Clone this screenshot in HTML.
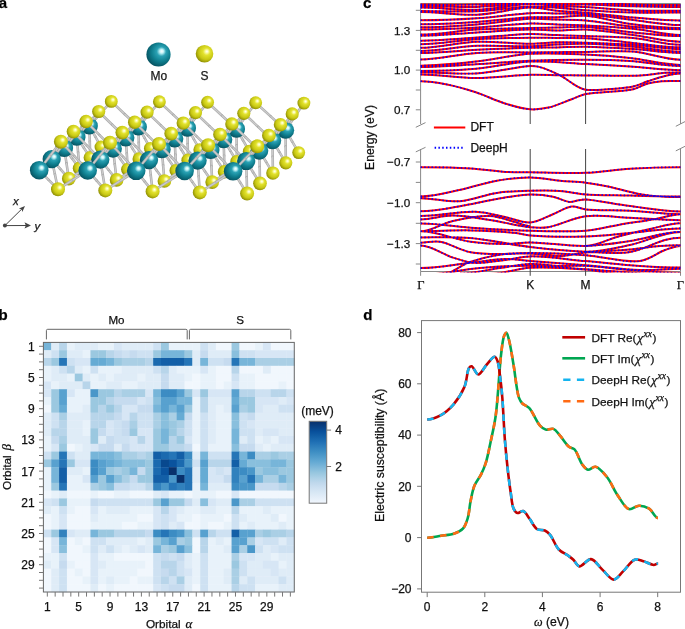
<!DOCTYPE html>
<html><head><meta charset="utf-8"><style>
html,body{margin:0;padding:0;background:#fff;overflow:hidden}
svg{display:block;font-family:"Liberation Sans",sans-serif;will-change:transform}
text{stroke:#111;stroke-width:0.25px}
</style></head><body>
<svg width="685" height="629" viewBox="0 0 685 629">
<rect width="685" height="629" fill="#fff"/>
<defs>
<radialGradient id="gMo" cx="0.58" cy="0.42" r="0.6" fx="0.64" fy="0.36">
<stop offset="0" stop-color="#ffffff"/><stop offset="0.13" stop-color="#c4f4f8"/><stop offset="0.32" stop-color="#2aa2b4"/><stop offset="0.65" stop-color="#0f7e8e"/><stop offset="1" stop-color="#065361"/></radialGradient>
<radialGradient id="gS" cx="0.58" cy="0.42" r="0.6" fx="0.64" fy="0.36">
<stop offset="0" stop-color="#ffffff"/><stop offset="0.14" stop-color="#fafaa8"/><stop offset="0.34" stop-color="#e2e22e"/><stop offset="0.7" stop-color="#c8c814"/><stop offset="1" stop-color="#8e8e04"/></radialGradient>
</defs>
<line x1="298.7" y1="152.6" x2="292.1" y2="141.4" stroke="#ababab" stroke-width="2.6" stroke-linecap="round"/><line x1="298.7" y1="152.6" x2="292.1" y2="141.4" stroke="#cdcdcd" stroke-width="1.2" stroke-linecap="round"/>
<circle cx="298.7" cy="152.6" r="6.44" fill="url(#gS)"/>
<line x1="249.3" y1="151.2" x2="242.9" y2="140.2" stroke="#ababab" stroke-width="2.6" stroke-linecap="round"/><line x1="249.3" y1="151.2" x2="242.9" y2="140.2" stroke="#cdcdcd" stroke-width="1.2" stroke-linecap="round"/>
<line x1="249.3" y1="151.2" x2="267.4" y2="140.7" stroke="#ababab" stroke-width="2.6" stroke-linecap="round"/><line x1="249.3" y1="151.2" x2="267.4" y2="140.7" stroke="#cdcdcd" stroke-width="1.2" stroke-linecap="round"/>
<circle cx="249.3" cy="151.2" r="6.44" fill="url(#gS)"/>
<line x1="199.8" y1="149.8" x2="193.7" y2="138.9" stroke="#ababab" stroke-width="2.6" stroke-linecap="round"/><line x1="199.8" y1="149.8" x2="193.7" y2="138.9" stroke="#cdcdcd" stroke-width="1.2" stroke-linecap="round"/>
<line x1="199.8" y1="149.8" x2="218.2" y2="139.5" stroke="#ababab" stroke-width="2.6" stroke-linecap="round"/><line x1="199.8" y1="149.8" x2="218.2" y2="139.5" stroke="#cdcdcd" stroke-width="1.2" stroke-linecap="round"/>
<circle cx="199.8" cy="149.8" r="6.44" fill="url(#gS)"/>
<line x1="150.4" y1="148.4" x2="144.4" y2="137.7" stroke="#ababab" stroke-width="2.6" stroke-linecap="round"/><line x1="150.4" y1="148.4" x2="144.4" y2="137.7" stroke="#cdcdcd" stroke-width="1.2" stroke-linecap="round"/>
<line x1="150.4" y1="148.4" x2="168.9" y2="138.2" stroke="#ababab" stroke-width="2.6" stroke-linecap="round"/><line x1="150.4" y1="148.4" x2="168.9" y2="138.2" stroke="#cdcdcd" stroke-width="1.2" stroke-linecap="round"/>
<circle cx="150.4" cy="148.4" r="6.44" fill="url(#gS)"/>
<line x1="101.0" y1="147.0" x2="95.2" y2="136.4" stroke="#ababab" stroke-width="2.6" stroke-linecap="round"/><line x1="101.0" y1="147.0" x2="95.2" y2="136.4" stroke="#cdcdcd" stroke-width="1.2" stroke-linecap="round"/>
<line x1="101.0" y1="147.0" x2="119.7" y2="137.0" stroke="#ababab" stroke-width="2.6" stroke-linecap="round"/><line x1="101.0" y1="147.0" x2="119.7" y2="137.0" stroke="#cdcdcd" stroke-width="1.2" stroke-linecap="round"/>
<circle cx="101.0" cy="147.0" r="6.44" fill="url(#gS)"/>
<line x1="303.9" y1="103.1" x2="294.8" y2="116.6" stroke="#ababab" stroke-width="2.6" stroke-linecap="round"/><line x1="303.9" y1="103.1" x2="294.8" y2="116.6" stroke="#cdcdcd" stroke-width="1.2" stroke-linecap="round"/>
<circle cx="303.9" cy="103.1" r="6.44" fill="url(#gS)"/>
<line x1="255.7" y1="102.7" x2="246.1" y2="115.9" stroke="#ababab" stroke-width="2.6" stroke-linecap="round"/><line x1="255.7" y1="102.7" x2="246.1" y2="115.9" stroke="#cdcdcd" stroke-width="1.2" stroke-linecap="round"/>
<line x1="255.7" y1="102.7" x2="270.7" y2="116.4" stroke="#ababab" stroke-width="2.6" stroke-linecap="round"/><line x1="255.7" y1="102.7" x2="270.7" y2="116.4" stroke="#cdcdcd" stroke-width="1.2" stroke-linecap="round"/>
<circle cx="255.7" cy="102.7" r="6.44" fill="url(#gS)"/>
<line x1="207.6" y1="102.2" x2="197.5" y2="115.2" stroke="#ababab" stroke-width="2.6" stroke-linecap="round"/><line x1="207.6" y1="102.2" x2="197.5" y2="115.2" stroke="#cdcdcd" stroke-width="1.2" stroke-linecap="round"/>
<line x1="207.6" y1="102.2" x2="222.1" y2="115.7" stroke="#ababab" stroke-width="2.6" stroke-linecap="round"/><line x1="207.6" y1="102.2" x2="222.1" y2="115.7" stroke="#cdcdcd" stroke-width="1.2" stroke-linecap="round"/>
<circle cx="207.6" cy="102.2" r="6.44" fill="url(#gS)"/>
<line x1="285.6" y1="130.2" x2="294.8" y2="116.6" stroke="#ababab" stroke-width="2.6" stroke-linecap="round"/><line x1="285.6" y1="130.2" x2="294.8" y2="116.6" stroke="#cdcdcd" stroke-width="1.2" stroke-linecap="round"/>
<line x1="285.6" y1="130.2" x2="270.7" y2="116.4" stroke="#ababab" stroke-width="2.6" stroke-linecap="round"/><line x1="285.6" y1="130.2" x2="270.7" y2="116.4" stroke="#cdcdcd" stroke-width="1.2" stroke-linecap="round"/>
<line x1="285.6" y1="130.2" x2="288.9" y2="122.0" stroke="#ababab" stroke-width="2.6" stroke-linecap="round"/><line x1="285.6" y1="130.2" x2="288.9" y2="122.0" stroke="#cdcdcd" stroke-width="1.2" stroke-linecap="round"/>
<line x1="285.6" y1="130.2" x2="292.1" y2="141.4" stroke="#ababab" stroke-width="2.6" stroke-linecap="round"/><line x1="285.6" y1="130.2" x2="292.1" y2="141.4" stroke="#cdcdcd" stroke-width="1.2" stroke-linecap="round"/>
<line x1="285.6" y1="130.2" x2="267.4" y2="140.7" stroke="#ababab" stroke-width="2.6" stroke-linecap="round"/><line x1="285.6" y1="130.2" x2="267.4" y2="140.7" stroke="#cdcdcd" stroke-width="1.2" stroke-linecap="round"/>
<line x1="285.6" y1="130.2" x2="285.7" y2="146.5" stroke="#ababab" stroke-width="2.6" stroke-linecap="round"/><line x1="285.6" y1="130.2" x2="285.7" y2="146.5" stroke="#cdcdcd" stroke-width="1.2" stroke-linecap="round"/>
<circle cx="285.6" cy="130.2" r="8.56" fill="url(#gMo)"/>
<line x1="159.4" y1="101.8" x2="148.9" y2="114.4" stroke="#ababab" stroke-width="2.6" stroke-linecap="round"/><line x1="159.4" y1="101.8" x2="148.9" y2="114.4" stroke="#cdcdcd" stroke-width="1.2" stroke-linecap="round"/>
<line x1="159.4" y1="101.8" x2="173.4" y2="114.9" stroke="#ababab" stroke-width="2.6" stroke-linecap="round"/><line x1="159.4" y1="101.8" x2="173.4" y2="114.9" stroke="#cdcdcd" stroke-width="1.2" stroke-linecap="round"/>
<circle cx="159.4" cy="101.8" r="6.44" fill="url(#gS)"/>
<line x1="236.5" y1="129.1" x2="246.1" y2="115.9" stroke="#ababab" stroke-width="2.6" stroke-linecap="round"/><line x1="236.5" y1="129.1" x2="246.1" y2="115.9" stroke="#cdcdcd" stroke-width="1.2" stroke-linecap="round"/>
<line x1="236.5" y1="129.1" x2="222.1" y2="115.7" stroke="#ababab" stroke-width="2.6" stroke-linecap="round"/><line x1="236.5" y1="129.1" x2="222.1" y2="115.7" stroke="#cdcdcd" stroke-width="1.2" stroke-linecap="round"/>
<line x1="236.5" y1="129.1" x2="240.2" y2="121.2" stroke="#ababab" stroke-width="2.6" stroke-linecap="round"/><line x1="236.5" y1="129.1" x2="240.2" y2="121.2" stroke="#cdcdcd" stroke-width="1.2" stroke-linecap="round"/>
<line x1="236.5" y1="129.1" x2="242.9" y2="140.2" stroke="#ababab" stroke-width="2.6" stroke-linecap="round"/><line x1="236.5" y1="129.1" x2="242.9" y2="140.2" stroke="#cdcdcd" stroke-width="1.2" stroke-linecap="round"/>
<line x1="236.5" y1="129.1" x2="218.2" y2="139.5" stroke="#ababab" stroke-width="2.6" stroke-linecap="round"/><line x1="236.5" y1="129.1" x2="218.2" y2="139.5" stroke="#cdcdcd" stroke-width="1.2" stroke-linecap="round"/>
<line x1="236.5" y1="129.1" x2="236.7" y2="145.3" stroke="#ababab" stroke-width="2.6" stroke-linecap="round"/><line x1="236.5" y1="129.1" x2="236.7" y2="145.3" stroke="#cdcdcd" stroke-width="1.2" stroke-linecap="round"/>
<circle cx="236.5" cy="129.1" r="8.56" fill="url(#gMo)"/>
<line x1="111.3" y1="101.4" x2="100.3" y2="113.7" stroke="#ababab" stroke-width="2.6" stroke-linecap="round"/><line x1="111.3" y1="101.4" x2="100.3" y2="113.7" stroke="#cdcdcd" stroke-width="1.2" stroke-linecap="round"/>
<line x1="111.3" y1="101.4" x2="124.8" y2="114.2" stroke="#ababab" stroke-width="2.6" stroke-linecap="round"/><line x1="111.3" y1="101.4" x2="124.8" y2="114.2" stroke="#cdcdcd" stroke-width="1.2" stroke-linecap="round"/>
<circle cx="111.3" cy="101.4" r="6.44" fill="url(#gS)"/>
<line x1="187.5" y1="128.1" x2="197.5" y2="115.2" stroke="#ababab" stroke-width="2.6" stroke-linecap="round"/><line x1="187.5" y1="128.1" x2="197.5" y2="115.2" stroke="#cdcdcd" stroke-width="1.2" stroke-linecap="round"/>
<line x1="187.5" y1="128.1" x2="173.4" y2="114.9" stroke="#ababab" stroke-width="2.6" stroke-linecap="round"/><line x1="187.5" y1="128.1" x2="173.4" y2="114.9" stroke="#cdcdcd" stroke-width="1.2" stroke-linecap="round"/>
<line x1="187.5" y1="128.1" x2="191.5" y2="120.4" stroke="#ababab" stroke-width="2.6" stroke-linecap="round"/><line x1="187.5" y1="128.1" x2="191.5" y2="120.4" stroke="#cdcdcd" stroke-width="1.2" stroke-linecap="round"/>
<line x1="187.5" y1="128.1" x2="193.7" y2="138.9" stroke="#ababab" stroke-width="2.6" stroke-linecap="round"/><line x1="187.5" y1="128.1" x2="193.7" y2="138.9" stroke="#cdcdcd" stroke-width="1.2" stroke-linecap="round"/>
<line x1="187.5" y1="128.1" x2="168.9" y2="138.2" stroke="#ababab" stroke-width="2.6" stroke-linecap="round"/><line x1="187.5" y1="128.1" x2="168.9" y2="138.2" stroke="#cdcdcd" stroke-width="1.2" stroke-linecap="round"/>
<line x1="187.5" y1="128.1" x2="187.7" y2="144.1" stroke="#ababab" stroke-width="2.6" stroke-linecap="round"/><line x1="187.5" y1="128.1" x2="187.7" y2="144.1" stroke="#cdcdcd" stroke-width="1.2" stroke-linecap="round"/>
<circle cx="187.5" cy="128.1" r="8.56" fill="url(#gMo)"/>
<line x1="138.4" y1="127.0" x2="148.9" y2="114.4" stroke="#ababab" stroke-width="2.6" stroke-linecap="round"/><line x1="138.4" y1="127.0" x2="148.9" y2="114.4" stroke="#cdcdcd" stroke-width="1.2" stroke-linecap="round"/>
<line x1="138.4" y1="127.0" x2="124.8" y2="114.2" stroke="#ababab" stroke-width="2.6" stroke-linecap="round"/><line x1="138.4" y1="127.0" x2="124.8" y2="114.2" stroke="#cdcdcd" stroke-width="1.2" stroke-linecap="round"/>
<line x1="138.4" y1="127.0" x2="142.7" y2="119.5" stroke="#ababab" stroke-width="2.6" stroke-linecap="round"/><line x1="138.4" y1="127.0" x2="142.7" y2="119.5" stroke="#cdcdcd" stroke-width="1.2" stroke-linecap="round"/>
<line x1="138.4" y1="127.0" x2="144.4" y2="137.7" stroke="#ababab" stroke-width="2.6" stroke-linecap="round"/><line x1="138.4" y1="127.0" x2="144.4" y2="137.7" stroke="#cdcdcd" stroke-width="1.2" stroke-linecap="round"/>
<line x1="138.4" y1="127.0" x2="119.7" y2="137.0" stroke="#ababab" stroke-width="2.6" stroke-linecap="round"/><line x1="138.4" y1="127.0" x2="119.7" y2="137.0" stroke="#cdcdcd" stroke-width="1.2" stroke-linecap="round"/>
<line x1="138.4" y1="127.0" x2="138.8" y2="142.9" stroke="#ababab" stroke-width="2.6" stroke-linecap="round"/><line x1="138.4" y1="127.0" x2="138.8" y2="142.9" stroke="#cdcdcd" stroke-width="1.2" stroke-linecap="round"/>
<circle cx="138.4" cy="127.0" r="8.56" fill="url(#gMo)"/>
<line x1="89.3" y1="125.9" x2="100.3" y2="113.7" stroke="#ababab" stroke-width="2.6" stroke-linecap="round"/><line x1="89.3" y1="125.9" x2="100.3" y2="113.7" stroke="#cdcdcd" stroke-width="1.2" stroke-linecap="round"/>
<line x1="89.3" y1="125.9" x2="94.0" y2="118.7" stroke="#ababab" stroke-width="2.6" stroke-linecap="round"/><line x1="89.3" y1="125.9" x2="94.0" y2="118.7" stroke="#cdcdcd" stroke-width="1.2" stroke-linecap="round"/>
<line x1="89.3" y1="125.9" x2="95.2" y2="136.4" stroke="#ababab" stroke-width="2.6" stroke-linecap="round"/><line x1="89.3" y1="125.9" x2="95.2" y2="136.4" stroke="#cdcdcd" stroke-width="1.2" stroke-linecap="round"/>
<line x1="89.3" y1="125.9" x2="89.8" y2="141.7" stroke="#ababab" stroke-width="2.6" stroke-linecap="round"/><line x1="89.3" y1="125.9" x2="89.8" y2="141.7" stroke="#cdcdcd" stroke-width="1.2" stroke-linecap="round"/>
<circle cx="89.3" cy="125.9" r="8.56" fill="url(#gMo)"/>
<line x1="285.8" y1="162.8" x2="279.1" y2="151.6" stroke="#ababab" stroke-width="2.6" stroke-linecap="round"/><line x1="285.8" y1="162.8" x2="279.1" y2="151.6" stroke="#cdcdcd" stroke-width="1.2" stroke-linecap="round"/>
<line x1="285.8" y1="162.8" x2="285.7" y2="146.5" stroke="#ababab" stroke-width="2.6" stroke-linecap="round"/><line x1="285.8" y1="162.8" x2="285.7" y2="146.5" stroke="#cdcdcd" stroke-width="1.2" stroke-linecap="round"/>
<circle cx="285.8" cy="162.8" r="6.58" fill="url(#gS)"/>
<line x1="236.9" y1="161.5" x2="230.2" y2="150.6" stroke="#ababab" stroke-width="2.6" stroke-linecap="round"/><line x1="236.9" y1="161.5" x2="230.2" y2="150.6" stroke="#cdcdcd" stroke-width="1.2" stroke-linecap="round"/>
<line x1="236.9" y1="161.5" x2="236.7" y2="145.3" stroke="#ababab" stroke-width="2.6" stroke-linecap="round"/><line x1="236.9" y1="161.5" x2="236.7" y2="145.3" stroke="#cdcdcd" stroke-width="1.2" stroke-linecap="round"/>
<line x1="236.9" y1="161.5" x2="254.7" y2="151.0" stroke="#ababab" stroke-width="2.6" stroke-linecap="round"/><line x1="236.9" y1="161.5" x2="254.7" y2="151.0" stroke="#cdcdcd" stroke-width="1.2" stroke-linecap="round"/>
<circle cx="236.9" cy="161.5" r="6.58" fill="url(#gS)"/>
<line x1="188.0" y1="160.2" x2="181.3" y2="149.5" stroke="#ababab" stroke-width="2.6" stroke-linecap="round"/><line x1="188.0" y1="160.2" x2="181.3" y2="149.5" stroke="#cdcdcd" stroke-width="1.2" stroke-linecap="round"/>
<line x1="188.0" y1="160.2" x2="187.7" y2="144.1" stroke="#ababab" stroke-width="2.6" stroke-linecap="round"/><line x1="188.0" y1="160.2" x2="187.7" y2="144.1" stroke="#cdcdcd" stroke-width="1.2" stroke-linecap="round"/>
<line x1="188.0" y1="160.2" x2="205.8" y2="149.9" stroke="#ababab" stroke-width="2.6" stroke-linecap="round"/><line x1="188.0" y1="160.2" x2="205.8" y2="149.9" stroke="#cdcdcd" stroke-width="1.2" stroke-linecap="round"/>
<circle cx="188.0" cy="160.2" r="6.58" fill="url(#gS)"/>
<line x1="139.1" y1="158.9" x2="132.4" y2="148.4" stroke="#ababab" stroke-width="2.6" stroke-linecap="round"/><line x1="139.1" y1="158.9" x2="132.4" y2="148.4" stroke="#cdcdcd" stroke-width="1.2" stroke-linecap="round"/>
<line x1="139.1" y1="158.9" x2="138.8" y2="142.9" stroke="#ababab" stroke-width="2.6" stroke-linecap="round"/><line x1="139.1" y1="158.9" x2="138.8" y2="142.9" stroke="#cdcdcd" stroke-width="1.2" stroke-linecap="round"/>
<line x1="139.1" y1="158.9" x2="156.9" y2="148.8" stroke="#ababab" stroke-width="2.6" stroke-linecap="round"/><line x1="139.1" y1="158.9" x2="156.9" y2="148.8" stroke="#cdcdcd" stroke-width="1.2" stroke-linecap="round"/>
<circle cx="139.1" cy="158.9" r="6.58" fill="url(#gS)"/>
<line x1="90.2" y1="157.6" x2="83.5" y2="147.3" stroke="#ababab" stroke-width="2.6" stroke-linecap="round"/><line x1="90.2" y1="157.6" x2="83.5" y2="147.3" stroke="#cdcdcd" stroke-width="1.2" stroke-linecap="round"/>
<line x1="90.2" y1="157.6" x2="89.8" y2="141.7" stroke="#ababab" stroke-width="2.6" stroke-linecap="round"/><line x1="90.2" y1="157.6" x2="89.8" y2="141.7" stroke="#cdcdcd" stroke-width="1.2" stroke-linecap="round"/>
<line x1="90.2" y1="157.6" x2="108.0" y2="147.7" stroke="#ababab" stroke-width="2.6" stroke-linecap="round"/><line x1="90.2" y1="157.6" x2="108.0" y2="147.7" stroke="#cdcdcd" stroke-width="1.2" stroke-linecap="round"/>
<circle cx="90.2" cy="157.6" r="6.58" fill="url(#gS)"/>
<line x1="292.2" y1="113.9" x2="282.4" y2="127.2" stroke="#ababab" stroke-width="2.6" stroke-linecap="round"/><line x1="292.2" y1="113.9" x2="282.4" y2="127.2" stroke="#cdcdcd" stroke-width="1.2" stroke-linecap="round"/>
<line x1="292.2" y1="113.9" x2="288.9" y2="122.0" stroke="#ababab" stroke-width="2.6" stroke-linecap="round"/><line x1="292.2" y1="113.9" x2="288.9" y2="122.0" stroke="#cdcdcd" stroke-width="1.2" stroke-linecap="round"/>
<circle cx="292.2" cy="113.9" r="6.58" fill="url(#gS)"/>
<line x1="243.8" y1="113.3" x2="233.7" y2="126.4" stroke="#ababab" stroke-width="2.6" stroke-linecap="round"/><line x1="243.8" y1="113.3" x2="233.7" y2="126.4" stroke="#cdcdcd" stroke-width="1.2" stroke-linecap="round"/>
<line x1="243.8" y1="113.3" x2="240.2" y2="121.2" stroke="#ababab" stroke-width="2.6" stroke-linecap="round"/><line x1="243.8" y1="113.3" x2="240.2" y2="121.2" stroke="#cdcdcd" stroke-width="1.2" stroke-linecap="round"/>
<line x1="243.8" y1="113.3" x2="258.2" y2="126.9" stroke="#ababab" stroke-width="2.6" stroke-linecap="round"/><line x1="243.8" y1="113.3" x2="258.2" y2="126.9" stroke="#cdcdcd" stroke-width="1.2" stroke-linecap="round"/>
<circle cx="243.8" cy="113.3" r="6.58" fill="url(#gS)"/>
<line x1="195.5" y1="112.7" x2="185.0" y2="125.7" stroke="#ababab" stroke-width="2.6" stroke-linecap="round"/><line x1="195.5" y1="112.7" x2="185.0" y2="125.7" stroke="#cdcdcd" stroke-width="1.2" stroke-linecap="round"/>
<line x1="195.5" y1="112.7" x2="191.5" y2="120.4" stroke="#ababab" stroke-width="2.6" stroke-linecap="round"/><line x1="195.5" y1="112.7" x2="191.5" y2="120.4" stroke="#cdcdcd" stroke-width="1.2" stroke-linecap="round"/>
<line x1="195.5" y1="112.7" x2="209.5" y2="126.1" stroke="#ababab" stroke-width="2.6" stroke-linecap="round"/><line x1="195.5" y1="112.7" x2="209.5" y2="126.1" stroke="#cdcdcd" stroke-width="1.2" stroke-linecap="round"/>
<circle cx="195.5" cy="112.7" r="6.58" fill="url(#gS)"/>
<line x1="272.5" y1="140.5" x2="282.4" y2="127.2" stroke="#ababab" stroke-width="2.6" stroke-linecap="round"/><line x1="272.5" y1="140.5" x2="282.4" y2="127.2" stroke="#cdcdcd" stroke-width="1.2" stroke-linecap="round"/>
<line x1="272.5" y1="140.5" x2="258.2" y2="126.9" stroke="#ababab" stroke-width="2.6" stroke-linecap="round"/><line x1="272.5" y1="140.5" x2="258.2" y2="126.9" stroke="#cdcdcd" stroke-width="1.2" stroke-linecap="round"/>
<line x1="272.5" y1="140.5" x2="276.5" y2="132.6" stroke="#ababab" stroke-width="2.6" stroke-linecap="round"/><line x1="272.5" y1="140.5" x2="276.5" y2="132.6" stroke="#cdcdcd" stroke-width="1.2" stroke-linecap="round"/>
<line x1="272.5" y1="140.5" x2="279.1" y2="151.6" stroke="#ababab" stroke-width="2.6" stroke-linecap="round"/><line x1="272.5" y1="140.5" x2="279.1" y2="151.6" stroke="#cdcdcd" stroke-width="1.2" stroke-linecap="round"/>
<line x1="272.5" y1="140.5" x2="254.7" y2="151.0" stroke="#ababab" stroke-width="2.6" stroke-linecap="round"/><line x1="272.5" y1="140.5" x2="254.7" y2="151.0" stroke="#cdcdcd" stroke-width="1.2" stroke-linecap="round"/>
<line x1="272.5" y1="140.5" x2="272.7" y2="156.8" stroke="#ababab" stroke-width="2.6" stroke-linecap="round"/><line x1="272.5" y1="140.5" x2="272.7" y2="156.8" stroke="#cdcdcd" stroke-width="1.2" stroke-linecap="round"/>
<circle cx="272.5" cy="140.5" r="8.74" fill="url(#gMo)"/>
<line x1="147.1" y1="112.1" x2="136.4" y2="125.0" stroke="#ababab" stroke-width="2.6" stroke-linecap="round"/><line x1="147.1" y1="112.1" x2="136.4" y2="125.0" stroke="#cdcdcd" stroke-width="1.2" stroke-linecap="round"/>
<line x1="147.1" y1="112.1" x2="142.7" y2="119.5" stroke="#ababab" stroke-width="2.6" stroke-linecap="round"/><line x1="147.1" y1="112.1" x2="142.7" y2="119.5" stroke="#cdcdcd" stroke-width="1.2" stroke-linecap="round"/>
<line x1="147.1" y1="112.1" x2="160.9" y2="125.4" stroke="#ababab" stroke-width="2.6" stroke-linecap="round"/><line x1="147.1" y1="112.1" x2="160.9" y2="125.4" stroke="#cdcdcd" stroke-width="1.2" stroke-linecap="round"/>
<circle cx="147.1" cy="112.1" r="6.58" fill="url(#gS)"/>
<line x1="223.6" y1="139.6" x2="233.7" y2="126.4" stroke="#ababab" stroke-width="2.6" stroke-linecap="round"/><line x1="223.6" y1="139.6" x2="233.7" y2="126.4" stroke="#cdcdcd" stroke-width="1.2" stroke-linecap="round"/>
<line x1="223.6" y1="139.6" x2="209.5" y2="126.1" stroke="#ababab" stroke-width="2.6" stroke-linecap="round"/><line x1="223.6" y1="139.6" x2="209.5" y2="126.1" stroke="#cdcdcd" stroke-width="1.2" stroke-linecap="round"/>
<line x1="223.6" y1="139.6" x2="227.7" y2="131.8" stroke="#ababab" stroke-width="2.6" stroke-linecap="round"/><line x1="223.6" y1="139.6" x2="227.7" y2="131.8" stroke="#cdcdcd" stroke-width="1.2" stroke-linecap="round"/>
<line x1="223.6" y1="139.6" x2="230.2" y2="150.6" stroke="#ababab" stroke-width="2.6" stroke-linecap="round"/><line x1="223.6" y1="139.6" x2="230.2" y2="150.6" stroke="#cdcdcd" stroke-width="1.2" stroke-linecap="round"/>
<line x1="223.6" y1="139.6" x2="205.8" y2="149.9" stroke="#ababab" stroke-width="2.6" stroke-linecap="round"/><line x1="223.6" y1="139.6" x2="205.8" y2="149.9" stroke="#cdcdcd" stroke-width="1.2" stroke-linecap="round"/>
<line x1="223.6" y1="139.6" x2="224.1" y2="155.7" stroke="#ababab" stroke-width="2.6" stroke-linecap="round"/><line x1="223.6" y1="139.6" x2="224.1" y2="155.7" stroke="#cdcdcd" stroke-width="1.2" stroke-linecap="round"/>
<circle cx="223.6" cy="139.6" r="8.74" fill="url(#gMo)"/>
<line x1="98.7" y1="111.5" x2="87.7" y2="124.2" stroke="#ababab" stroke-width="2.6" stroke-linecap="round"/><line x1="98.7" y1="111.5" x2="87.7" y2="124.2" stroke="#cdcdcd" stroke-width="1.2" stroke-linecap="round"/>
<line x1="98.7" y1="111.5" x2="94.0" y2="118.7" stroke="#ababab" stroke-width="2.6" stroke-linecap="round"/><line x1="98.7" y1="111.5" x2="94.0" y2="118.7" stroke="#cdcdcd" stroke-width="1.2" stroke-linecap="round"/>
<line x1="98.7" y1="111.5" x2="112.2" y2="124.7" stroke="#ababab" stroke-width="2.6" stroke-linecap="round"/><line x1="98.7" y1="111.5" x2="112.2" y2="124.7" stroke="#cdcdcd" stroke-width="1.2" stroke-linecap="round"/>
<circle cx="98.7" cy="111.5" r="6.58" fill="url(#gS)"/>
<line x1="174.6" y1="138.7" x2="185.0" y2="125.7" stroke="#ababab" stroke-width="2.6" stroke-linecap="round"/><line x1="174.6" y1="138.7" x2="185.0" y2="125.7" stroke="#cdcdcd" stroke-width="1.2" stroke-linecap="round"/>
<line x1="174.6" y1="138.7" x2="160.9" y2="125.4" stroke="#ababab" stroke-width="2.6" stroke-linecap="round"/><line x1="174.6" y1="138.7" x2="160.9" y2="125.4" stroke="#cdcdcd" stroke-width="1.2" stroke-linecap="round"/>
<line x1="174.6" y1="138.7" x2="179.0" y2="130.9" stroke="#ababab" stroke-width="2.6" stroke-linecap="round"/><line x1="174.6" y1="138.7" x2="179.0" y2="130.9" stroke="#cdcdcd" stroke-width="1.2" stroke-linecap="round"/>
<line x1="174.6" y1="138.7" x2="181.3" y2="149.5" stroke="#ababab" stroke-width="2.6" stroke-linecap="round"/><line x1="174.6" y1="138.7" x2="181.3" y2="149.5" stroke="#cdcdcd" stroke-width="1.2" stroke-linecap="round"/>
<line x1="174.6" y1="138.7" x2="156.9" y2="148.8" stroke="#ababab" stroke-width="2.6" stroke-linecap="round"/><line x1="174.6" y1="138.7" x2="156.9" y2="148.8" stroke="#cdcdcd" stroke-width="1.2" stroke-linecap="round"/>
<line x1="174.6" y1="138.7" x2="175.4" y2="154.7" stroke="#ababab" stroke-width="2.6" stroke-linecap="round"/><line x1="174.6" y1="138.7" x2="175.4" y2="154.7" stroke="#cdcdcd" stroke-width="1.2" stroke-linecap="round"/>
<circle cx="174.6" cy="138.7" r="8.74" fill="url(#gMo)"/>
<line x1="125.7" y1="137.8" x2="136.4" y2="125.0" stroke="#ababab" stroke-width="2.6" stroke-linecap="round"/><line x1="125.7" y1="137.8" x2="136.4" y2="125.0" stroke="#cdcdcd" stroke-width="1.2" stroke-linecap="round"/>
<line x1="125.7" y1="137.8" x2="112.2" y2="124.7" stroke="#ababab" stroke-width="2.6" stroke-linecap="round"/><line x1="125.7" y1="137.8" x2="112.2" y2="124.7" stroke="#cdcdcd" stroke-width="1.2" stroke-linecap="round"/>
<line x1="125.7" y1="137.8" x2="130.2" y2="130.1" stroke="#ababab" stroke-width="2.6" stroke-linecap="round"/><line x1="125.7" y1="137.8" x2="130.2" y2="130.1" stroke="#cdcdcd" stroke-width="1.2" stroke-linecap="round"/>
<line x1="125.7" y1="137.8" x2="132.4" y2="148.4" stroke="#ababab" stroke-width="2.6" stroke-linecap="round"/><line x1="125.7" y1="137.8" x2="132.4" y2="148.4" stroke="#cdcdcd" stroke-width="1.2" stroke-linecap="round"/>
<line x1="125.7" y1="137.8" x2="108.0" y2="147.7" stroke="#ababab" stroke-width="2.6" stroke-linecap="round"/><line x1="125.7" y1="137.8" x2="108.0" y2="147.7" stroke="#cdcdcd" stroke-width="1.2" stroke-linecap="round"/>
<line x1="125.7" y1="137.8" x2="126.8" y2="153.6" stroke="#ababab" stroke-width="2.6" stroke-linecap="round"/><line x1="125.7" y1="137.8" x2="126.8" y2="153.6" stroke="#cdcdcd" stroke-width="1.2" stroke-linecap="round"/>
<circle cx="125.7" cy="137.8" r="8.74" fill="url(#gMo)"/>
<line x1="76.8" y1="137.0" x2="87.7" y2="124.2" stroke="#ababab" stroke-width="2.6" stroke-linecap="round"/><line x1="76.8" y1="137.0" x2="87.7" y2="124.2" stroke="#cdcdcd" stroke-width="1.2" stroke-linecap="round"/>
<line x1="76.8" y1="137.0" x2="81.4" y2="129.3" stroke="#ababab" stroke-width="2.6" stroke-linecap="round"/><line x1="76.8" y1="137.0" x2="81.4" y2="129.3" stroke="#cdcdcd" stroke-width="1.2" stroke-linecap="round"/>
<line x1="76.8" y1="137.0" x2="83.5" y2="147.3" stroke="#ababab" stroke-width="2.6" stroke-linecap="round"/><line x1="76.8" y1="137.0" x2="83.5" y2="147.3" stroke="#cdcdcd" stroke-width="1.2" stroke-linecap="round"/>
<line x1="76.8" y1="137.0" x2="78.1" y2="152.6" stroke="#ababab" stroke-width="2.6" stroke-linecap="round"/><line x1="76.8" y1="137.0" x2="78.1" y2="152.6" stroke="#cdcdcd" stroke-width="1.2" stroke-linecap="round"/>
<circle cx="76.8" cy="137.0" r="8.74" fill="url(#gMo)"/>
<line x1="272.9" y1="173.1" x2="266.1" y2="161.9" stroke="#ababab" stroke-width="2.6" stroke-linecap="round"/><line x1="272.9" y1="173.1" x2="266.1" y2="161.9" stroke="#cdcdcd" stroke-width="1.2" stroke-linecap="round"/>
<line x1="272.9" y1="173.1" x2="272.7" y2="156.8" stroke="#ababab" stroke-width="2.6" stroke-linecap="round"/><line x1="272.9" y1="173.1" x2="272.7" y2="156.8" stroke="#cdcdcd" stroke-width="1.2" stroke-linecap="round"/>
<circle cx="272.9" cy="173.1" r="6.72" fill="url(#gS)"/>
<line x1="224.5" y1="171.8" x2="217.6" y2="160.9" stroke="#ababab" stroke-width="2.6" stroke-linecap="round"/><line x1="224.5" y1="171.8" x2="217.6" y2="160.9" stroke="#cdcdcd" stroke-width="1.2" stroke-linecap="round"/>
<line x1="224.5" y1="171.8" x2="224.1" y2="155.7" stroke="#ababab" stroke-width="2.6" stroke-linecap="round"/><line x1="224.5" y1="171.8" x2="224.1" y2="155.7" stroke="#cdcdcd" stroke-width="1.2" stroke-linecap="round"/>
<line x1="224.5" y1="171.8" x2="241.9" y2="161.3" stroke="#ababab" stroke-width="2.6" stroke-linecap="round"/><line x1="224.5" y1="171.8" x2="241.9" y2="161.3" stroke="#cdcdcd" stroke-width="1.2" stroke-linecap="round"/>
<circle cx="224.5" cy="171.8" r="6.72" fill="url(#gS)"/>
<line x1="176.2" y1="170.6" x2="169.0" y2="160.0" stroke="#ababab" stroke-width="2.6" stroke-linecap="round"/><line x1="176.2" y1="170.6" x2="169.0" y2="160.0" stroke="#cdcdcd" stroke-width="1.2" stroke-linecap="round"/>
<line x1="176.2" y1="170.6" x2="175.4" y2="154.7" stroke="#ababab" stroke-width="2.6" stroke-linecap="round"/><line x1="176.2" y1="170.6" x2="175.4" y2="154.7" stroke="#cdcdcd" stroke-width="1.2" stroke-linecap="round"/>
<line x1="176.2" y1="170.6" x2="193.4" y2="160.3" stroke="#ababab" stroke-width="2.6" stroke-linecap="round"/><line x1="176.2" y1="170.6" x2="193.4" y2="160.3" stroke="#cdcdcd" stroke-width="1.2" stroke-linecap="round"/>
<circle cx="176.2" cy="170.6" r="6.72" fill="url(#gS)"/>
<line x1="127.8" y1="169.4" x2="120.4" y2="159.1" stroke="#ababab" stroke-width="2.6" stroke-linecap="round"/><line x1="127.8" y1="169.4" x2="120.4" y2="159.1" stroke="#cdcdcd" stroke-width="1.2" stroke-linecap="round"/>
<line x1="127.8" y1="169.4" x2="126.8" y2="153.6" stroke="#ababab" stroke-width="2.6" stroke-linecap="round"/><line x1="127.8" y1="169.4" x2="126.8" y2="153.6" stroke="#cdcdcd" stroke-width="1.2" stroke-linecap="round"/>
<line x1="127.8" y1="169.4" x2="144.8" y2="159.4" stroke="#ababab" stroke-width="2.6" stroke-linecap="round"/><line x1="127.8" y1="169.4" x2="144.8" y2="159.4" stroke="#cdcdcd" stroke-width="1.2" stroke-linecap="round"/>
<circle cx="127.8" cy="169.4" r="6.72" fill="url(#gS)"/>
<line x1="79.5" y1="168.2" x2="71.9" y2="158.1" stroke="#ababab" stroke-width="2.6" stroke-linecap="round"/><line x1="79.5" y1="168.2" x2="71.9" y2="158.1" stroke="#cdcdcd" stroke-width="1.2" stroke-linecap="round"/>
<line x1="79.5" y1="168.2" x2="78.1" y2="152.6" stroke="#ababab" stroke-width="2.6" stroke-linecap="round"/><line x1="79.5" y1="168.2" x2="78.1" y2="152.6" stroke="#cdcdcd" stroke-width="1.2" stroke-linecap="round"/>
<line x1="79.5" y1="168.2" x2="96.3" y2="158.4" stroke="#ababab" stroke-width="2.6" stroke-linecap="round"/><line x1="79.5" y1="168.2" x2="96.3" y2="158.4" stroke="#cdcdcd" stroke-width="1.2" stroke-linecap="round"/>
<circle cx="79.5" cy="168.2" r="6.72" fill="url(#gS)"/>
<line x1="280.5" y1="124.7" x2="269.9" y2="137.7" stroke="#ababab" stroke-width="2.6" stroke-linecap="round"/><line x1="280.5" y1="124.7" x2="269.9" y2="137.7" stroke="#cdcdcd" stroke-width="1.2" stroke-linecap="round"/>
<line x1="280.5" y1="124.7" x2="276.5" y2="132.6" stroke="#ababab" stroke-width="2.6" stroke-linecap="round"/><line x1="280.5" y1="124.7" x2="276.5" y2="132.6" stroke="#cdcdcd" stroke-width="1.2" stroke-linecap="round"/>
<circle cx="280.5" cy="124.7" r="6.72" fill="url(#gS)"/>
<line x1="231.9" y1="123.9" x2="221.3" y2="137.0" stroke="#ababab" stroke-width="2.6" stroke-linecap="round"/><line x1="231.9" y1="123.9" x2="221.3" y2="137.0" stroke="#cdcdcd" stroke-width="1.2" stroke-linecap="round"/>
<line x1="231.9" y1="123.9" x2="227.7" y2="131.8" stroke="#ababab" stroke-width="2.6" stroke-linecap="round"/><line x1="231.9" y1="123.9" x2="227.7" y2="131.8" stroke="#cdcdcd" stroke-width="1.2" stroke-linecap="round"/>
<line x1="231.9" y1="123.9" x2="245.6" y2="137.3" stroke="#ababab" stroke-width="2.6" stroke-linecap="round"/><line x1="231.9" y1="123.9" x2="245.6" y2="137.3" stroke="#cdcdcd" stroke-width="1.2" stroke-linecap="round"/>
<circle cx="231.9" cy="123.9" r="6.72" fill="url(#gS)"/>
<line x1="183.3" y1="123.1" x2="172.6" y2="136.3" stroke="#ababab" stroke-width="2.6" stroke-linecap="round"/><line x1="183.3" y1="123.1" x2="172.6" y2="136.3" stroke="#cdcdcd" stroke-width="1.2" stroke-linecap="round"/>
<line x1="183.3" y1="123.1" x2="179.0" y2="130.9" stroke="#ababab" stroke-width="2.6" stroke-linecap="round"/><line x1="183.3" y1="123.1" x2="179.0" y2="130.9" stroke="#cdcdcd" stroke-width="1.2" stroke-linecap="round"/>
<line x1="183.3" y1="123.1" x2="196.9" y2="136.6" stroke="#ababab" stroke-width="2.6" stroke-linecap="round"/><line x1="183.3" y1="123.1" x2="196.9" y2="136.6" stroke="#cdcdcd" stroke-width="1.2" stroke-linecap="round"/>
<circle cx="183.3" cy="123.1" r="6.72" fill="url(#gS)"/>
<line x1="259.4" y1="150.8" x2="269.9" y2="137.7" stroke="#ababab" stroke-width="2.6" stroke-linecap="round"/><line x1="259.4" y1="150.8" x2="269.9" y2="137.7" stroke="#cdcdcd" stroke-width="1.2" stroke-linecap="round"/>
<line x1="259.4" y1="150.8" x2="245.6" y2="137.3" stroke="#ababab" stroke-width="2.6" stroke-linecap="round"/><line x1="259.4" y1="150.8" x2="245.6" y2="137.3" stroke="#cdcdcd" stroke-width="1.2" stroke-linecap="round"/>
<line x1="259.4" y1="150.8" x2="264.1" y2="143.1" stroke="#ababab" stroke-width="2.6" stroke-linecap="round"/><line x1="259.4" y1="150.8" x2="264.1" y2="143.1" stroke="#cdcdcd" stroke-width="1.2" stroke-linecap="round"/>
<line x1="259.4" y1="150.8" x2="266.1" y2="161.9" stroke="#ababab" stroke-width="2.6" stroke-linecap="round"/><line x1="259.4" y1="150.8" x2="266.1" y2="161.9" stroke="#cdcdcd" stroke-width="1.2" stroke-linecap="round"/>
<line x1="259.4" y1="150.8" x2="241.9" y2="161.3" stroke="#ababab" stroke-width="2.6" stroke-linecap="round"/><line x1="259.4" y1="150.8" x2="241.9" y2="161.3" stroke="#cdcdcd" stroke-width="1.2" stroke-linecap="round"/>
<line x1="259.4" y1="150.8" x2="259.7" y2="167.0" stroke="#ababab" stroke-width="2.6" stroke-linecap="round"/><line x1="259.4" y1="150.8" x2="259.7" y2="167.0" stroke="#cdcdcd" stroke-width="1.2" stroke-linecap="round"/>
<circle cx="259.4" cy="150.8" r="8.93" fill="url(#gMo)"/>
<line x1="134.7" y1="122.3" x2="123.9" y2="135.5" stroke="#ababab" stroke-width="2.6" stroke-linecap="round"/><line x1="134.7" y1="122.3" x2="123.9" y2="135.5" stroke="#cdcdcd" stroke-width="1.2" stroke-linecap="round"/>
<line x1="134.7" y1="122.3" x2="130.2" y2="130.1" stroke="#ababab" stroke-width="2.6" stroke-linecap="round"/><line x1="134.7" y1="122.3" x2="130.2" y2="130.1" stroke="#cdcdcd" stroke-width="1.2" stroke-linecap="round"/>
<line x1="134.7" y1="122.3" x2="148.3" y2="135.9" stroke="#ababab" stroke-width="2.6" stroke-linecap="round"/><line x1="134.7" y1="122.3" x2="148.3" y2="135.9" stroke="#cdcdcd" stroke-width="1.2" stroke-linecap="round"/>
<circle cx="134.7" cy="122.3" r="6.72" fill="url(#gS)"/>
<line x1="210.6" y1="150.1" x2="221.3" y2="137.0" stroke="#ababab" stroke-width="2.6" stroke-linecap="round"/><line x1="210.6" y1="150.1" x2="221.3" y2="137.0" stroke="#cdcdcd" stroke-width="1.2" stroke-linecap="round"/>
<line x1="210.6" y1="150.1" x2="196.9" y2="136.6" stroke="#ababab" stroke-width="2.6" stroke-linecap="round"/><line x1="210.6" y1="150.1" x2="196.9" y2="136.6" stroke="#cdcdcd" stroke-width="1.2" stroke-linecap="round"/>
<line x1="210.6" y1="150.1" x2="215.3" y2="142.3" stroke="#ababab" stroke-width="2.6" stroke-linecap="round"/><line x1="210.6" y1="150.1" x2="215.3" y2="142.3" stroke="#cdcdcd" stroke-width="1.2" stroke-linecap="round"/>
<line x1="210.6" y1="150.1" x2="217.6" y2="160.9" stroke="#ababab" stroke-width="2.6" stroke-linecap="round"/><line x1="210.6" y1="150.1" x2="217.6" y2="160.9" stroke="#cdcdcd" stroke-width="1.2" stroke-linecap="round"/>
<line x1="210.6" y1="150.1" x2="193.4" y2="160.3" stroke="#ababab" stroke-width="2.6" stroke-linecap="round"/><line x1="210.6" y1="150.1" x2="193.4" y2="160.3" stroke="#cdcdcd" stroke-width="1.2" stroke-linecap="round"/>
<line x1="210.6" y1="150.1" x2="211.4" y2="166.1" stroke="#ababab" stroke-width="2.6" stroke-linecap="round"/><line x1="210.6" y1="150.1" x2="211.4" y2="166.1" stroke="#cdcdcd" stroke-width="1.2" stroke-linecap="round"/>
<circle cx="210.6" cy="150.1" r="8.93" fill="url(#gMo)"/>
<line x1="86.1" y1="121.5" x2="75.2" y2="134.8" stroke="#ababab" stroke-width="2.6" stroke-linecap="round"/><line x1="86.1" y1="121.5" x2="75.2" y2="134.8" stroke="#cdcdcd" stroke-width="1.2" stroke-linecap="round"/>
<line x1="86.1" y1="121.5" x2="81.4" y2="129.3" stroke="#ababab" stroke-width="2.6" stroke-linecap="round"/><line x1="86.1" y1="121.5" x2="81.4" y2="129.3" stroke="#cdcdcd" stroke-width="1.2" stroke-linecap="round"/>
<line x1="86.1" y1="121.5" x2="99.6" y2="135.1" stroke="#ababab" stroke-width="2.6" stroke-linecap="round"/><line x1="86.1" y1="121.5" x2="99.6" y2="135.1" stroke="#cdcdcd" stroke-width="1.2" stroke-linecap="round"/>
<circle cx="86.1" cy="121.5" r="6.72" fill="url(#gS)"/>
<line x1="161.8" y1="149.4" x2="172.6" y2="136.3" stroke="#ababab" stroke-width="2.6" stroke-linecap="round"/><line x1="161.8" y1="149.4" x2="172.6" y2="136.3" stroke="#cdcdcd" stroke-width="1.2" stroke-linecap="round"/>
<line x1="161.8" y1="149.4" x2="148.3" y2="135.9" stroke="#ababab" stroke-width="2.6" stroke-linecap="round"/><line x1="161.8" y1="149.4" x2="148.3" y2="135.9" stroke="#cdcdcd" stroke-width="1.2" stroke-linecap="round"/>
<line x1="161.8" y1="149.4" x2="166.5" y2="141.5" stroke="#ababab" stroke-width="2.6" stroke-linecap="round"/><line x1="161.8" y1="149.4" x2="166.5" y2="141.5" stroke="#cdcdcd" stroke-width="1.2" stroke-linecap="round"/>
<line x1="161.8" y1="149.4" x2="169.0" y2="160.0" stroke="#ababab" stroke-width="2.6" stroke-linecap="round"/><line x1="161.8" y1="149.4" x2="169.0" y2="160.0" stroke="#cdcdcd" stroke-width="1.2" stroke-linecap="round"/>
<line x1="161.8" y1="149.4" x2="144.8" y2="159.4" stroke="#ababab" stroke-width="2.6" stroke-linecap="round"/><line x1="161.8" y1="149.4" x2="144.8" y2="159.4" stroke="#cdcdcd" stroke-width="1.2" stroke-linecap="round"/>
<line x1="161.8" y1="149.4" x2="163.1" y2="165.2" stroke="#ababab" stroke-width="2.6" stroke-linecap="round"/><line x1="161.8" y1="149.4" x2="163.1" y2="165.2" stroke="#cdcdcd" stroke-width="1.2" stroke-linecap="round"/>
<circle cx="161.8" cy="149.4" r="8.93" fill="url(#gMo)"/>
<line x1="113.0" y1="148.7" x2="123.9" y2="135.5" stroke="#ababab" stroke-width="2.6" stroke-linecap="round"/><line x1="113.0" y1="148.7" x2="123.9" y2="135.5" stroke="#cdcdcd" stroke-width="1.2" stroke-linecap="round"/>
<line x1="113.0" y1="148.7" x2="99.6" y2="135.1" stroke="#ababab" stroke-width="2.6" stroke-linecap="round"/><line x1="113.0" y1="148.7" x2="99.6" y2="135.1" stroke="#cdcdcd" stroke-width="1.2" stroke-linecap="round"/>
<line x1="113.0" y1="148.7" x2="117.7" y2="140.7" stroke="#ababab" stroke-width="2.6" stroke-linecap="round"/><line x1="113.0" y1="148.7" x2="117.7" y2="140.7" stroke="#cdcdcd" stroke-width="1.2" stroke-linecap="round"/>
<line x1="113.0" y1="148.7" x2="120.4" y2="159.1" stroke="#ababab" stroke-width="2.6" stroke-linecap="round"/><line x1="113.0" y1="148.7" x2="120.4" y2="159.1" stroke="#cdcdcd" stroke-width="1.2" stroke-linecap="round"/>
<line x1="113.0" y1="148.7" x2="96.3" y2="158.4" stroke="#ababab" stroke-width="2.6" stroke-linecap="round"/><line x1="113.0" y1="148.7" x2="96.3" y2="158.4" stroke="#cdcdcd" stroke-width="1.2" stroke-linecap="round"/>
<line x1="113.0" y1="148.7" x2="114.8" y2="164.3" stroke="#ababab" stroke-width="2.6" stroke-linecap="round"/><line x1="113.0" y1="148.7" x2="114.8" y2="164.3" stroke="#cdcdcd" stroke-width="1.2" stroke-linecap="round"/>
<circle cx="113.0" cy="148.7" r="8.93" fill="url(#gMo)"/>
<line x1="64.2" y1="148.1" x2="75.2" y2="134.8" stroke="#ababab" stroke-width="2.6" stroke-linecap="round"/><line x1="64.2" y1="148.1" x2="75.2" y2="134.8" stroke="#cdcdcd" stroke-width="1.2" stroke-linecap="round"/>
<line x1="64.2" y1="148.1" x2="68.9" y2="139.8" stroke="#ababab" stroke-width="2.6" stroke-linecap="round"/><line x1="64.2" y1="148.1" x2="68.9" y2="139.8" stroke="#cdcdcd" stroke-width="1.2" stroke-linecap="round"/>
<line x1="64.2" y1="148.1" x2="71.9" y2="158.1" stroke="#ababab" stroke-width="2.6" stroke-linecap="round"/><line x1="64.2" y1="148.1" x2="71.9" y2="158.1" stroke="#cdcdcd" stroke-width="1.2" stroke-linecap="round"/>
<line x1="64.2" y1="148.1" x2="66.5" y2="163.4" stroke="#ababab" stroke-width="2.6" stroke-linecap="round"/><line x1="64.2" y1="148.1" x2="66.5" y2="163.4" stroke="#cdcdcd" stroke-width="1.2" stroke-linecap="round"/>
<circle cx="64.2" cy="148.1" r="8.93" fill="url(#gMo)"/>
<line x1="260.0" y1="183.3" x2="253.1" y2="172.2" stroke="#ababab" stroke-width="2.6" stroke-linecap="round"/><line x1="260.0" y1="183.3" x2="253.1" y2="172.2" stroke="#cdcdcd" stroke-width="1.2" stroke-linecap="round"/>
<line x1="260.0" y1="183.3" x2="259.7" y2="167.0" stroke="#ababab" stroke-width="2.6" stroke-linecap="round"/><line x1="260.0" y1="183.3" x2="259.7" y2="167.0" stroke="#cdcdcd" stroke-width="1.2" stroke-linecap="round"/>
<circle cx="260.0" cy="183.3" r="6.86" fill="url(#gS)"/>
<line x1="212.2" y1="182.1" x2="204.9" y2="171.3" stroke="#ababab" stroke-width="2.6" stroke-linecap="round"/><line x1="212.2" y1="182.1" x2="204.9" y2="171.3" stroke="#cdcdcd" stroke-width="1.2" stroke-linecap="round"/>
<line x1="212.2" y1="182.1" x2="211.4" y2="166.1" stroke="#ababab" stroke-width="2.6" stroke-linecap="round"/><line x1="212.2" y1="182.1" x2="211.4" y2="166.1" stroke="#cdcdcd" stroke-width="1.2" stroke-linecap="round"/>
<line x1="212.2" y1="182.1" x2="229.2" y2="171.6" stroke="#ababab" stroke-width="2.6" stroke-linecap="round"/><line x1="212.2" y1="182.1" x2="229.2" y2="171.6" stroke="#cdcdcd" stroke-width="1.2" stroke-linecap="round"/>
<circle cx="212.2" cy="182.1" r="6.86" fill="url(#gS)"/>
<line x1="164.4" y1="181.0" x2="156.7" y2="170.5" stroke="#ababab" stroke-width="2.6" stroke-linecap="round"/><line x1="164.4" y1="181.0" x2="156.7" y2="170.5" stroke="#cdcdcd" stroke-width="1.2" stroke-linecap="round"/>
<line x1="164.4" y1="181.0" x2="163.1" y2="165.2" stroke="#ababab" stroke-width="2.6" stroke-linecap="round"/><line x1="164.4" y1="181.0" x2="163.1" y2="165.2" stroke="#cdcdcd" stroke-width="1.2" stroke-linecap="round"/>
<line x1="164.4" y1="181.0" x2="181.0" y2="170.8" stroke="#ababab" stroke-width="2.6" stroke-linecap="round"/><line x1="164.4" y1="181.0" x2="181.0" y2="170.8" stroke="#cdcdcd" stroke-width="1.2" stroke-linecap="round"/>
<circle cx="164.4" cy="181.0" r="6.86" fill="url(#gS)"/>
<line x1="116.6" y1="179.9" x2="108.5" y2="169.7" stroke="#ababab" stroke-width="2.6" stroke-linecap="round"/><line x1="116.6" y1="179.9" x2="108.5" y2="169.7" stroke="#cdcdcd" stroke-width="1.2" stroke-linecap="round"/>
<line x1="116.6" y1="179.9" x2="114.8" y2="164.3" stroke="#ababab" stroke-width="2.6" stroke-linecap="round"/><line x1="116.6" y1="179.9" x2="114.8" y2="164.3" stroke="#cdcdcd" stroke-width="1.2" stroke-linecap="round"/>
<line x1="116.6" y1="179.9" x2="132.8" y2="170.0" stroke="#ababab" stroke-width="2.6" stroke-linecap="round"/><line x1="116.6" y1="179.9" x2="132.8" y2="170.0" stroke="#cdcdcd" stroke-width="1.2" stroke-linecap="round"/>
<circle cx="116.6" cy="179.9" r="6.86" fill="url(#gS)"/>
<line x1="68.8" y1="178.7" x2="60.2" y2="168.9" stroke="#ababab" stroke-width="2.6" stroke-linecap="round"/><line x1="68.8" y1="178.7" x2="60.2" y2="168.9" stroke="#cdcdcd" stroke-width="1.2" stroke-linecap="round"/>
<line x1="68.8" y1="178.7" x2="66.5" y2="163.4" stroke="#ababab" stroke-width="2.6" stroke-linecap="round"/><line x1="68.8" y1="178.7" x2="66.5" y2="163.4" stroke="#cdcdcd" stroke-width="1.2" stroke-linecap="round"/>
<line x1="68.8" y1="178.7" x2="84.5" y2="169.2" stroke="#ababab" stroke-width="2.6" stroke-linecap="round"/><line x1="68.8" y1="178.7" x2="84.5" y2="169.2" stroke="#cdcdcd" stroke-width="1.2" stroke-linecap="round"/>
<circle cx="68.8" cy="178.7" r="6.86" fill="url(#gS)"/>
<line x1="268.9" y1="135.5" x2="257.6" y2="148.3" stroke="#ababab" stroke-width="2.6" stroke-linecap="round"/><line x1="268.9" y1="135.5" x2="257.6" y2="148.3" stroke="#cdcdcd" stroke-width="1.2" stroke-linecap="round"/>
<line x1="268.9" y1="135.5" x2="264.1" y2="143.1" stroke="#ababab" stroke-width="2.6" stroke-linecap="round"/><line x1="268.9" y1="135.5" x2="264.1" y2="143.1" stroke="#cdcdcd" stroke-width="1.2" stroke-linecap="round"/>
<circle cx="268.9" cy="135.5" r="6.86" fill="url(#gS)"/>
<line x1="220.0" y1="134.5" x2="208.8" y2="147.5" stroke="#ababab" stroke-width="2.6" stroke-linecap="round"/><line x1="220.0" y1="134.5" x2="208.8" y2="147.5" stroke="#cdcdcd" stroke-width="1.2" stroke-linecap="round"/>
<line x1="220.0" y1="134.5" x2="215.3" y2="142.3" stroke="#ababab" stroke-width="2.6" stroke-linecap="round"/><line x1="220.0" y1="134.5" x2="215.3" y2="142.3" stroke="#cdcdcd" stroke-width="1.2" stroke-linecap="round"/>
<line x1="220.0" y1="134.5" x2="233.1" y2="147.8" stroke="#ababab" stroke-width="2.6" stroke-linecap="round"/><line x1="220.0" y1="134.5" x2="233.1" y2="147.8" stroke="#cdcdcd" stroke-width="1.2" stroke-linecap="round"/>
<circle cx="220.0" cy="134.5" r="6.86" fill="url(#gS)"/>
<line x1="171.2" y1="133.6" x2="160.1" y2="146.8" stroke="#ababab" stroke-width="2.6" stroke-linecap="round"/><line x1="171.2" y1="133.6" x2="160.1" y2="146.8" stroke="#cdcdcd" stroke-width="1.2" stroke-linecap="round"/>
<line x1="171.2" y1="133.6" x2="166.5" y2="141.5" stroke="#ababab" stroke-width="2.6" stroke-linecap="round"/><line x1="171.2" y1="133.6" x2="166.5" y2="141.5" stroke="#cdcdcd" stroke-width="1.2" stroke-linecap="round"/>
<line x1="171.2" y1="133.6" x2="184.4" y2="147.1" stroke="#ababab" stroke-width="2.6" stroke-linecap="round"/><line x1="171.2" y1="133.6" x2="184.4" y2="147.1" stroke="#cdcdcd" stroke-width="1.2" stroke-linecap="round"/>
<circle cx="171.2" cy="133.6" r="6.86" fill="url(#gS)"/>
<line x1="246.2" y1="161.0" x2="257.6" y2="148.3" stroke="#ababab" stroke-width="2.6" stroke-linecap="round"/><line x1="246.2" y1="161.0" x2="257.6" y2="148.3" stroke="#cdcdcd" stroke-width="1.2" stroke-linecap="round"/>
<line x1="246.2" y1="161.0" x2="233.1" y2="147.8" stroke="#ababab" stroke-width="2.6" stroke-linecap="round"/><line x1="246.2" y1="161.0" x2="233.1" y2="147.8" stroke="#cdcdcd" stroke-width="1.2" stroke-linecap="round"/>
<line x1="246.2" y1="161.0" x2="251.7" y2="153.7" stroke="#ababab" stroke-width="2.6" stroke-linecap="round"/><line x1="246.2" y1="161.0" x2="251.7" y2="153.7" stroke="#cdcdcd" stroke-width="1.2" stroke-linecap="round"/>
<line x1="246.2" y1="161.0" x2="253.1" y2="172.2" stroke="#ababab" stroke-width="2.6" stroke-linecap="round"/><line x1="246.2" y1="161.0" x2="253.1" y2="172.2" stroke="#cdcdcd" stroke-width="1.2" stroke-linecap="round"/>
<line x1="246.2" y1="161.0" x2="229.2" y2="171.6" stroke="#ababab" stroke-width="2.6" stroke-linecap="round"/><line x1="246.2" y1="161.0" x2="229.2" y2="171.6" stroke="#cdcdcd" stroke-width="1.2" stroke-linecap="round"/>
<line x1="246.2" y1="161.0" x2="246.7" y2="177.3" stroke="#ababab" stroke-width="2.6" stroke-linecap="round"/><line x1="246.2" y1="161.0" x2="246.7" y2="177.3" stroke="#cdcdcd" stroke-width="1.2" stroke-linecap="round"/>
<circle cx="246.2" cy="161.0" r="9.11" fill="url(#gMo)"/>
<line x1="122.3" y1="132.6" x2="111.3" y2="146.1" stroke="#ababab" stroke-width="2.6" stroke-linecap="round"/><line x1="122.3" y1="132.6" x2="111.3" y2="146.1" stroke="#cdcdcd" stroke-width="1.2" stroke-linecap="round"/>
<line x1="122.3" y1="132.6" x2="117.7" y2="140.7" stroke="#ababab" stroke-width="2.6" stroke-linecap="round"/><line x1="122.3" y1="132.6" x2="117.7" y2="140.7" stroke="#cdcdcd" stroke-width="1.2" stroke-linecap="round"/>
<line x1="122.3" y1="132.6" x2="135.7" y2="146.3" stroke="#ababab" stroke-width="2.6" stroke-linecap="round"/><line x1="122.3" y1="132.6" x2="135.7" y2="146.3" stroke="#cdcdcd" stroke-width="1.2" stroke-linecap="round"/>
<circle cx="122.3" cy="132.6" r="6.86" fill="url(#gS)"/>
<line x1="197.6" y1="160.6" x2="208.8" y2="147.5" stroke="#ababab" stroke-width="2.6" stroke-linecap="round"/><line x1="197.6" y1="160.6" x2="208.8" y2="147.5" stroke="#cdcdcd" stroke-width="1.2" stroke-linecap="round"/>
<line x1="197.6" y1="160.6" x2="184.4" y2="147.1" stroke="#ababab" stroke-width="2.6" stroke-linecap="round"/><line x1="197.6" y1="160.6" x2="184.4" y2="147.1" stroke="#cdcdcd" stroke-width="1.2" stroke-linecap="round"/>
<line x1="197.6" y1="160.6" x2="202.9" y2="152.9" stroke="#ababab" stroke-width="2.6" stroke-linecap="round"/><line x1="197.6" y1="160.6" x2="202.9" y2="152.9" stroke="#cdcdcd" stroke-width="1.2" stroke-linecap="round"/>
<line x1="197.6" y1="160.6" x2="204.9" y2="171.3" stroke="#ababab" stroke-width="2.6" stroke-linecap="round"/><line x1="197.6" y1="160.6" x2="204.9" y2="171.3" stroke="#cdcdcd" stroke-width="1.2" stroke-linecap="round"/>
<line x1="197.6" y1="160.6" x2="181.0" y2="170.8" stroke="#ababab" stroke-width="2.6" stroke-linecap="round"/><line x1="197.6" y1="160.6" x2="181.0" y2="170.8" stroke="#cdcdcd" stroke-width="1.2" stroke-linecap="round"/>
<line x1="197.6" y1="160.6" x2="198.7" y2="176.5" stroke="#ababab" stroke-width="2.6" stroke-linecap="round"/><line x1="197.6" y1="160.6" x2="198.7" y2="176.5" stroke="#cdcdcd" stroke-width="1.2" stroke-linecap="round"/>
<circle cx="197.6" cy="160.6" r="9.11" fill="url(#gMo)"/>
<line x1="73.5" y1="131.6" x2="62.6" y2="145.4" stroke="#ababab" stroke-width="2.6" stroke-linecap="round"/><line x1="73.5" y1="131.6" x2="62.6" y2="145.4" stroke="#cdcdcd" stroke-width="1.2" stroke-linecap="round"/>
<line x1="73.5" y1="131.6" x2="68.9" y2="139.8" stroke="#ababab" stroke-width="2.6" stroke-linecap="round"/><line x1="73.5" y1="131.6" x2="68.9" y2="139.8" stroke="#cdcdcd" stroke-width="1.2" stroke-linecap="round"/>
<line x1="73.5" y1="131.6" x2="86.9" y2="145.6" stroke="#ababab" stroke-width="2.6" stroke-linecap="round"/><line x1="73.5" y1="131.6" x2="86.9" y2="145.6" stroke="#cdcdcd" stroke-width="1.2" stroke-linecap="round"/>
<circle cx="73.5" cy="131.6" r="6.86" fill="url(#gS)"/>
<line x1="149.0" y1="160.1" x2="160.1" y2="146.8" stroke="#ababab" stroke-width="2.6" stroke-linecap="round"/><line x1="149.0" y1="160.1" x2="160.1" y2="146.8" stroke="#cdcdcd" stroke-width="1.2" stroke-linecap="round"/>
<line x1="149.0" y1="160.1" x2="135.7" y2="146.3" stroke="#ababab" stroke-width="2.6" stroke-linecap="round"/><line x1="149.0" y1="160.1" x2="135.7" y2="146.3" stroke="#cdcdcd" stroke-width="1.2" stroke-linecap="round"/>
<line x1="149.0" y1="160.1" x2="154.0" y2="152.0" stroke="#ababab" stroke-width="2.6" stroke-linecap="round"/><line x1="149.0" y1="160.1" x2="154.0" y2="152.0" stroke="#cdcdcd" stroke-width="1.2" stroke-linecap="round"/>
<line x1="149.0" y1="160.1" x2="156.7" y2="170.5" stroke="#ababab" stroke-width="2.6" stroke-linecap="round"/><line x1="149.0" y1="160.1" x2="156.7" y2="170.5" stroke="#cdcdcd" stroke-width="1.2" stroke-linecap="round"/>
<line x1="149.0" y1="160.1" x2="132.8" y2="170.0" stroke="#ababab" stroke-width="2.6" stroke-linecap="round"/><line x1="149.0" y1="160.1" x2="132.8" y2="170.0" stroke="#cdcdcd" stroke-width="1.2" stroke-linecap="round"/>
<line x1="149.0" y1="160.1" x2="150.8" y2="175.7" stroke="#ababab" stroke-width="2.6" stroke-linecap="round"/><line x1="149.0" y1="160.1" x2="150.8" y2="175.7" stroke="#cdcdcd" stroke-width="1.2" stroke-linecap="round"/>
<circle cx="149.0" cy="160.1" r="9.11" fill="url(#gMo)"/>
<line x1="100.3" y1="159.6" x2="111.3" y2="146.1" stroke="#ababab" stroke-width="2.6" stroke-linecap="round"/><line x1="100.3" y1="159.6" x2="111.3" y2="146.1" stroke="#cdcdcd" stroke-width="1.2" stroke-linecap="round"/>
<line x1="100.3" y1="159.6" x2="86.9" y2="145.6" stroke="#ababab" stroke-width="2.6" stroke-linecap="round"/><line x1="100.3" y1="159.6" x2="86.9" y2="145.6" stroke="#cdcdcd" stroke-width="1.2" stroke-linecap="round"/>
<line x1="100.3" y1="159.6" x2="105.2" y2="151.2" stroke="#ababab" stroke-width="2.6" stroke-linecap="round"/><line x1="100.3" y1="159.6" x2="105.2" y2="151.2" stroke="#cdcdcd" stroke-width="1.2" stroke-linecap="round"/>
<line x1="100.3" y1="159.6" x2="108.5" y2="169.7" stroke="#ababab" stroke-width="2.6" stroke-linecap="round"/><line x1="100.3" y1="159.6" x2="108.5" y2="169.7" stroke="#cdcdcd" stroke-width="1.2" stroke-linecap="round"/>
<line x1="100.3" y1="159.6" x2="84.5" y2="169.2" stroke="#ababab" stroke-width="2.6" stroke-linecap="round"/><line x1="100.3" y1="159.6" x2="84.5" y2="169.2" stroke="#cdcdcd" stroke-width="1.2" stroke-linecap="round"/>
<line x1="100.3" y1="159.6" x2="102.8" y2="175.0" stroke="#ababab" stroke-width="2.6" stroke-linecap="round"/><line x1="100.3" y1="159.6" x2="102.8" y2="175.0" stroke="#cdcdcd" stroke-width="1.2" stroke-linecap="round"/>
<circle cx="100.3" cy="159.6" r="9.11" fill="url(#gMo)"/>
<line x1="51.7" y1="159.1" x2="62.6" y2="145.4" stroke="#ababab" stroke-width="2.6" stroke-linecap="round"/><line x1="51.7" y1="159.1" x2="62.6" y2="145.4" stroke="#cdcdcd" stroke-width="1.2" stroke-linecap="round"/>
<line x1="51.7" y1="159.1" x2="56.3" y2="150.4" stroke="#ababab" stroke-width="2.6" stroke-linecap="round"/><line x1="51.7" y1="159.1" x2="56.3" y2="150.4" stroke="#cdcdcd" stroke-width="1.2" stroke-linecap="round"/>
<line x1="51.7" y1="159.1" x2="60.2" y2="168.9" stroke="#ababab" stroke-width="2.6" stroke-linecap="round"/><line x1="51.7" y1="159.1" x2="60.2" y2="168.9" stroke="#cdcdcd" stroke-width="1.2" stroke-linecap="round"/>
<line x1="51.7" y1="159.1" x2="54.9" y2="174.2" stroke="#ababab" stroke-width="2.6" stroke-linecap="round"/><line x1="51.7" y1="159.1" x2="54.9" y2="174.2" stroke="#cdcdcd" stroke-width="1.2" stroke-linecap="round"/>
<circle cx="51.7" cy="159.1" r="9.11" fill="url(#gMo)"/>
<line x1="247.1" y1="193.5" x2="240.1" y2="182.4" stroke="#ababab" stroke-width="2.6" stroke-linecap="round"/><line x1="247.1" y1="193.5" x2="240.1" y2="182.4" stroke="#cdcdcd" stroke-width="1.2" stroke-linecap="round"/>
<line x1="247.1" y1="193.5" x2="246.7" y2="177.3" stroke="#ababab" stroke-width="2.6" stroke-linecap="round"/><line x1="247.1" y1="193.5" x2="246.7" y2="177.3" stroke="#cdcdcd" stroke-width="1.2" stroke-linecap="round"/>
<circle cx="247.1" cy="193.5" r="7.00" fill="url(#gS)"/>
<line x1="199.8" y1="192.4" x2="192.2" y2="181.7" stroke="#ababab" stroke-width="2.6" stroke-linecap="round"/><line x1="199.8" y1="192.4" x2="192.2" y2="181.7" stroke="#cdcdcd" stroke-width="1.2" stroke-linecap="round"/>
<line x1="199.8" y1="192.4" x2="198.7" y2="176.5" stroke="#ababab" stroke-width="2.6" stroke-linecap="round"/><line x1="199.8" y1="192.4" x2="198.7" y2="176.5" stroke="#cdcdcd" stroke-width="1.2" stroke-linecap="round"/>
<line x1="199.8" y1="192.4" x2="216.5" y2="181.9" stroke="#ababab" stroke-width="2.6" stroke-linecap="round"/><line x1="199.8" y1="192.4" x2="216.5" y2="181.9" stroke="#cdcdcd" stroke-width="1.2" stroke-linecap="round"/>
<circle cx="199.8" cy="192.4" r="7.00" fill="url(#gS)"/>
<line x1="152.6" y1="191.4" x2="144.4" y2="181.1" stroke="#ababab" stroke-width="2.6" stroke-linecap="round"/><line x1="152.6" y1="191.4" x2="144.4" y2="181.1" stroke="#cdcdcd" stroke-width="1.2" stroke-linecap="round"/>
<line x1="152.6" y1="191.4" x2="150.8" y2="175.7" stroke="#ababab" stroke-width="2.6" stroke-linecap="round"/><line x1="152.6" y1="191.4" x2="150.8" y2="175.7" stroke="#cdcdcd" stroke-width="1.2" stroke-linecap="round"/>
<line x1="152.6" y1="191.4" x2="168.6" y2="181.2" stroke="#ababab" stroke-width="2.6" stroke-linecap="round"/><line x1="152.6" y1="191.4" x2="168.6" y2="181.2" stroke="#cdcdcd" stroke-width="1.2" stroke-linecap="round"/>
<circle cx="152.6" cy="191.4" r="7.00" fill="url(#gS)"/>
<line x1="105.3" y1="190.4" x2="96.5" y2="180.4" stroke="#ababab" stroke-width="2.6" stroke-linecap="round"/><line x1="105.3" y1="190.4" x2="96.5" y2="180.4" stroke="#cdcdcd" stroke-width="1.2" stroke-linecap="round"/>
<line x1="105.3" y1="190.4" x2="102.8" y2="175.0" stroke="#ababab" stroke-width="2.6" stroke-linecap="round"/><line x1="105.3" y1="190.4" x2="102.8" y2="175.0" stroke="#cdcdcd" stroke-width="1.2" stroke-linecap="round"/>
<line x1="105.3" y1="190.4" x2="120.7" y2="180.6" stroke="#ababab" stroke-width="2.6" stroke-linecap="round"/><line x1="105.3" y1="190.4" x2="120.7" y2="180.6" stroke="#cdcdcd" stroke-width="1.2" stroke-linecap="round"/>
<circle cx="105.3" cy="190.4" r="7.00" fill="url(#gS)"/>
<line x1="58.0" y1="189.3" x2="48.6" y2="179.8" stroke="#ababab" stroke-width="2.6" stroke-linecap="round"/><line x1="58.0" y1="189.3" x2="48.6" y2="179.8" stroke="#cdcdcd" stroke-width="1.2" stroke-linecap="round"/>
<line x1="58.0" y1="189.3" x2="54.9" y2="174.2" stroke="#ababab" stroke-width="2.6" stroke-linecap="round"/><line x1="58.0" y1="189.3" x2="54.9" y2="174.2" stroke="#cdcdcd" stroke-width="1.2" stroke-linecap="round"/>
<line x1="58.0" y1="189.3" x2="72.8" y2="179.9" stroke="#ababab" stroke-width="2.6" stroke-linecap="round"/><line x1="58.0" y1="189.3" x2="72.8" y2="179.9" stroke="#cdcdcd" stroke-width="1.2" stroke-linecap="round"/>
<circle cx="58.0" cy="189.3" r="7.00" fill="url(#gS)"/>
<line x1="257.2" y1="146.3" x2="245.1" y2="158.8" stroke="#ababab" stroke-width="2.6" stroke-linecap="round"/><line x1="257.2" y1="146.3" x2="245.1" y2="158.8" stroke="#cdcdcd" stroke-width="1.2" stroke-linecap="round"/>
<line x1="257.2" y1="146.3" x2="251.7" y2="153.7" stroke="#ababab" stroke-width="2.6" stroke-linecap="round"/><line x1="257.2" y1="146.3" x2="251.7" y2="153.7" stroke="#cdcdcd" stroke-width="1.2" stroke-linecap="round"/>
<circle cx="257.2" cy="146.3" r="7.00" fill="url(#gS)"/>
<line x1="208.1" y1="145.2" x2="196.4" y2="158.1" stroke="#ababab" stroke-width="2.6" stroke-linecap="round"/><line x1="208.1" y1="145.2" x2="196.4" y2="158.1" stroke="#cdcdcd" stroke-width="1.2" stroke-linecap="round"/>
<line x1="208.1" y1="145.2" x2="202.9" y2="152.9" stroke="#ababab" stroke-width="2.6" stroke-linecap="round"/><line x1="208.1" y1="145.2" x2="202.9" y2="152.9" stroke="#cdcdcd" stroke-width="1.2" stroke-linecap="round"/>
<line x1="208.1" y1="145.2" x2="220.6" y2="158.2" stroke="#ababab" stroke-width="2.6" stroke-linecap="round"/><line x1="208.1" y1="145.2" x2="220.6" y2="158.2" stroke="#cdcdcd" stroke-width="1.2" stroke-linecap="round"/>
<circle cx="208.1" cy="145.2" r="7.00" fill="url(#gS)"/>
<line x1="159.0" y1="144.0" x2="147.6" y2="157.4" stroke="#ababab" stroke-width="2.6" stroke-linecap="round"/><line x1="159.0" y1="144.0" x2="147.6" y2="157.4" stroke="#cdcdcd" stroke-width="1.2" stroke-linecap="round"/>
<line x1="159.0" y1="144.0" x2="154.0" y2="152.0" stroke="#ababab" stroke-width="2.6" stroke-linecap="round"/><line x1="159.0" y1="144.0" x2="154.0" y2="152.0" stroke="#cdcdcd" stroke-width="1.2" stroke-linecap="round"/>
<line x1="159.0" y1="144.0" x2="171.8" y2="157.5" stroke="#ababab" stroke-width="2.6" stroke-linecap="round"/><line x1="159.0" y1="144.0" x2="171.8" y2="157.5" stroke="#cdcdcd" stroke-width="1.2" stroke-linecap="round"/>
<circle cx="159.0" cy="144.0" r="7.00" fill="url(#gS)"/>
<line x1="233.1" y1="171.3" x2="245.1" y2="158.8" stroke="#ababab" stroke-width="2.6" stroke-linecap="round"/><line x1="233.1" y1="171.3" x2="245.1" y2="158.8" stroke="#cdcdcd" stroke-width="1.2" stroke-linecap="round"/>
<line x1="233.1" y1="171.3" x2="220.6" y2="158.2" stroke="#ababab" stroke-width="2.6" stroke-linecap="round"/><line x1="233.1" y1="171.3" x2="220.6" y2="158.2" stroke="#cdcdcd" stroke-width="1.2" stroke-linecap="round"/>
<line x1="233.1" y1="171.3" x2="240.1" y2="182.4" stroke="#ababab" stroke-width="2.6" stroke-linecap="round"/><line x1="233.1" y1="171.3" x2="240.1" y2="182.4" stroke="#cdcdcd" stroke-width="1.2" stroke-linecap="round"/>
<line x1="233.1" y1="171.3" x2="216.5" y2="181.9" stroke="#ababab" stroke-width="2.6" stroke-linecap="round"/><line x1="233.1" y1="171.3" x2="216.5" y2="181.9" stroke="#cdcdcd" stroke-width="1.2" stroke-linecap="round"/>
<circle cx="233.1" cy="171.3" r="9.30" fill="url(#gMo)"/>
<line x1="110.0" y1="142.8" x2="98.8" y2="156.7" stroke="#ababab" stroke-width="2.6" stroke-linecap="round"/><line x1="110.0" y1="142.8" x2="98.8" y2="156.7" stroke="#cdcdcd" stroke-width="1.2" stroke-linecap="round"/>
<line x1="110.0" y1="142.8" x2="105.2" y2="151.2" stroke="#ababab" stroke-width="2.6" stroke-linecap="round"/><line x1="110.0" y1="142.8" x2="105.2" y2="151.2" stroke="#cdcdcd" stroke-width="1.2" stroke-linecap="round"/>
<line x1="110.0" y1="142.8" x2="123.1" y2="156.8" stroke="#ababab" stroke-width="2.6" stroke-linecap="round"/><line x1="110.0" y1="142.8" x2="123.1" y2="156.8" stroke="#cdcdcd" stroke-width="1.2" stroke-linecap="round"/>
<circle cx="110.0" cy="142.8" r="7.00" fill="url(#gS)"/>
<line x1="184.6" y1="171.0" x2="196.4" y2="158.1" stroke="#ababab" stroke-width="2.6" stroke-linecap="round"/><line x1="184.6" y1="171.0" x2="196.4" y2="158.1" stroke="#cdcdcd" stroke-width="1.2" stroke-linecap="round"/>
<line x1="184.6" y1="171.0" x2="171.8" y2="157.5" stroke="#ababab" stroke-width="2.6" stroke-linecap="round"/><line x1="184.6" y1="171.0" x2="171.8" y2="157.5" stroke="#cdcdcd" stroke-width="1.2" stroke-linecap="round"/>
<line x1="184.6" y1="171.0" x2="192.2" y2="181.7" stroke="#ababab" stroke-width="2.6" stroke-linecap="round"/><line x1="184.6" y1="171.0" x2="192.2" y2="181.7" stroke="#cdcdcd" stroke-width="1.2" stroke-linecap="round"/>
<line x1="184.6" y1="171.0" x2="168.6" y2="181.2" stroke="#ababab" stroke-width="2.6" stroke-linecap="round"/><line x1="184.6" y1="171.0" x2="168.6" y2="181.2" stroke="#cdcdcd" stroke-width="1.2" stroke-linecap="round"/>
<circle cx="184.6" cy="171.0" r="9.30" fill="url(#gMo)"/>
<line x1="60.9" y1="141.7" x2="50.0" y2="155.9" stroke="#ababab" stroke-width="2.6" stroke-linecap="round"/><line x1="60.9" y1="141.7" x2="50.0" y2="155.9" stroke="#cdcdcd" stroke-width="1.2" stroke-linecap="round"/>
<line x1="60.9" y1="141.7" x2="56.3" y2="150.4" stroke="#ababab" stroke-width="2.6" stroke-linecap="round"/><line x1="60.9" y1="141.7" x2="56.3" y2="150.4" stroke="#cdcdcd" stroke-width="1.2" stroke-linecap="round"/>
<line x1="60.9" y1="141.7" x2="74.3" y2="156.1" stroke="#ababab" stroke-width="2.6" stroke-linecap="round"/><line x1="60.9" y1="141.7" x2="74.3" y2="156.1" stroke="#cdcdcd" stroke-width="1.2" stroke-linecap="round"/>
<circle cx="60.9" cy="141.7" r="7.00" fill="url(#gS)"/>
<line x1="136.2" y1="170.8" x2="147.6" y2="157.4" stroke="#ababab" stroke-width="2.6" stroke-linecap="round"/><line x1="136.2" y1="170.8" x2="147.6" y2="157.4" stroke="#cdcdcd" stroke-width="1.2" stroke-linecap="round"/>
<line x1="136.2" y1="170.8" x2="123.1" y2="156.8" stroke="#ababab" stroke-width="2.6" stroke-linecap="round"/><line x1="136.2" y1="170.8" x2="123.1" y2="156.8" stroke="#cdcdcd" stroke-width="1.2" stroke-linecap="round"/>
<line x1="136.2" y1="170.8" x2="144.4" y2="181.1" stroke="#ababab" stroke-width="2.6" stroke-linecap="round"/><line x1="136.2" y1="170.8" x2="144.4" y2="181.1" stroke="#cdcdcd" stroke-width="1.2" stroke-linecap="round"/>
<line x1="136.2" y1="170.8" x2="120.7" y2="180.6" stroke="#ababab" stroke-width="2.6" stroke-linecap="round"/><line x1="136.2" y1="170.8" x2="120.7" y2="180.6" stroke="#cdcdcd" stroke-width="1.2" stroke-linecap="round"/>
<circle cx="136.2" cy="170.8" r="9.30" fill="url(#gMo)"/>
<line x1="87.7" y1="170.5" x2="98.8" y2="156.7" stroke="#ababab" stroke-width="2.6" stroke-linecap="round"/><line x1="87.7" y1="170.5" x2="98.8" y2="156.7" stroke="#cdcdcd" stroke-width="1.2" stroke-linecap="round"/>
<line x1="87.7" y1="170.5" x2="74.3" y2="156.1" stroke="#ababab" stroke-width="2.6" stroke-linecap="round"/><line x1="87.7" y1="170.5" x2="74.3" y2="156.1" stroke="#cdcdcd" stroke-width="1.2" stroke-linecap="round"/>
<line x1="87.7" y1="170.5" x2="96.5" y2="180.4" stroke="#ababab" stroke-width="2.6" stroke-linecap="round"/><line x1="87.7" y1="170.5" x2="96.5" y2="180.4" stroke="#cdcdcd" stroke-width="1.2" stroke-linecap="round"/>
<line x1="87.7" y1="170.5" x2="72.8" y2="179.9" stroke="#ababab" stroke-width="2.6" stroke-linecap="round"/><line x1="87.7" y1="170.5" x2="72.8" y2="179.9" stroke="#cdcdcd" stroke-width="1.2" stroke-linecap="round"/>
<circle cx="87.7" cy="170.5" r="9.30" fill="url(#gMo)"/>
<line x1="39.2" y1="170.2" x2="50.0" y2="155.9" stroke="#ababab" stroke-width="2.6" stroke-linecap="round"/><line x1="39.2" y1="170.2" x2="50.0" y2="155.9" stroke="#cdcdcd" stroke-width="1.2" stroke-linecap="round"/>
<line x1="39.2" y1="170.2" x2="48.6" y2="179.8" stroke="#ababab" stroke-width="2.6" stroke-linecap="round"/><line x1="39.2" y1="170.2" x2="48.6" y2="179.8" stroke="#cdcdcd" stroke-width="1.2" stroke-linecap="round"/>
<circle cx="39.2" cy="170.2" r="9.30" fill="url(#gMo)"/>
<circle cx="158.5" cy="54.5" r="12.1" fill="url(#gMo)"/>
<circle cx="204.5" cy="53.8" r="8.8" fill="url(#gS)"/>
<text x="158.8" y="80.2" font-size="12" text-anchor="middle" fill="#222">Mo</text>
<text x="204.5" y="80.2" font-size="12" text-anchor="middle" fill="#222">S</text>
<text x="-1.2" y="7.7" font-size="15" font-weight="bold">a</text>
<g stroke="#444" fill="#444">
<circle cx="4.9" cy="225.6" r="2" stroke="none"/>
<line x1="4.9" y1="225.6" x2="27" y2="225.5" stroke-width="1"/>
<path d="M31,225.4 L24.5,222.2 L25.8,225.4 L24.5,228.6 Z" stroke="none"/>
<line x1="4.9" y1="225.6" x2="22" y2="208.8" stroke-width="1"/>
<path d="M25,205.9 L18.9,208.6 L21.7,209.2 L22.3,212.0 Z" stroke="none"/>
</g>
<text x="15.9" y="204.8" font-size="11.5" font-style="italic" text-anchor="middle" fill="#222">x</text>
<text x="37.4" y="230.2" font-size="11.5" font-style="italic" text-anchor="middle" fill="#222">y</text>
<rect x="43.40" y="342.40" width="8.19" height="8.15" fill="#77b5d9"/>
<rect x="51.24" y="342.40" width="8.19" height="8.15" fill="#dfecf7"/>
<rect x="59.08" y="342.40" width="8.19" height="8.15" fill="#b8d5ea"/>
<rect x="66.92" y="342.40" width="8.19" height="8.15" fill="#e8f2fa"/>
<rect x="74.76" y="342.40" width="8.19" height="8.15" fill="#dfecf7"/>
<rect x="82.60" y="342.40" width="8.19" height="8.15" fill="#dfecf7"/>
<rect x="90.44" y="342.40" width="8.19" height="8.15" fill="#dfecf7"/>
<rect x="98.28" y="342.40" width="8.19" height="8.15" fill="#e8f2fa"/>
<rect x="106.12" y="342.40" width="8.19" height="8.15" fill="#e8f2fa"/>
<rect x="113.96" y="342.40" width="8.19" height="8.15" fill="#d7e6f5"/>
<rect x="121.80" y="342.40" width="8.19" height="8.15" fill="#dfecf7"/>
<rect x="129.64" y="342.40" width="8.19" height="8.15" fill="#dfecf7"/>
<rect x="137.48" y="342.40" width="8.19" height="8.15" fill="#dfecf7"/>
<rect x="145.32" y="342.40" width="8.19" height="8.15" fill="#dfecf7"/>
<rect x="153.16" y="342.40" width="8.19" height="8.15" fill="#cee1f2"/>
<rect x="161.00" y="342.40" width="8.19" height="8.15" fill="#9bc8e0"/>
<rect x="168.84" y="342.40" width="8.19" height="8.15" fill="#e8f2fa"/>
<rect x="176.68" y="342.40" width="8.19" height="8.15" fill="#e8f2fa"/>
<rect x="184.52" y="342.40" width="8.19" height="8.15" fill="#e8f2fa"/>
<rect x="192.36" y="342.40" width="8.19" height="8.15" fill="#e8f2fa"/>
<rect x="200.20" y="342.40" width="8.19" height="8.15" fill="#cee1f2"/>
<rect x="208.04" y="342.40" width="8.19" height="8.15" fill="#dfecf7"/>
<rect x="215.88" y="342.40" width="8.19" height="8.15" fill="#f1f7fd"/>
<rect x="223.72" y="342.40" width="8.19" height="8.15" fill="#f1f7fd"/>
<rect x="231.56" y="342.40" width="8.19" height="8.15" fill="#9bc8e0"/>
<rect x="239.40" y="342.40" width="8.19" height="8.15" fill="#f1f7fd"/>
<rect x="247.24" y="342.40" width="8.19" height="8.15" fill="#f1f7fd"/>
<rect x="255.08" y="342.40" width="8.19" height="8.15" fill="#e8f2fa"/>
<rect x="262.92" y="342.40" width="8.19" height="8.15" fill="#d7e6f5"/>
<rect x="270.76" y="342.40" width="8.19" height="8.15" fill="#f1f7fd"/>
<rect x="278.60" y="342.40" width="8.19" height="8.15" fill="#f1f7fd"/>
<rect x="286.44" y="342.40" width="8.19" height="8.15" fill="#f1f7fd"/>
<rect x="43.40" y="350.20" width="8.19" height="8.15" fill="#dfecf7"/>
<rect x="51.24" y="350.20" width="8.19" height="8.15" fill="#cee1f2"/>
<rect x="59.08" y="350.20" width="8.19" height="8.15" fill="#9bc8e0"/>
<rect x="66.92" y="350.20" width="8.19" height="8.15" fill="#dfecf7"/>
<rect x="74.76" y="350.20" width="8.19" height="8.15" fill="#dfecf7"/>
<rect x="82.60" y="350.20" width="8.19" height="8.15" fill="#e8f2fa"/>
<rect x="90.44" y="350.20" width="8.19" height="8.15" fill="#9bc8e0"/>
<rect x="98.28" y="350.20" width="8.19" height="8.15" fill="#9bc8e0"/>
<rect x="106.12" y="350.20" width="8.19" height="8.15" fill="#b8d5ea"/>
<rect x="113.96" y="350.20" width="8.19" height="8.15" fill="#c6dbef"/>
<rect x="121.80" y="350.20" width="8.19" height="8.15" fill="#cee1f2"/>
<rect x="129.64" y="350.20" width="8.19" height="8.15" fill="#c6dbef"/>
<rect x="137.48" y="350.20" width="8.19" height="8.15" fill="#cee1f2"/>
<rect x="145.32" y="350.20" width="8.19" height="8.15" fill="#cee1f2"/>
<rect x="153.16" y="350.20" width="8.19" height="8.15" fill="#9bc8e0"/>
<rect x="161.00" y="350.20" width="8.19" height="8.15" fill="#77b5d9"/>
<rect x="168.84" y="350.20" width="8.19" height="8.15" fill="#77b5d9"/>
<rect x="176.68" y="350.20" width="8.19" height="8.15" fill="#77b5d9"/>
<rect x="184.52" y="350.20" width="8.19" height="8.15" fill="#9bc8e0"/>
<rect x="192.36" y="350.20" width="8.19" height="8.15" fill="#dfecf7"/>
<rect x="200.20" y="350.20" width="8.19" height="8.15" fill="#c6dbef"/>
<rect x="208.04" y="350.20" width="8.19" height="8.15" fill="#dfecf7"/>
<rect x="215.88" y="350.20" width="8.19" height="8.15" fill="#dfecf7"/>
<rect x="223.72" y="350.20" width="8.19" height="8.15" fill="#dfecf7"/>
<rect x="231.56" y="350.20" width="8.19" height="8.15" fill="#89bfdd"/>
<rect x="239.40" y="350.20" width="8.19" height="8.15" fill="#cee1f2"/>
<rect x="247.24" y="350.20" width="8.19" height="8.15" fill="#cee1f2"/>
<rect x="255.08" y="350.20" width="8.19" height="8.15" fill="#d7e6f5"/>
<rect x="262.92" y="350.20" width="8.19" height="8.15" fill="#d7e6f5"/>
<rect x="270.76" y="350.20" width="8.19" height="8.15" fill="#d7e6f5"/>
<rect x="278.60" y="350.20" width="8.19" height="8.15" fill="#d7e6f5"/>
<rect x="286.44" y="350.20" width="8.19" height="8.15" fill="#d7e6f5"/>
<rect x="43.40" y="358.00" width="8.19" height="8.15" fill="#b8d5ea"/>
<rect x="51.24" y="358.00" width="8.19" height="8.15" fill="#9bc8e0"/>
<rect x="59.08" y="358.00" width="8.19" height="8.15" fill="#2575b7"/>
<rect x="66.92" y="358.00" width="8.19" height="8.15" fill="#cee1f2"/>
<rect x="74.76" y="358.00" width="8.19" height="8.15" fill="#d7e6f5"/>
<rect x="82.60" y="358.00" width="8.19" height="8.15" fill="#d7e6f5"/>
<rect x="90.44" y="358.00" width="8.19" height="8.15" fill="#66abd4"/>
<rect x="98.28" y="358.00" width="8.19" height="8.15" fill="#66abd4"/>
<rect x="106.12" y="358.00" width="8.19" height="8.15" fill="#77b5d9"/>
<rect x="113.96" y="358.00" width="8.19" height="8.15" fill="#9bc8e0"/>
<rect x="121.80" y="358.00" width="8.19" height="8.15" fill="#aacfe5"/>
<rect x="129.64" y="358.00" width="8.19" height="8.15" fill="#aacfe5"/>
<rect x="137.48" y="358.00" width="8.19" height="8.15" fill="#aacfe5"/>
<rect x="145.32" y="358.00" width="8.19" height="8.15" fill="#b8d5ea"/>
<rect x="153.16" y="358.00" width="8.19" height="8.15" fill="#1b6aaf"/>
<rect x="161.00" y="358.00" width="8.19" height="8.15" fill="#135fa7"/>
<rect x="168.84" y="358.00" width="8.19" height="8.15" fill="#135fa7"/>
<rect x="176.68" y="358.00" width="8.19" height="8.15" fill="#135fa7"/>
<rect x="184.52" y="358.00" width="8.19" height="8.15" fill="#2575b7"/>
<rect x="192.36" y="358.00" width="8.19" height="8.15" fill="#dfecf7"/>
<rect x="200.20" y="358.00" width="8.19" height="8.15" fill="#77b5d9"/>
<rect x="208.04" y="358.00" width="8.19" height="8.15" fill="#cee1f2"/>
<rect x="215.88" y="358.00" width="8.19" height="8.15" fill="#cee1f2"/>
<rect x="223.72" y="358.00" width="8.19" height="8.15" fill="#c6dbef"/>
<rect x="231.56" y="358.00" width="8.19" height="8.15" fill="#2575b7"/>
<rect x="239.40" y="358.00" width="8.19" height="8.15" fill="#77b5d9"/>
<rect x="247.24" y="358.00" width="8.19" height="8.15" fill="#77b5d9"/>
<rect x="255.08" y="358.00" width="8.19" height="8.15" fill="#aacfe5"/>
<rect x="262.92" y="358.00" width="8.19" height="8.15" fill="#aacfe5"/>
<rect x="270.76" y="358.00" width="8.19" height="8.15" fill="#aacfe5"/>
<rect x="278.60" y="358.00" width="8.19" height="8.15" fill="#aacfe5"/>
<rect x="286.44" y="358.00" width="8.19" height="8.15" fill="#aacfe5"/>
<rect x="43.40" y="365.80" width="8.19" height="8.15" fill="#e8f2fa"/>
<rect x="51.24" y="365.80" width="8.19" height="8.15" fill="#dfecf7"/>
<rect x="59.08" y="365.80" width="8.19" height="8.15" fill="#cee1f2"/>
<rect x="66.92" y="365.80" width="8.19" height="8.15" fill="#b8d5ea"/>
<rect x="74.76" y="365.80" width="8.19" height="8.15" fill="#dfecf7"/>
<rect x="82.60" y="365.80" width="8.19" height="8.15" fill="#e8f2fa"/>
<rect x="90.44" y="365.80" width="8.19" height="8.15" fill="#cee1f2"/>
<rect x="98.28" y="365.80" width="8.19" height="8.15" fill="#e8f2fa"/>
<rect x="106.12" y="365.80" width="8.19" height="8.15" fill="#e8f2fa"/>
<rect x="113.96" y="365.80" width="8.19" height="8.15" fill="#e8f2fa"/>
<rect x="121.80" y="365.80" width="8.19" height="8.15" fill="#dfecf7"/>
<rect x="129.64" y="365.80" width="8.19" height="8.15" fill="#dfecf7"/>
<rect x="137.48" y="365.80" width="8.19" height="8.15" fill="#dfecf7"/>
<rect x="145.32" y="365.80" width="8.19" height="8.15" fill="#dfecf7"/>
<rect x="153.16" y="365.80" width="8.19" height="8.15" fill="#cee1f2"/>
<rect x="161.00" y="365.80" width="8.19" height="8.15" fill="#b8d5ea"/>
<rect x="168.84" y="365.80" width="8.19" height="8.15" fill="#dfecf7"/>
<rect x="176.68" y="365.80" width="8.19" height="8.15" fill="#e8f2fa"/>
<rect x="184.52" y="365.80" width="8.19" height="8.15" fill="#e8f2fa"/>
<rect x="192.36" y="365.80" width="8.19" height="8.15" fill="#e8f2fa"/>
<rect x="200.20" y="365.80" width="8.19" height="8.15" fill="#d7e6f5"/>
<rect x="208.04" y="365.80" width="8.19" height="8.15" fill="#e8f2fa"/>
<rect x="215.88" y="365.80" width="8.19" height="8.15" fill="#f1f7fd"/>
<rect x="223.72" y="365.80" width="8.19" height="8.15" fill="#f1f7fd"/>
<rect x="231.56" y="365.80" width="8.19" height="8.15" fill="#b8d5ea"/>
<rect x="239.40" y="365.80" width="8.19" height="8.15" fill="#f1f7fd"/>
<rect x="247.24" y="365.80" width="8.19" height="8.15" fill="#f1f7fd"/>
<rect x="255.08" y="365.80" width="8.19" height="8.15" fill="#f1f7fd"/>
<rect x="262.92" y="365.80" width="8.19" height="8.15" fill="#dfecf7"/>
<rect x="270.76" y="365.80" width="8.19" height="8.15" fill="#f1f7fd"/>
<rect x="278.60" y="365.80" width="8.19" height="8.15" fill="#f1f7fd"/>
<rect x="286.44" y="365.80" width="8.19" height="8.15" fill="#f1f7fd"/>
<rect x="43.40" y="373.60" width="8.19" height="8.15" fill="#e8f2fa"/>
<rect x="51.24" y="373.60" width="8.19" height="8.15" fill="#dfecf7"/>
<rect x="59.08" y="373.60" width="8.19" height="8.15" fill="#dfecf7"/>
<rect x="66.92" y="373.60" width="8.19" height="8.15" fill="#e8f2fa"/>
<rect x="74.76" y="373.60" width="8.19" height="8.15" fill="#9bc8e0"/>
<rect x="82.60" y="373.60" width="8.19" height="8.15" fill="#dfecf7"/>
<rect x="90.44" y="373.60" width="8.19" height="8.15" fill="#e8f2fa"/>
<rect x="98.28" y="373.60" width="8.19" height="8.15" fill="#dfecf7"/>
<rect x="106.12" y="373.60" width="8.19" height="8.15" fill="#e8f2fa"/>
<rect x="113.96" y="373.60" width="8.19" height="8.15" fill="#dfecf7"/>
<rect x="121.80" y="373.60" width="8.19" height="8.15" fill="#dfecf7"/>
<rect x="129.64" y="373.60" width="8.19" height="8.15" fill="#dfecf7"/>
<rect x="137.48" y="373.60" width="8.19" height="8.15" fill="#e8f2fa"/>
<rect x="145.32" y="373.60" width="8.19" height="8.15" fill="#dfecf7"/>
<rect x="153.16" y="373.60" width="8.19" height="8.15" fill="#dfecf7"/>
<rect x="161.00" y="373.60" width="8.19" height="8.15" fill="#c6dbef"/>
<rect x="168.84" y="373.60" width="8.19" height="8.15" fill="#dfecf7"/>
<rect x="176.68" y="373.60" width="8.19" height="8.15" fill="#dfecf7"/>
<rect x="184.52" y="373.60" width="8.19" height="8.15" fill="#e8f2fa"/>
<rect x="192.36" y="373.60" width="8.19" height="8.15" fill="#f1f7fd"/>
<rect x="200.20" y="373.60" width="8.19" height="8.15" fill="#e8f2fa"/>
<rect x="208.04" y="373.60" width="8.19" height="8.15" fill="#e8f2fa"/>
<rect x="215.88" y="373.60" width="8.19" height="8.15" fill="#f1f7fd"/>
<rect x="223.72" y="373.60" width="8.19" height="8.15" fill="#f1f7fd"/>
<rect x="231.56" y="373.60" width="8.19" height="8.15" fill="#cee1f2"/>
<rect x="239.40" y="373.60" width="8.19" height="8.15" fill="#e8f2fa"/>
<rect x="247.24" y="373.60" width="8.19" height="8.15" fill="#e8f2fa"/>
<rect x="255.08" y="373.60" width="8.19" height="8.15" fill="#f1f7fd"/>
<rect x="262.92" y="373.60" width="8.19" height="8.15" fill="#f1f7fd"/>
<rect x="270.76" y="373.60" width="8.19" height="8.15" fill="#f1f7fd"/>
<rect x="278.60" y="373.60" width="8.19" height="8.15" fill="#f1f7fd"/>
<rect x="286.44" y="373.60" width="8.19" height="8.15" fill="#f1f7fd"/>
<rect x="43.40" y="381.40" width="8.19" height="8.15" fill="#d7e6f5"/>
<rect x="51.24" y="381.40" width="8.19" height="8.15" fill="#e8f2fa"/>
<rect x="59.08" y="381.40" width="8.19" height="8.15" fill="#dfecf7"/>
<rect x="66.92" y="381.40" width="8.19" height="8.15" fill="#dfecf7"/>
<rect x="74.76" y="381.40" width="8.19" height="8.15" fill="#dfecf7"/>
<rect x="82.60" y="381.40" width="8.19" height="8.15" fill="#b8d5ea"/>
<rect x="90.44" y="381.40" width="8.19" height="8.15" fill="#e8f2fa"/>
<rect x="98.28" y="381.40" width="8.19" height="8.15" fill="#e8f2fa"/>
<rect x="106.12" y="381.40" width="8.19" height="8.15" fill="#dfecf7"/>
<rect x="113.96" y="381.40" width="8.19" height="8.15" fill="#dfecf7"/>
<rect x="121.80" y="381.40" width="8.19" height="8.15" fill="#e8f2fa"/>
<rect x="129.64" y="381.40" width="8.19" height="8.15" fill="#e8f2fa"/>
<rect x="137.48" y="381.40" width="8.19" height="8.15" fill="#dfecf7"/>
<rect x="145.32" y="381.40" width="8.19" height="8.15" fill="#dfecf7"/>
<rect x="153.16" y="381.40" width="8.19" height="8.15" fill="#dfecf7"/>
<rect x="161.00" y="381.40" width="8.19" height="8.15" fill="#c6dbef"/>
<rect x="168.84" y="381.40" width="8.19" height="8.15" fill="#dfecf7"/>
<rect x="176.68" y="381.40" width="8.19" height="8.15" fill="#dfecf7"/>
<rect x="184.52" y="381.40" width="8.19" height="8.15" fill="#f1f7fd"/>
<rect x="192.36" y="381.40" width="8.19" height="8.15" fill="#f1f7fd"/>
<rect x="200.20" y="381.40" width="8.19" height="8.15" fill="#e8f2fa"/>
<rect x="208.04" y="381.40" width="8.19" height="8.15" fill="#e8f2fa"/>
<rect x="215.88" y="381.40" width="8.19" height="8.15" fill="#f1f7fd"/>
<rect x="223.72" y="381.40" width="8.19" height="8.15" fill="#e8f2fa"/>
<rect x="231.56" y="381.40" width="8.19" height="8.15" fill="#d7e6f5"/>
<rect x="239.40" y="381.40" width="8.19" height="8.15" fill="#e8f2fa"/>
<rect x="247.24" y="381.40" width="8.19" height="8.15" fill="#e8f2fa"/>
<rect x="255.08" y="381.40" width="8.19" height="8.15" fill="#f1f7fd"/>
<rect x="262.92" y="381.40" width="8.19" height="8.15" fill="#f1f7fd"/>
<rect x="270.76" y="381.40" width="8.19" height="8.15" fill="#f1f7fd"/>
<rect x="278.60" y="381.40" width="8.19" height="8.15" fill="#e8f2fa"/>
<rect x="286.44" y="381.40" width="8.19" height="8.15" fill="#f1f7fd"/>
<rect x="43.40" y="389.20" width="8.19" height="8.15" fill="#d7e6f5"/>
<rect x="51.24" y="389.20" width="8.19" height="8.15" fill="#9bc8e0"/>
<rect x="59.08" y="389.20" width="8.19" height="8.15" fill="#58a1cf"/>
<rect x="66.92" y="389.20" width="8.19" height="8.15" fill="#d7e6f5"/>
<rect x="74.76" y="389.20" width="8.19" height="8.15" fill="#e8f2fa"/>
<rect x="82.60" y="389.20" width="8.19" height="8.15" fill="#e8f2fa"/>
<rect x="90.44" y="389.20" width="8.19" height="8.15" fill="#4a97c9"/>
<rect x="98.28" y="389.20" width="8.19" height="8.15" fill="#9bc8e0"/>
<rect x="106.12" y="389.20" width="8.19" height="8.15" fill="#9bc8e0"/>
<rect x="113.96" y="389.20" width="8.19" height="8.15" fill="#b8d5ea"/>
<rect x="121.80" y="389.20" width="8.19" height="8.15" fill="#aacfe5"/>
<rect x="129.64" y="389.20" width="8.19" height="8.15" fill="#aacfe5"/>
<rect x="137.48" y="389.20" width="8.19" height="8.15" fill="#aacfe5"/>
<rect x="145.32" y="389.20" width="8.19" height="8.15" fill="#d7e6f5"/>
<rect x="153.16" y="389.20" width="8.19" height="8.15" fill="#77b5d9"/>
<rect x="161.00" y="389.20" width="8.19" height="8.15" fill="#3c8cc3"/>
<rect x="168.84" y="389.20" width="8.19" height="8.15" fill="#3c8cc3"/>
<rect x="176.68" y="389.20" width="8.19" height="8.15" fill="#58a1cf"/>
<rect x="184.52" y="389.20" width="8.19" height="8.15" fill="#9bc8e0"/>
<rect x="192.36" y="389.20" width="8.19" height="8.15" fill="#d7e6f5"/>
<rect x="200.20" y="389.20" width="8.19" height="8.15" fill="#9bc8e0"/>
<rect x="208.04" y="389.20" width="8.19" height="8.15" fill="#d7e6f5"/>
<rect x="215.88" y="389.20" width="8.19" height="8.15" fill="#d7e6f5"/>
<rect x="223.72" y="389.20" width="8.19" height="8.15" fill="#d7e6f5"/>
<rect x="231.56" y="389.20" width="8.19" height="8.15" fill="#58a1cf"/>
<rect x="239.40" y="389.20" width="8.19" height="8.15" fill="#b8d5ea"/>
<rect x="247.24" y="389.20" width="8.19" height="8.15" fill="#b8d5ea"/>
<rect x="255.08" y="389.20" width="8.19" height="8.15" fill="#cee1f2"/>
<rect x="262.92" y="389.20" width="8.19" height="8.15" fill="#cee1f2"/>
<rect x="270.76" y="389.20" width="8.19" height="8.15" fill="#b8d5ea"/>
<rect x="278.60" y="389.20" width="8.19" height="8.15" fill="#b8d5ea"/>
<rect x="286.44" y="389.20" width="8.19" height="8.15" fill="#cee1f2"/>
<rect x="43.40" y="397.00" width="8.19" height="8.15" fill="#e8f2fa"/>
<rect x="51.24" y="397.00" width="8.19" height="8.15" fill="#9bc8e0"/>
<rect x="59.08" y="397.00" width="8.19" height="8.15" fill="#58a1cf"/>
<rect x="66.92" y="397.00" width="8.19" height="8.15" fill="#e8f2fa"/>
<rect x="74.76" y="397.00" width="8.19" height="8.15" fill="#e8f2fa"/>
<rect x="82.60" y="397.00" width="8.19" height="8.15" fill="#e8f2fa"/>
<rect x="90.44" y="397.00" width="8.19" height="8.15" fill="#9bc8e0"/>
<rect x="98.28" y="397.00" width="8.19" height="8.15" fill="#9bc8e0"/>
<rect x="106.12" y="397.00" width="8.19" height="8.15" fill="#b8d5ea"/>
<rect x="113.96" y="397.00" width="8.19" height="8.15" fill="#c6dbef"/>
<rect x="121.80" y="397.00" width="8.19" height="8.15" fill="#c6dbef"/>
<rect x="129.64" y="397.00" width="8.19" height="8.15" fill="#c6dbef"/>
<rect x="137.48" y="397.00" width="8.19" height="8.15" fill="#d7e6f5"/>
<rect x="145.32" y="397.00" width="8.19" height="8.15" fill="#cee1f2"/>
<rect x="153.16" y="397.00" width="8.19" height="8.15" fill="#89bfdd"/>
<rect x="161.00" y="397.00" width="8.19" height="8.15" fill="#58a1cf"/>
<rect x="168.84" y="397.00" width="8.19" height="8.15" fill="#58a1cf"/>
<rect x="176.68" y="397.00" width="8.19" height="8.15" fill="#77b5d9"/>
<rect x="184.52" y="397.00" width="8.19" height="8.15" fill="#77b5d9"/>
<rect x="192.36" y="397.00" width="8.19" height="8.15" fill="#e8f2fa"/>
<rect x="200.20" y="397.00" width="8.19" height="8.15" fill="#b8d5ea"/>
<rect x="208.04" y="397.00" width="8.19" height="8.15" fill="#dfecf7"/>
<rect x="215.88" y="397.00" width="8.19" height="8.15" fill="#dfecf7"/>
<rect x="223.72" y="397.00" width="8.19" height="8.15" fill="#dfecf7"/>
<rect x="231.56" y="397.00" width="8.19" height="8.15" fill="#66abd4"/>
<rect x="239.40" y="397.00" width="8.19" height="8.15" fill="#9bc8e0"/>
<rect x="247.24" y="397.00" width="8.19" height="8.15" fill="#9bc8e0"/>
<rect x="255.08" y="397.00" width="8.19" height="8.15" fill="#d7e6f5"/>
<rect x="262.92" y="397.00" width="8.19" height="8.15" fill="#d7e6f5"/>
<rect x="270.76" y="397.00" width="8.19" height="8.15" fill="#d7e6f5"/>
<rect x="278.60" y="397.00" width="8.19" height="8.15" fill="#dfecf7"/>
<rect x="286.44" y="397.00" width="8.19" height="8.15" fill="#d7e6f5"/>
<rect x="43.40" y="404.80" width="8.19" height="8.15" fill="#f1f7fd"/>
<rect x="51.24" y="404.80" width="8.19" height="8.15" fill="#9bc8e0"/>
<rect x="59.08" y="404.80" width="8.19" height="8.15" fill="#66abd4"/>
<rect x="66.92" y="404.80" width="8.19" height="8.15" fill="#e8f2fa"/>
<rect x="74.76" y="404.80" width="8.19" height="8.15" fill="#e8f2fa"/>
<rect x="82.60" y="404.80" width="8.19" height="8.15" fill="#dfecf7"/>
<rect x="90.44" y="404.80" width="8.19" height="8.15" fill="#9bc8e0"/>
<rect x="98.28" y="404.80" width="8.19" height="8.15" fill="#b8d5ea"/>
<rect x="106.12" y="404.80" width="8.19" height="8.15" fill="#9bc8e0"/>
<rect x="113.96" y="404.80" width="8.19" height="8.15" fill="#b8d5ea"/>
<rect x="121.80" y="404.80" width="8.19" height="8.15" fill="#d7e6f5"/>
<rect x="129.64" y="404.80" width="8.19" height="8.15" fill="#d7e6f5"/>
<rect x="137.48" y="404.80" width="8.19" height="8.15" fill="#c6dbef"/>
<rect x="145.32" y="404.80" width="8.19" height="8.15" fill="#c6dbef"/>
<rect x="153.16" y="404.80" width="8.19" height="8.15" fill="#77b5d9"/>
<rect x="161.00" y="404.80" width="8.19" height="8.15" fill="#58a1cf"/>
<rect x="168.84" y="404.80" width="8.19" height="8.15" fill="#77b5d9"/>
<rect x="176.68" y="404.80" width="8.19" height="8.15" fill="#58a1cf"/>
<rect x="184.52" y="404.80" width="8.19" height="8.15" fill="#9bc8e0"/>
<rect x="192.36" y="404.80" width="8.19" height="8.15" fill="#e8f2fa"/>
<rect x="200.20" y="404.80" width="8.19" height="8.15" fill="#b8d5ea"/>
<rect x="208.04" y="404.80" width="8.19" height="8.15" fill="#dfecf7"/>
<rect x="215.88" y="404.80" width="8.19" height="8.15" fill="#e8f2fa"/>
<rect x="223.72" y="404.80" width="8.19" height="8.15" fill="#dfecf7"/>
<rect x="231.56" y="404.80" width="8.19" height="8.15" fill="#58a1cf"/>
<rect x="239.40" y="404.80" width="8.19" height="8.15" fill="#aacfe5"/>
<rect x="247.24" y="404.80" width="8.19" height="8.15" fill="#9bc8e0"/>
<rect x="255.08" y="404.80" width="8.19" height="8.15" fill="#d7e6f5"/>
<rect x="262.92" y="404.80" width="8.19" height="8.15" fill="#dfecf7"/>
<rect x="270.76" y="404.80" width="8.19" height="8.15" fill="#dfecf7"/>
<rect x="278.60" y="404.80" width="8.19" height="8.15" fill="#cee1f2"/>
<rect x="286.44" y="404.80" width="8.19" height="8.15" fill="#cee1f2"/>
<rect x="43.40" y="412.60" width="8.19" height="8.15" fill="#dfecf7"/>
<rect x="51.24" y="412.60" width="8.19" height="8.15" fill="#cee1f2"/>
<rect x="59.08" y="412.60" width="8.19" height="8.15" fill="#aacfe5"/>
<rect x="66.92" y="412.60" width="8.19" height="8.15" fill="#dfecf7"/>
<rect x="74.76" y="412.60" width="8.19" height="8.15" fill="#dfecf7"/>
<rect x="82.60" y="412.60" width="8.19" height="8.15" fill="#dfecf7"/>
<rect x="90.44" y="412.60" width="8.19" height="8.15" fill="#b8d5ea"/>
<rect x="98.28" y="412.60" width="8.19" height="8.15" fill="#b8d5ea"/>
<rect x="106.12" y="412.60" width="8.19" height="8.15" fill="#b8d5ea"/>
<rect x="113.96" y="412.60" width="8.19" height="8.15" fill="#c6dbef"/>
<rect x="121.80" y="412.60" width="8.19" height="8.15" fill="#d7e6f5"/>
<rect x="129.64" y="412.60" width="8.19" height="8.15" fill="#b8d5ea"/>
<rect x="137.48" y="412.60" width="8.19" height="8.15" fill="#cee1f2"/>
<rect x="145.32" y="412.60" width="8.19" height="8.15" fill="#cee1f2"/>
<rect x="153.16" y="412.60" width="8.19" height="8.15" fill="#aacfe5"/>
<rect x="161.00" y="412.60" width="8.19" height="8.15" fill="#89bfdd"/>
<rect x="168.84" y="412.60" width="8.19" height="8.15" fill="#aacfe5"/>
<rect x="176.68" y="412.60" width="8.19" height="8.15" fill="#66abd4"/>
<rect x="184.52" y="412.60" width="8.19" height="8.15" fill="#c6dbef"/>
<rect x="192.36" y="412.60" width="8.19" height="8.15" fill="#e8f2fa"/>
<rect x="200.20" y="412.60" width="8.19" height="8.15" fill="#cee1f2"/>
<rect x="208.04" y="412.60" width="8.19" height="8.15" fill="#dfecf7"/>
<rect x="215.88" y="412.60" width="8.19" height="8.15" fill="#e8f2fa"/>
<rect x="223.72" y="412.60" width="8.19" height="8.15" fill="#e8f2fa"/>
<rect x="231.56" y="412.60" width="8.19" height="8.15" fill="#89bfdd"/>
<rect x="239.40" y="412.60" width="8.19" height="8.15" fill="#cee1f2"/>
<rect x="247.24" y="412.60" width="8.19" height="8.15" fill="#c6dbef"/>
<rect x="255.08" y="412.60" width="8.19" height="8.15" fill="#dfecf7"/>
<rect x="262.92" y="412.60" width="8.19" height="8.15" fill="#dfecf7"/>
<rect x="270.76" y="412.60" width="8.19" height="8.15" fill="#dfecf7"/>
<rect x="278.60" y="412.60" width="8.19" height="8.15" fill="#dfecf7"/>
<rect x="286.44" y="412.60" width="8.19" height="8.15" fill="#dfecf7"/>
<rect x="43.40" y="420.40" width="8.19" height="8.15" fill="#dfecf7"/>
<rect x="51.24" y="420.40" width="8.19" height="8.15" fill="#cee1f2"/>
<rect x="59.08" y="420.40" width="8.19" height="8.15" fill="#b8d5ea"/>
<rect x="66.92" y="420.40" width="8.19" height="8.15" fill="#dfecf7"/>
<rect x="74.76" y="420.40" width="8.19" height="8.15" fill="#dfecf7"/>
<rect x="82.60" y="420.40" width="8.19" height="8.15" fill="#e8f2fa"/>
<rect x="90.44" y="420.40" width="8.19" height="8.15" fill="#b8d5ea"/>
<rect x="98.28" y="420.40" width="8.19" height="8.15" fill="#b8d5ea"/>
<rect x="106.12" y="420.40" width="8.19" height="8.15" fill="#d7e6f5"/>
<rect x="113.96" y="420.40" width="8.19" height="8.15" fill="#cee1f2"/>
<rect x="121.80" y="420.40" width="8.19" height="8.15" fill="#c6dbef"/>
<rect x="129.64" y="420.40" width="8.19" height="8.15" fill="#aacfe5"/>
<rect x="137.48" y="420.40" width="8.19" height="8.15" fill="#cee1f2"/>
<rect x="145.32" y="420.40" width="8.19" height="8.15" fill="#cee1f2"/>
<rect x="153.16" y="420.40" width="8.19" height="8.15" fill="#aacfe5"/>
<rect x="161.00" y="420.40" width="8.19" height="8.15" fill="#89bfdd"/>
<rect x="168.84" y="420.40" width="8.19" height="8.15" fill="#9bc8e0"/>
<rect x="176.68" y="420.40" width="8.19" height="8.15" fill="#aacfe5"/>
<rect x="184.52" y="420.40" width="8.19" height="8.15" fill="#cee1f2"/>
<rect x="192.36" y="420.40" width="8.19" height="8.15" fill="#e8f2fa"/>
<rect x="200.20" y="420.40" width="8.19" height="8.15" fill="#cee1f2"/>
<rect x="208.04" y="420.40" width="8.19" height="8.15" fill="#dfecf7"/>
<rect x="215.88" y="420.40" width="8.19" height="8.15" fill="#e8f2fa"/>
<rect x="223.72" y="420.40" width="8.19" height="8.15" fill="#e8f2fa"/>
<rect x="231.56" y="420.40" width="8.19" height="8.15" fill="#89bfdd"/>
<rect x="239.40" y="420.40" width="8.19" height="8.15" fill="#cee1f2"/>
<rect x="247.24" y="420.40" width="8.19" height="8.15" fill="#d7e6f5"/>
<rect x="255.08" y="420.40" width="8.19" height="8.15" fill="#dfecf7"/>
<rect x="262.92" y="420.40" width="8.19" height="8.15" fill="#dfecf7"/>
<rect x="270.76" y="420.40" width="8.19" height="8.15" fill="#dfecf7"/>
<rect x="278.60" y="420.40" width="8.19" height="8.15" fill="#dfecf7"/>
<rect x="286.44" y="420.40" width="8.19" height="8.15" fill="#dfecf7"/>
<rect x="43.40" y="428.20" width="8.19" height="8.15" fill="#dfecf7"/>
<rect x="51.24" y="428.20" width="8.19" height="8.15" fill="#b8d5ea"/>
<rect x="59.08" y="428.20" width="8.19" height="8.15" fill="#b8d5ea"/>
<rect x="66.92" y="428.20" width="8.19" height="8.15" fill="#dfecf7"/>
<rect x="74.76" y="428.20" width="8.19" height="8.15" fill="#dfecf7"/>
<rect x="82.60" y="428.20" width="8.19" height="8.15" fill="#e8f2fa"/>
<rect x="90.44" y="428.20" width="8.19" height="8.15" fill="#9bc8e0"/>
<rect x="98.28" y="428.20" width="8.19" height="8.15" fill="#c6dbef"/>
<rect x="106.12" y="428.20" width="8.19" height="8.15" fill="#d7e6f5"/>
<rect x="113.96" y="428.20" width="8.19" height="8.15" fill="#cee1f2"/>
<rect x="121.80" y="428.20" width="8.19" height="8.15" fill="#c6dbef"/>
<rect x="129.64" y="428.20" width="8.19" height="8.15" fill="#9bc8e0"/>
<rect x="137.48" y="428.20" width="8.19" height="8.15" fill="#d7e6f5"/>
<rect x="145.32" y="428.20" width="8.19" height="8.15" fill="#d7e6f5"/>
<rect x="153.16" y="428.20" width="8.19" height="8.15" fill="#9bc8e0"/>
<rect x="161.00" y="428.20" width="8.19" height="8.15" fill="#77b5d9"/>
<rect x="168.84" y="428.20" width="8.19" height="8.15" fill="#9bc8e0"/>
<rect x="176.68" y="428.20" width="8.19" height="8.15" fill="#b8d5ea"/>
<rect x="184.52" y="428.20" width="8.19" height="8.15" fill="#cee1f2"/>
<rect x="192.36" y="428.20" width="8.19" height="8.15" fill="#e8f2fa"/>
<rect x="200.20" y="428.20" width="8.19" height="8.15" fill="#cee1f2"/>
<rect x="208.04" y="428.20" width="8.19" height="8.15" fill="#dfecf7"/>
<rect x="215.88" y="428.20" width="8.19" height="8.15" fill="#e8f2fa"/>
<rect x="223.72" y="428.20" width="8.19" height="8.15" fill="#e8f2fa"/>
<rect x="231.56" y="428.20" width="8.19" height="8.15" fill="#77b5d9"/>
<rect x="239.40" y="428.20" width="8.19" height="8.15" fill="#cee1f2"/>
<rect x="247.24" y="428.20" width="8.19" height="8.15" fill="#cee1f2"/>
<rect x="255.08" y="428.20" width="8.19" height="8.15" fill="#dfecf7"/>
<rect x="262.92" y="428.20" width="8.19" height="8.15" fill="#d7e6f5"/>
<rect x="270.76" y="428.20" width="8.19" height="8.15" fill="#d7e6f5"/>
<rect x="278.60" y="428.20" width="8.19" height="8.15" fill="#dfecf7"/>
<rect x="286.44" y="428.20" width="8.19" height="8.15" fill="#dfecf7"/>
<rect x="43.40" y="436.00" width="8.19" height="8.15" fill="#e8f2fa"/>
<rect x="51.24" y="436.00" width="8.19" height="8.15" fill="#c6dbef"/>
<rect x="59.08" y="436.00" width="8.19" height="8.15" fill="#aacfe5"/>
<rect x="66.92" y="436.00" width="8.19" height="8.15" fill="#dfecf7"/>
<rect x="74.76" y="436.00" width="8.19" height="8.15" fill="#dfecf7"/>
<rect x="82.60" y="436.00" width="8.19" height="8.15" fill="#dfecf7"/>
<rect x="90.44" y="436.00" width="8.19" height="8.15" fill="#9bc8e0"/>
<rect x="98.28" y="436.00" width="8.19" height="8.15" fill="#dfecf7"/>
<rect x="106.12" y="436.00" width="8.19" height="8.15" fill="#c6dbef"/>
<rect x="113.96" y="436.00" width="8.19" height="8.15" fill="#cee1f2"/>
<rect x="121.80" y="436.00" width="8.19" height="8.15" fill="#cee1f2"/>
<rect x="129.64" y="436.00" width="8.19" height="8.15" fill="#d7e6f5"/>
<rect x="137.48" y="436.00" width="8.19" height="8.15" fill="#b8d5ea"/>
<rect x="145.32" y="436.00" width="8.19" height="8.15" fill="#d7e6f5"/>
<rect x="153.16" y="436.00" width="8.19" height="8.15" fill="#9bc8e0"/>
<rect x="161.00" y="436.00" width="8.19" height="8.15" fill="#77b5d9"/>
<rect x="168.84" y="436.00" width="8.19" height="8.15" fill="#b8d5ea"/>
<rect x="176.68" y="436.00" width="8.19" height="8.15" fill="#9bc8e0"/>
<rect x="184.52" y="436.00" width="8.19" height="8.15" fill="#d7e6f5"/>
<rect x="192.36" y="436.00" width="8.19" height="8.15" fill="#e8f2fa"/>
<rect x="200.20" y="436.00" width="8.19" height="8.15" fill="#cee1f2"/>
<rect x="208.04" y="436.00" width="8.19" height="8.15" fill="#dfecf7"/>
<rect x="215.88" y="436.00" width="8.19" height="8.15" fill="#e8f2fa"/>
<rect x="223.72" y="436.00" width="8.19" height="8.15" fill="#e8f2fa"/>
<rect x="231.56" y="436.00" width="8.19" height="8.15" fill="#77b5d9"/>
<rect x="239.40" y="436.00" width="8.19" height="8.15" fill="#dfecf7"/>
<rect x="247.24" y="436.00" width="8.19" height="8.15" fill="#cee1f2"/>
<rect x="255.08" y="436.00" width="8.19" height="8.15" fill="#e8f2fa"/>
<rect x="262.92" y="436.00" width="8.19" height="8.15" fill="#dfecf7"/>
<rect x="270.76" y="436.00" width="8.19" height="8.15" fill="#e8f2fa"/>
<rect x="278.60" y="436.00" width="8.19" height="8.15" fill="#d7e6f5"/>
<rect x="286.44" y="436.00" width="8.19" height="8.15" fill="#d7e6f5"/>
<rect x="43.40" y="443.80" width="8.19" height="8.15" fill="#e8f2fa"/>
<rect x="51.24" y="443.80" width="8.19" height="8.15" fill="#d7e6f5"/>
<rect x="59.08" y="443.80" width="8.19" height="8.15" fill="#9bc8e0"/>
<rect x="66.92" y="443.80" width="8.19" height="8.15" fill="#f1f7fd"/>
<rect x="74.76" y="443.80" width="8.19" height="8.15" fill="#e8f2fa"/>
<rect x="82.60" y="443.80" width="8.19" height="8.15" fill="#dfecf7"/>
<rect x="90.44" y="443.80" width="8.19" height="8.15" fill="#d7e6f5"/>
<rect x="98.28" y="443.80" width="8.19" height="8.15" fill="#c6dbef"/>
<rect x="106.12" y="443.80" width="8.19" height="8.15" fill="#c6dbef"/>
<rect x="113.96" y="443.80" width="8.19" height="8.15" fill="#dfecf7"/>
<rect x="121.80" y="443.80" width="8.19" height="8.15" fill="#c6dbef"/>
<rect x="129.64" y="443.80" width="8.19" height="8.15" fill="#d7e6f5"/>
<rect x="137.48" y="443.80" width="8.19" height="8.15" fill="#d7e6f5"/>
<rect x="145.32" y="443.80" width="8.19" height="8.15" fill="#d7e6f5"/>
<rect x="153.16" y="443.80" width="8.19" height="8.15" fill="#9bc8e0"/>
<rect x="161.00" y="443.80" width="8.19" height="8.15" fill="#9bc8e0"/>
<rect x="168.84" y="443.80" width="8.19" height="8.15" fill="#b8d5ea"/>
<rect x="176.68" y="443.80" width="8.19" height="8.15" fill="#b8d5ea"/>
<rect x="184.52" y="443.80" width="8.19" height="8.15" fill="#c6dbef"/>
<rect x="192.36" y="443.80" width="8.19" height="8.15" fill="#f1f7fd"/>
<rect x="200.20" y="443.80" width="8.19" height="8.15" fill="#cee1f2"/>
<rect x="208.04" y="443.80" width="8.19" height="8.15" fill="#e8f2fa"/>
<rect x="215.88" y="443.80" width="8.19" height="8.15" fill="#e8f2fa"/>
<rect x="223.72" y="443.80" width="8.19" height="8.15" fill="#e8f2fa"/>
<rect x="231.56" y="443.80" width="8.19" height="8.15" fill="#89bfdd"/>
<rect x="239.40" y="443.80" width="8.19" height="8.15" fill="#c6dbef"/>
<rect x="247.24" y="443.80" width="8.19" height="8.15" fill="#c6dbef"/>
<rect x="255.08" y="443.80" width="8.19" height="8.15" fill="#dfecf7"/>
<rect x="262.92" y="443.80" width="8.19" height="8.15" fill="#e8f2fa"/>
<rect x="270.76" y="443.80" width="8.19" height="8.15" fill="#dfecf7"/>
<rect x="278.60" y="443.80" width="8.19" height="8.15" fill="#dfecf7"/>
<rect x="286.44" y="443.80" width="8.19" height="8.15" fill="#dfecf7"/>
<rect x="43.40" y="451.60" width="8.19" height="8.15" fill="#cee1f2"/>
<rect x="51.24" y="451.60" width="8.19" height="8.15" fill="#9bc8e0"/>
<rect x="59.08" y="451.60" width="8.19" height="8.15" fill="#2575b7"/>
<rect x="66.92" y="451.60" width="8.19" height="8.15" fill="#cee1f2"/>
<rect x="74.76" y="451.60" width="8.19" height="8.15" fill="#dfecf7"/>
<rect x="82.60" y="451.60" width="8.19" height="8.15" fill="#dfecf7"/>
<rect x="90.44" y="451.60" width="8.19" height="8.15" fill="#77b5d9"/>
<rect x="98.28" y="451.60" width="8.19" height="8.15" fill="#77b5d9"/>
<rect x="106.12" y="451.60" width="8.19" height="8.15" fill="#77b5d9"/>
<rect x="113.96" y="451.60" width="8.19" height="8.15" fill="#89bfdd"/>
<rect x="121.80" y="451.60" width="8.19" height="8.15" fill="#aacfe5"/>
<rect x="129.64" y="451.60" width="8.19" height="8.15" fill="#aacfe5"/>
<rect x="137.48" y="451.60" width="8.19" height="8.15" fill="#b8d5ea"/>
<rect x="145.32" y="451.60" width="8.19" height="8.15" fill="#aacfe5"/>
<rect x="153.16" y="451.60" width="8.19" height="8.15" fill="#135fa7"/>
<rect x="161.00" y="451.60" width="8.19" height="8.15" fill="#1b6aaf"/>
<rect x="168.84" y="451.60" width="8.19" height="8.15" fill="#2575b7"/>
<rect x="176.68" y="451.60" width="8.19" height="8.15" fill="#135fa7"/>
<rect x="184.52" y="451.60" width="8.19" height="8.15" fill="#3c8cc3"/>
<rect x="192.36" y="451.60" width="8.19" height="8.15" fill="#dfecf7"/>
<rect x="200.20" y="451.60" width="8.19" height="8.15" fill="#77b5d9"/>
<rect x="208.04" y="451.60" width="8.19" height="8.15" fill="#cee1f2"/>
<rect x="215.88" y="451.60" width="8.19" height="8.15" fill="#cee1f2"/>
<rect x="223.72" y="451.60" width="8.19" height="8.15" fill="#cee1f2"/>
<rect x="231.56" y="451.60" width="8.19" height="8.15" fill="#2575b7"/>
<rect x="239.40" y="451.60" width="8.19" height="8.15" fill="#77b5d9"/>
<rect x="247.24" y="451.60" width="8.19" height="8.15" fill="#3c8cc3"/>
<rect x="255.08" y="451.60" width="8.19" height="8.15" fill="#aacfe5"/>
<rect x="262.92" y="451.60" width="8.19" height="8.15" fill="#aacfe5"/>
<rect x="270.76" y="451.60" width="8.19" height="8.15" fill="#9bc8e0"/>
<rect x="278.60" y="451.60" width="8.19" height="8.15" fill="#aacfe5"/>
<rect x="286.44" y="451.60" width="8.19" height="8.15" fill="#aacfe5"/>
<rect x="43.40" y="459.40" width="8.19" height="8.15" fill="#9bc8e0"/>
<rect x="51.24" y="459.40" width="8.19" height="8.15" fill="#58a1cf"/>
<rect x="59.08" y="459.40" width="8.19" height="8.15" fill="#2575b7"/>
<rect x="66.92" y="459.40" width="8.19" height="8.15" fill="#9bc8e0"/>
<rect x="74.76" y="459.40" width="8.19" height="8.15" fill="#d7e6f5"/>
<rect x="82.60" y="459.40" width="8.19" height="8.15" fill="#d7e6f5"/>
<rect x="90.44" y="459.40" width="8.19" height="8.15" fill="#3c8cc3"/>
<rect x="98.28" y="459.40" width="8.19" height="8.15" fill="#58a1cf"/>
<rect x="106.12" y="459.40" width="8.19" height="8.15" fill="#66abd4"/>
<rect x="113.96" y="459.40" width="8.19" height="8.15" fill="#77b5d9"/>
<rect x="121.80" y="459.40" width="8.19" height="8.15" fill="#89bfdd"/>
<rect x="129.64" y="459.40" width="8.19" height="8.15" fill="#89bfdd"/>
<rect x="137.48" y="459.40" width="8.19" height="8.15" fill="#89bfdd"/>
<rect x="145.32" y="459.40" width="8.19" height="8.15" fill="#9bc8e0"/>
<rect x="153.16" y="459.40" width="8.19" height="8.15" fill="#1b6aaf"/>
<rect x="161.00" y="459.40" width="8.19" height="8.15" fill="#08488e"/>
<rect x="168.84" y="459.40" width="8.19" height="8.15" fill="#0a539e"/>
<rect x="176.68" y="459.40" width="8.19" height="8.15" fill="#1b6aaf"/>
<rect x="184.52" y="459.40" width="8.19" height="8.15" fill="#4a97c9"/>
<rect x="192.36" y="459.40" width="8.19" height="8.15" fill="#cee1f2"/>
<rect x="200.20" y="459.40" width="8.19" height="8.15" fill="#58a1cf"/>
<rect x="208.04" y="459.40" width="8.19" height="8.15" fill="#b8d5ea"/>
<rect x="215.88" y="459.40" width="8.19" height="8.15" fill="#b8d5ea"/>
<rect x="223.72" y="459.40" width="8.19" height="8.15" fill="#b8d5ea"/>
<rect x="231.56" y="459.40" width="8.19" height="8.15" fill="#135fa7"/>
<rect x="239.40" y="459.40" width="8.19" height="8.15" fill="#66abd4"/>
<rect x="247.24" y="459.40" width="8.19" height="8.15" fill="#89bfdd"/>
<rect x="255.08" y="459.40" width="8.19" height="8.15" fill="#89bfdd"/>
<rect x="262.92" y="459.40" width="8.19" height="8.15" fill="#89bfdd"/>
<rect x="270.76" y="459.40" width="8.19" height="8.15" fill="#77b5d9"/>
<rect x="278.60" y="459.40" width="8.19" height="8.15" fill="#77b5d9"/>
<rect x="286.44" y="459.40" width="8.19" height="8.15" fill="#9bc8e0"/>
<rect x="43.40" y="467.20" width="8.19" height="8.15" fill="#e8f2fa"/>
<rect x="51.24" y="467.20" width="8.19" height="8.15" fill="#77b5d9"/>
<rect x="59.08" y="467.20" width="8.19" height="8.15" fill="#135fa7"/>
<rect x="66.92" y="467.20" width="8.19" height="8.15" fill="#dfecf7"/>
<rect x="74.76" y="467.20" width="8.19" height="8.15" fill="#dfecf7"/>
<rect x="82.60" y="467.20" width="8.19" height="8.15" fill="#e8f2fa"/>
<rect x="90.44" y="467.20" width="8.19" height="8.15" fill="#3c8cc3"/>
<rect x="98.28" y="467.20" width="8.19" height="8.15" fill="#58a1cf"/>
<rect x="106.12" y="467.20" width="8.19" height="8.15" fill="#9bc8e0"/>
<rect x="113.96" y="467.20" width="8.19" height="8.15" fill="#aacfe5"/>
<rect x="121.80" y="467.20" width="8.19" height="8.15" fill="#9bc8e0"/>
<rect x="129.64" y="467.20" width="8.19" height="8.15" fill="#77b5d9"/>
<rect x="137.48" y="467.20" width="8.19" height="8.15" fill="#c6dbef"/>
<rect x="145.32" y="467.20" width="8.19" height="8.15" fill="#9bc8e0"/>
<rect x="153.16" y="467.20" width="8.19" height="8.15" fill="#1b6aaf"/>
<rect x="161.00" y="467.20" width="8.19" height="8.15" fill="#0a539e"/>
<rect x="168.84" y="467.20" width="8.19" height="8.15" fill="#08316c"/>
<rect x="176.68" y="467.20" width="8.19" height="8.15" fill="#3c8cc3"/>
<rect x="184.52" y="467.20" width="8.19" height="8.15" fill="#2575b7"/>
<rect x="192.36" y="467.20" width="8.19" height="8.15" fill="#dfecf7"/>
<rect x="200.20" y="467.20" width="8.19" height="8.15" fill="#66abd4"/>
<rect x="208.04" y="467.20" width="8.19" height="8.15" fill="#d7e6f5"/>
<rect x="215.88" y="467.20" width="8.19" height="8.15" fill="#cee1f2"/>
<rect x="223.72" y="467.20" width="8.19" height="8.15" fill="#d7e6f5"/>
<rect x="231.56" y="467.20" width="8.19" height="8.15" fill="#3181bd"/>
<rect x="239.40" y="467.20" width="8.19" height="8.15" fill="#3c8cc3"/>
<rect x="247.24" y="467.20" width="8.19" height="8.15" fill="#4a97c9"/>
<rect x="255.08" y="467.20" width="8.19" height="8.15" fill="#9bc8e0"/>
<rect x="262.92" y="467.20" width="8.19" height="8.15" fill="#89bfdd"/>
<rect x="270.76" y="467.20" width="8.19" height="8.15" fill="#89bfdd"/>
<rect x="278.60" y="467.20" width="8.19" height="8.15" fill="#9bc8e0"/>
<rect x="286.44" y="467.20" width="8.19" height="8.15" fill="#9bc8e0"/>
<rect x="43.40" y="475.00" width="8.19" height="8.15" fill="#e8f2fa"/>
<rect x="51.24" y="475.00" width="8.19" height="8.15" fill="#77b5d9"/>
<rect x="59.08" y="475.00" width="8.19" height="8.15" fill="#135fa7"/>
<rect x="66.92" y="475.00" width="8.19" height="8.15" fill="#e8f2fa"/>
<rect x="74.76" y="475.00" width="8.19" height="8.15" fill="#e8f2fa"/>
<rect x="82.60" y="475.00" width="8.19" height="8.15" fill="#d7e6f5"/>
<rect x="90.44" y="475.00" width="8.19" height="8.15" fill="#58a1cf"/>
<rect x="98.28" y="475.00" width="8.19" height="8.15" fill="#9bc8e0"/>
<rect x="106.12" y="475.00" width="8.19" height="8.15" fill="#58a1cf"/>
<rect x="113.96" y="475.00" width="8.19" height="8.15" fill="#89bfdd"/>
<rect x="121.80" y="475.00" width="8.19" height="8.15" fill="#aacfe5"/>
<rect x="129.64" y="475.00" width="8.19" height="8.15" fill="#c6dbef"/>
<rect x="137.48" y="475.00" width="8.19" height="8.15" fill="#9bc8e0"/>
<rect x="145.32" y="475.00" width="8.19" height="8.15" fill="#9bc8e0"/>
<rect x="153.16" y="475.00" width="8.19" height="8.15" fill="#135fa7"/>
<rect x="161.00" y="475.00" width="8.19" height="8.15" fill="#135fa7"/>
<rect x="168.84" y="475.00" width="8.19" height="8.15" fill="#4a97c9"/>
<rect x="176.68" y="475.00" width="8.19" height="8.15" fill="#08316c"/>
<rect x="184.52" y="475.00" width="8.19" height="8.15" fill="#2575b7"/>
<rect x="192.36" y="475.00" width="8.19" height="8.15" fill="#dfecf7"/>
<rect x="200.20" y="475.00" width="8.19" height="8.15" fill="#66abd4"/>
<rect x="208.04" y="475.00" width="8.19" height="8.15" fill="#d7e6f5"/>
<rect x="215.88" y="475.00" width="8.19" height="8.15" fill="#d7e6f5"/>
<rect x="223.72" y="475.00" width="8.19" height="8.15" fill="#c6dbef"/>
<rect x="231.56" y="475.00" width="8.19" height="8.15" fill="#3181bd"/>
<rect x="239.40" y="475.00" width="8.19" height="8.15" fill="#58a1cf"/>
<rect x="247.24" y="475.00" width="8.19" height="8.15" fill="#2575b7"/>
<rect x="255.08" y="475.00" width="8.19" height="8.15" fill="#77b5d9"/>
<rect x="262.92" y="475.00" width="8.19" height="8.15" fill="#aacfe5"/>
<rect x="270.76" y="475.00" width="8.19" height="8.15" fill="#aacfe5"/>
<rect x="278.60" y="475.00" width="8.19" height="8.15" fill="#77b5d9"/>
<rect x="286.44" y="475.00" width="8.19" height="8.15" fill="#9bc8e0"/>
<rect x="43.40" y="482.80" width="8.19" height="8.15" fill="#e8f2fa"/>
<rect x="51.24" y="482.80" width="8.19" height="8.15" fill="#9bc8e0"/>
<rect x="59.08" y="482.80" width="8.19" height="8.15" fill="#2575b7"/>
<rect x="66.92" y="482.80" width="8.19" height="8.15" fill="#e8f2fa"/>
<rect x="74.76" y="482.80" width="8.19" height="8.15" fill="#e8f2fa"/>
<rect x="82.60" y="482.80" width="8.19" height="8.15" fill="#e8f2fa"/>
<rect x="90.44" y="482.80" width="8.19" height="8.15" fill="#aacfe5"/>
<rect x="98.28" y="482.80" width="8.19" height="8.15" fill="#9bc8e0"/>
<rect x="106.12" y="482.80" width="8.19" height="8.15" fill="#89bfdd"/>
<rect x="113.96" y="482.80" width="8.19" height="8.15" fill="#c6dbef"/>
<rect x="121.80" y="482.80" width="8.19" height="8.15" fill="#c6dbef"/>
<rect x="129.64" y="482.80" width="8.19" height="8.15" fill="#cee1f2"/>
<rect x="137.48" y="482.80" width="8.19" height="8.15" fill="#cee1f2"/>
<rect x="145.32" y="482.80" width="8.19" height="8.15" fill="#b8d5ea"/>
<rect x="153.16" y="482.80" width="8.19" height="8.15" fill="#3181bd"/>
<rect x="161.00" y="482.80" width="8.19" height="8.15" fill="#4a97c9"/>
<rect x="168.84" y="482.80" width="8.19" height="8.15" fill="#2575b7"/>
<rect x="176.68" y="482.80" width="8.19" height="8.15" fill="#3181bd"/>
<rect x="184.52" y="482.80" width="8.19" height="8.15" fill="#2575b7"/>
<rect x="192.36" y="482.80" width="8.19" height="8.15" fill="#e8f2fa"/>
<rect x="200.20" y="482.80" width="8.19" height="8.15" fill="#77b5d9"/>
<rect x="208.04" y="482.80" width="8.19" height="8.15" fill="#dfecf7"/>
<rect x="215.88" y="482.80" width="8.19" height="8.15" fill="#dfecf7"/>
<rect x="223.72" y="482.80" width="8.19" height="8.15" fill="#dfecf7"/>
<rect x="231.56" y="482.80" width="8.19" height="8.15" fill="#3c8cc3"/>
<rect x="239.40" y="482.80" width="8.19" height="8.15" fill="#4a97c9"/>
<rect x="247.24" y="482.80" width="8.19" height="8.15" fill="#4a97c9"/>
<rect x="255.08" y="482.80" width="8.19" height="8.15" fill="#c6dbef"/>
<rect x="262.92" y="482.80" width="8.19" height="8.15" fill="#c6dbef"/>
<rect x="270.76" y="482.80" width="8.19" height="8.15" fill="#c6dbef"/>
<rect x="278.60" y="482.80" width="8.19" height="8.15" fill="#b8d5ea"/>
<rect x="286.44" y="482.80" width="8.19" height="8.15" fill="#aacfe5"/>
<rect x="43.40" y="490.60" width="8.19" height="8.15" fill="#f1f7fd"/>
<rect x="51.24" y="490.60" width="8.19" height="8.15" fill="#e8f2fa"/>
<rect x="59.08" y="490.60" width="8.19" height="8.15" fill="#dfecf7"/>
<rect x="66.92" y="490.60" width="8.19" height="8.15" fill="#f1f7fd"/>
<rect x="74.76" y="490.60" width="8.19" height="8.15" fill="#f1f7fd"/>
<rect x="82.60" y="490.60" width="8.19" height="8.15" fill="#f1f7fd"/>
<rect x="90.44" y="490.60" width="8.19" height="8.15" fill="#e8f2fa"/>
<rect x="98.28" y="490.60" width="8.19" height="8.15" fill="#f1f7fd"/>
<rect x="106.12" y="490.60" width="8.19" height="8.15" fill="#f1f7fd"/>
<rect x="113.96" y="490.60" width="8.19" height="8.15" fill="#e8f2fa"/>
<rect x="121.80" y="490.60" width="8.19" height="8.15" fill="#e8f2fa"/>
<rect x="129.64" y="490.60" width="8.19" height="8.15" fill="#f1f7fd"/>
<rect x="137.48" y="490.60" width="8.19" height="8.15" fill="#f1f7fd"/>
<rect x="145.32" y="490.60" width="8.19" height="8.15" fill="#f1f7fd"/>
<rect x="153.16" y="490.60" width="8.19" height="8.15" fill="#dfecf7"/>
<rect x="161.00" y="490.60" width="8.19" height="8.15" fill="#d7e6f5"/>
<rect x="168.84" y="490.60" width="8.19" height="8.15" fill="#e8f2fa"/>
<rect x="176.68" y="490.60" width="8.19" height="8.15" fill="#e8f2fa"/>
<rect x="184.52" y="490.60" width="8.19" height="8.15" fill="#f1f7fd"/>
<rect x="192.36" y="490.60" width="8.19" height="8.15" fill="#e8f2fa"/>
<rect x="200.20" y="490.60" width="8.19" height="8.15" fill="#e8f2fa"/>
<rect x="208.04" y="490.60" width="8.19" height="8.15" fill="#e8f2fa"/>
<rect x="215.88" y="490.60" width="8.19" height="8.15" fill="#f1f7fd"/>
<rect x="223.72" y="490.60" width="8.19" height="8.15" fill="#f1f7fd"/>
<rect x="231.56" y="490.60" width="8.19" height="8.15" fill="#d7e6f5"/>
<rect x="239.40" y="490.60" width="8.19" height="8.15" fill="#f1f7fd"/>
<rect x="247.24" y="490.60" width="8.19" height="8.15" fill="#f1f7fd"/>
<rect x="255.08" y="490.60" width="8.19" height="8.15" fill="#f1f7fd"/>
<rect x="262.92" y="490.60" width="8.19" height="8.15" fill="#f1f7fd"/>
<rect x="270.76" y="490.60" width="8.19" height="8.15" fill="#f1f7fd"/>
<rect x="278.60" y="490.60" width="8.19" height="8.15" fill="#f1f7fd"/>
<rect x="286.44" y="490.60" width="8.19" height="8.15" fill="#f1f7fd"/>
<rect x="43.40" y="498.40" width="8.19" height="8.15" fill="#d7e6f5"/>
<rect x="51.24" y="498.40" width="8.19" height="8.15" fill="#cee1f2"/>
<rect x="59.08" y="498.40" width="8.19" height="8.15" fill="#9bc8e0"/>
<rect x="66.92" y="498.40" width="8.19" height="8.15" fill="#e8f2fa"/>
<rect x="74.76" y="498.40" width="8.19" height="8.15" fill="#e8f2fa"/>
<rect x="82.60" y="498.40" width="8.19" height="8.15" fill="#e8f2fa"/>
<rect x="90.44" y="498.40" width="8.19" height="8.15" fill="#c6dbef"/>
<rect x="98.28" y="498.40" width="8.19" height="8.15" fill="#cee1f2"/>
<rect x="106.12" y="498.40" width="8.19" height="8.15" fill="#cee1f2"/>
<rect x="113.96" y="498.40" width="8.19" height="8.15" fill="#cee1f2"/>
<rect x="121.80" y="498.40" width="8.19" height="8.15" fill="#cee1f2"/>
<rect x="129.64" y="498.40" width="8.19" height="8.15" fill="#cee1f2"/>
<rect x="137.48" y="498.40" width="8.19" height="8.15" fill="#cee1f2"/>
<rect x="145.32" y="498.40" width="8.19" height="8.15" fill="#cee1f2"/>
<rect x="153.16" y="498.40" width="8.19" height="8.15" fill="#9bc8e0"/>
<rect x="161.00" y="498.40" width="8.19" height="8.15" fill="#58a1cf"/>
<rect x="168.84" y="498.40" width="8.19" height="8.15" fill="#9bc8e0"/>
<rect x="176.68" y="498.40" width="8.19" height="8.15" fill="#9bc8e0"/>
<rect x="184.52" y="498.40" width="8.19" height="8.15" fill="#c6dbef"/>
<rect x="192.36" y="498.40" width="8.19" height="8.15" fill="#dfecf7"/>
<rect x="200.20" y="498.40" width="8.19" height="8.15" fill="#89bfdd"/>
<rect x="208.04" y="498.40" width="8.19" height="8.15" fill="#d7e6f5"/>
<rect x="215.88" y="498.40" width="8.19" height="8.15" fill="#dfecf7"/>
<rect x="223.72" y="498.40" width="8.19" height="8.15" fill="#dfecf7"/>
<rect x="231.56" y="498.40" width="8.19" height="8.15" fill="#4a97c9"/>
<rect x="239.40" y="498.40" width="8.19" height="8.15" fill="#aacfe5"/>
<rect x="247.24" y="498.40" width="8.19" height="8.15" fill="#aacfe5"/>
<rect x="255.08" y="498.40" width="8.19" height="8.15" fill="#cee1f2"/>
<rect x="262.92" y="498.40" width="8.19" height="8.15" fill="#cee1f2"/>
<rect x="270.76" y="498.40" width="8.19" height="8.15" fill="#cee1f2"/>
<rect x="278.60" y="498.40" width="8.19" height="8.15" fill="#cee1f2"/>
<rect x="286.44" y="498.40" width="8.19" height="8.15" fill="#cee1f2"/>
<rect x="43.40" y="506.20" width="8.19" height="8.15" fill="#dfecf7"/>
<rect x="51.24" y="506.20" width="8.19" height="8.15" fill="#e8f2fa"/>
<rect x="59.08" y="506.20" width="8.19" height="8.15" fill="#cee1f2"/>
<rect x="66.92" y="506.20" width="8.19" height="8.15" fill="#e8f2fa"/>
<rect x="74.76" y="506.20" width="8.19" height="8.15" fill="#f1f7fd"/>
<rect x="82.60" y="506.20" width="8.19" height="8.15" fill="#f1f7fd"/>
<rect x="90.44" y="506.20" width="8.19" height="8.15" fill="#d7e6f5"/>
<rect x="98.28" y="506.20" width="8.19" height="8.15" fill="#e8f2fa"/>
<rect x="106.12" y="506.20" width="8.19" height="8.15" fill="#dfecf7"/>
<rect x="113.96" y="506.20" width="8.19" height="8.15" fill="#dfecf7"/>
<rect x="121.80" y="506.20" width="8.19" height="8.15" fill="#dfecf7"/>
<rect x="129.64" y="506.20" width="8.19" height="8.15" fill="#e8f2fa"/>
<rect x="137.48" y="506.20" width="8.19" height="8.15" fill="#e8f2fa"/>
<rect x="145.32" y="506.20" width="8.19" height="8.15" fill="#e8f2fa"/>
<rect x="153.16" y="506.20" width="8.19" height="8.15" fill="#d7e6f5"/>
<rect x="161.00" y="506.20" width="8.19" height="8.15" fill="#b8d5ea"/>
<rect x="168.84" y="506.20" width="8.19" height="8.15" fill="#d7e6f5"/>
<rect x="176.68" y="506.20" width="8.19" height="8.15" fill="#dfecf7"/>
<rect x="184.52" y="506.20" width="8.19" height="8.15" fill="#e8f2fa"/>
<rect x="192.36" y="506.20" width="8.19" height="8.15" fill="#e8f2fa"/>
<rect x="200.20" y="506.20" width="8.19" height="8.15" fill="#dfecf7"/>
<rect x="208.04" y="506.20" width="8.19" height="8.15" fill="#dfecf7"/>
<rect x="215.88" y="506.20" width="8.19" height="8.15" fill="#e8f2fa"/>
<rect x="223.72" y="506.20" width="8.19" height="8.15" fill="#e8f2fa"/>
<rect x="231.56" y="506.20" width="8.19" height="8.15" fill="#b8d5ea"/>
<rect x="239.40" y="506.20" width="8.19" height="8.15" fill="#e8f2fa"/>
<rect x="247.24" y="506.20" width="8.19" height="8.15" fill="#e8f2fa"/>
<rect x="255.08" y="506.20" width="8.19" height="8.15" fill="#e8f2fa"/>
<rect x="262.92" y="506.20" width="8.19" height="8.15" fill="#dfecf7"/>
<rect x="270.76" y="506.20" width="8.19" height="8.15" fill="#e8f2fa"/>
<rect x="278.60" y="506.20" width="8.19" height="8.15" fill="#e8f2fa"/>
<rect x="286.44" y="506.20" width="8.19" height="8.15" fill="#e8f2fa"/>
<rect x="43.40" y="514.00" width="8.19" height="8.15" fill="#f1f7fd"/>
<rect x="51.24" y="514.00" width="8.19" height="8.15" fill="#e8f2fa"/>
<rect x="59.08" y="514.00" width="8.19" height="8.15" fill="#d7e6f5"/>
<rect x="66.92" y="514.00" width="8.19" height="8.15" fill="#f1f7fd"/>
<rect x="74.76" y="514.00" width="8.19" height="8.15" fill="#f1f7fd"/>
<rect x="82.60" y="514.00" width="8.19" height="8.15" fill="#f1f7fd"/>
<rect x="90.44" y="514.00" width="8.19" height="8.15" fill="#dfecf7"/>
<rect x="98.28" y="514.00" width="8.19" height="8.15" fill="#e8f2fa"/>
<rect x="106.12" y="514.00" width="8.19" height="8.15" fill="#e8f2fa"/>
<rect x="113.96" y="514.00" width="8.19" height="8.15" fill="#e8f2fa"/>
<rect x="121.80" y="514.00" width="8.19" height="8.15" fill="#e8f2fa"/>
<rect x="129.64" y="514.00" width="8.19" height="8.15" fill="#e8f2fa"/>
<rect x="137.48" y="514.00" width="8.19" height="8.15" fill="#f1f7fd"/>
<rect x="145.32" y="514.00" width="8.19" height="8.15" fill="#f1f7fd"/>
<rect x="153.16" y="514.00" width="8.19" height="8.15" fill="#d7e6f5"/>
<rect x="161.00" y="514.00" width="8.19" height="8.15" fill="#cee1f2"/>
<rect x="168.84" y="514.00" width="8.19" height="8.15" fill="#d7e6f5"/>
<rect x="176.68" y="514.00" width="8.19" height="8.15" fill="#e8f2fa"/>
<rect x="184.52" y="514.00" width="8.19" height="8.15" fill="#e8f2fa"/>
<rect x="192.36" y="514.00" width="8.19" height="8.15" fill="#f1f7fd"/>
<rect x="200.20" y="514.00" width="8.19" height="8.15" fill="#e8f2fa"/>
<rect x="208.04" y="514.00" width="8.19" height="8.15" fill="#e8f2fa"/>
<rect x="215.88" y="514.00" width="8.19" height="8.15" fill="#e8f2fa"/>
<rect x="223.72" y="514.00" width="8.19" height="8.15" fill="#f1f7fd"/>
<rect x="231.56" y="514.00" width="8.19" height="8.15" fill="#cee1f2"/>
<rect x="239.40" y="514.00" width="8.19" height="8.15" fill="#dfecf7"/>
<rect x="247.24" y="514.00" width="8.19" height="8.15" fill="#e8f2fa"/>
<rect x="255.08" y="514.00" width="8.19" height="8.15" fill="#e8f2fa"/>
<rect x="262.92" y="514.00" width="8.19" height="8.15" fill="#e8f2fa"/>
<rect x="270.76" y="514.00" width="8.19" height="8.15" fill="#dfecf7"/>
<rect x="278.60" y="514.00" width="8.19" height="8.15" fill="#f1f7fd"/>
<rect x="286.44" y="514.00" width="8.19" height="8.15" fill="#e8f2fa"/>
<rect x="43.40" y="521.80" width="8.19" height="8.15" fill="#f1f7fd"/>
<rect x="51.24" y="521.80" width="8.19" height="8.15" fill="#e8f2fa"/>
<rect x="59.08" y="521.80" width="8.19" height="8.15" fill="#d7e6f5"/>
<rect x="66.92" y="521.80" width="8.19" height="8.15" fill="#f1f7fd"/>
<rect x="74.76" y="521.80" width="8.19" height="8.15" fill="#f1f7fd"/>
<rect x="82.60" y="521.80" width="8.19" height="8.15" fill="#f1f7fd"/>
<rect x="90.44" y="521.80" width="8.19" height="8.15" fill="#e8f2fa"/>
<rect x="98.28" y="521.80" width="8.19" height="8.15" fill="#e8f2fa"/>
<rect x="106.12" y="521.80" width="8.19" height="8.15" fill="#e8f2fa"/>
<rect x="113.96" y="521.80" width="8.19" height="8.15" fill="#e8f2fa"/>
<rect x="121.80" y="521.80" width="8.19" height="8.15" fill="#f1f7fd"/>
<rect x="129.64" y="521.80" width="8.19" height="8.15" fill="#f1f7fd"/>
<rect x="137.48" y="521.80" width="8.19" height="8.15" fill="#e8f2fa"/>
<rect x="145.32" y="521.80" width="8.19" height="8.15" fill="#e8f2fa"/>
<rect x="153.16" y="521.80" width="8.19" height="8.15" fill="#d7e6f5"/>
<rect x="161.00" y="521.80" width="8.19" height="8.15" fill="#cee1f2"/>
<rect x="168.84" y="521.80" width="8.19" height="8.15" fill="#dfecf7"/>
<rect x="176.68" y="521.80" width="8.19" height="8.15" fill="#d7e6f5"/>
<rect x="184.52" y="521.80" width="8.19" height="8.15" fill="#f1f7fd"/>
<rect x="192.36" y="521.80" width="8.19" height="8.15" fill="#f1f7fd"/>
<rect x="200.20" y="521.80" width="8.19" height="8.15" fill="#e8f2fa"/>
<rect x="208.04" y="521.80" width="8.19" height="8.15" fill="#f1f7fd"/>
<rect x="215.88" y="521.80" width="8.19" height="8.15" fill="#f1f7fd"/>
<rect x="223.72" y="521.80" width="8.19" height="8.15" fill="#e8f2fa"/>
<rect x="231.56" y="521.80" width="8.19" height="8.15" fill="#cee1f2"/>
<rect x="239.40" y="521.80" width="8.19" height="8.15" fill="#e8f2fa"/>
<rect x="247.24" y="521.80" width="8.19" height="8.15" fill="#dfecf7"/>
<rect x="255.08" y="521.80" width="8.19" height="8.15" fill="#e8f2fa"/>
<rect x="262.92" y="521.80" width="8.19" height="8.15" fill="#e8f2fa"/>
<rect x="270.76" y="521.80" width="8.19" height="8.15" fill="#e8f2fa"/>
<rect x="278.60" y="521.80" width="8.19" height="8.15" fill="#dfecf7"/>
<rect x="286.44" y="521.80" width="8.19" height="8.15" fill="#e8f2fa"/>
<rect x="43.40" y="529.60" width="8.19" height="8.15" fill="#cee1f2"/>
<rect x="51.24" y="529.60" width="8.19" height="8.15" fill="#9bc8e0"/>
<rect x="59.08" y="529.60" width="8.19" height="8.15" fill="#3181bd"/>
<rect x="66.92" y="529.60" width="8.19" height="8.15" fill="#d7e6f5"/>
<rect x="74.76" y="529.60" width="8.19" height="8.15" fill="#dfecf7"/>
<rect x="82.60" y="529.60" width="8.19" height="8.15" fill="#dfecf7"/>
<rect x="90.44" y="529.60" width="8.19" height="8.15" fill="#77b5d9"/>
<rect x="98.28" y="529.60" width="8.19" height="8.15" fill="#9bc8e0"/>
<rect x="106.12" y="529.60" width="8.19" height="8.15" fill="#9bc8e0"/>
<rect x="113.96" y="529.60" width="8.19" height="8.15" fill="#b8d5ea"/>
<rect x="121.80" y="529.60" width="8.19" height="8.15" fill="#b8d5ea"/>
<rect x="129.64" y="529.60" width="8.19" height="8.15" fill="#b8d5ea"/>
<rect x="137.48" y="529.60" width="8.19" height="8.15" fill="#b8d5ea"/>
<rect x="145.32" y="529.60" width="8.19" height="8.15" fill="#c6dbef"/>
<rect x="153.16" y="529.60" width="8.19" height="8.15" fill="#3c8cc3"/>
<rect x="161.00" y="529.60" width="8.19" height="8.15" fill="#2575b7"/>
<rect x="168.84" y="529.60" width="8.19" height="8.15" fill="#3c8cc3"/>
<rect x="176.68" y="529.60" width="8.19" height="8.15" fill="#4a97c9"/>
<rect x="184.52" y="529.60" width="8.19" height="8.15" fill="#89bfdd"/>
<rect x="192.36" y="529.60" width="8.19" height="8.15" fill="#cee1f2"/>
<rect x="200.20" y="529.60" width="8.19" height="8.15" fill="#58a1cf"/>
<rect x="208.04" y="529.60" width="8.19" height="8.15" fill="#b8d5ea"/>
<rect x="215.88" y="529.60" width="8.19" height="8.15" fill="#cee1f2"/>
<rect x="223.72" y="529.60" width="8.19" height="8.15" fill="#cee1f2"/>
<rect x="231.56" y="529.60" width="8.19" height="8.15" fill="#135fa7"/>
<rect x="239.40" y="529.60" width="8.19" height="8.15" fill="#58a1cf"/>
<rect x="247.24" y="529.60" width="8.19" height="8.15" fill="#58a1cf"/>
<rect x="255.08" y="529.60" width="8.19" height="8.15" fill="#aacfe5"/>
<rect x="262.92" y="529.60" width="8.19" height="8.15" fill="#9bc8e0"/>
<rect x="270.76" y="529.60" width="8.19" height="8.15" fill="#aacfe5"/>
<rect x="278.60" y="529.60" width="8.19" height="8.15" fill="#aacfe5"/>
<rect x="286.44" y="529.60" width="8.19" height="8.15" fill="#b8d5ea"/>
<rect x="43.40" y="537.40" width="8.19" height="8.15" fill="#f1f7fd"/>
<rect x="51.24" y="537.40" width="8.19" height="8.15" fill="#d7e6f5"/>
<rect x="59.08" y="537.40" width="8.19" height="8.15" fill="#77b5d9"/>
<rect x="66.92" y="537.40" width="8.19" height="8.15" fill="#f1f7fd"/>
<rect x="74.76" y="537.40" width="8.19" height="8.15" fill="#e8f2fa"/>
<rect x="82.60" y="537.40" width="8.19" height="8.15" fill="#f1f7fd"/>
<rect x="90.44" y="537.40" width="8.19" height="8.15" fill="#cee1f2"/>
<rect x="98.28" y="537.40" width="8.19" height="8.15" fill="#cee1f2"/>
<rect x="106.12" y="537.40" width="8.19" height="8.15" fill="#dfecf7"/>
<rect x="113.96" y="537.40" width="8.19" height="8.15" fill="#dfecf7"/>
<rect x="121.80" y="537.40" width="8.19" height="8.15" fill="#dfecf7"/>
<rect x="129.64" y="537.40" width="8.19" height="8.15" fill="#dfecf7"/>
<rect x="137.48" y="537.40" width="8.19" height="8.15" fill="#e8f2fa"/>
<rect x="145.32" y="537.40" width="8.19" height="8.15" fill="#dfecf7"/>
<rect x="153.16" y="537.40" width="8.19" height="8.15" fill="#9bc8e0"/>
<rect x="161.00" y="537.40" width="8.19" height="8.15" fill="#77b5d9"/>
<rect x="168.84" y="537.40" width="8.19" height="8.15" fill="#58a1cf"/>
<rect x="176.68" y="537.40" width="8.19" height="8.15" fill="#aacfe5"/>
<rect x="184.52" y="537.40" width="8.19" height="8.15" fill="#9bc8e0"/>
<rect x="192.36" y="537.40" width="8.19" height="8.15" fill="#f1f7fd"/>
<rect x="200.20" y="537.40" width="8.19" height="8.15" fill="#b8d5ea"/>
<rect x="208.04" y="537.40" width="8.19" height="8.15" fill="#e8f2fa"/>
<rect x="215.88" y="537.40" width="8.19" height="8.15" fill="#dfecf7"/>
<rect x="223.72" y="537.40" width="8.19" height="8.15" fill="#e8f2fa"/>
<rect x="231.56" y="537.40" width="8.19" height="8.15" fill="#58a1cf"/>
<rect x="239.40" y="537.40" width="8.19" height="8.15" fill="#58a1cf"/>
<rect x="247.24" y="537.40" width="8.19" height="8.15" fill="#aacfe5"/>
<rect x="255.08" y="537.40" width="8.19" height="8.15" fill="#d7e6f5"/>
<rect x="262.92" y="537.40" width="8.19" height="8.15" fill="#cee1f2"/>
<rect x="270.76" y="537.40" width="8.19" height="8.15" fill="#cee1f2"/>
<rect x="278.60" y="537.40" width="8.19" height="8.15" fill="#dfecf7"/>
<rect x="286.44" y="537.40" width="8.19" height="8.15" fill="#cee1f2"/>
<rect x="43.40" y="545.20" width="8.19" height="8.15" fill="#f1f7fd"/>
<rect x="51.24" y="545.20" width="8.19" height="8.15" fill="#d7e6f5"/>
<rect x="59.08" y="545.20" width="8.19" height="8.15" fill="#89bfdd"/>
<rect x="66.92" y="545.20" width="8.19" height="8.15" fill="#f1f7fd"/>
<rect x="74.76" y="545.20" width="8.19" height="8.15" fill="#f1f7fd"/>
<rect x="82.60" y="545.20" width="8.19" height="8.15" fill="#e8f2fa"/>
<rect x="90.44" y="545.20" width="8.19" height="8.15" fill="#cee1f2"/>
<rect x="98.28" y="545.20" width="8.19" height="8.15" fill="#dfecf7"/>
<rect x="106.12" y="545.20" width="8.19" height="8.15" fill="#cee1f2"/>
<rect x="113.96" y="545.20" width="8.19" height="8.15" fill="#dfecf7"/>
<rect x="121.80" y="545.20" width="8.19" height="8.15" fill="#e8f2fa"/>
<rect x="129.64" y="545.20" width="8.19" height="8.15" fill="#dfecf7"/>
<rect x="137.48" y="545.20" width="8.19" height="8.15" fill="#d7e6f5"/>
<rect x="145.32" y="545.20" width="8.19" height="8.15" fill="#dfecf7"/>
<rect x="153.16" y="545.20" width="8.19" height="8.15" fill="#77b5d9"/>
<rect x="161.00" y="545.20" width="8.19" height="8.15" fill="#aacfe5"/>
<rect x="168.84" y="545.20" width="8.19" height="8.15" fill="#9bc8e0"/>
<rect x="176.68" y="545.20" width="8.19" height="8.15" fill="#58a1cf"/>
<rect x="184.52" y="545.20" width="8.19" height="8.15" fill="#89bfdd"/>
<rect x="192.36" y="545.20" width="8.19" height="8.15" fill="#f1f7fd"/>
<rect x="200.20" y="545.20" width="8.19" height="8.15" fill="#b8d5ea"/>
<rect x="208.04" y="545.20" width="8.19" height="8.15" fill="#e8f2fa"/>
<rect x="215.88" y="545.20" width="8.19" height="8.15" fill="#e8f2fa"/>
<rect x="223.72" y="545.20" width="8.19" height="8.15" fill="#dfecf7"/>
<rect x="231.56" y="545.20" width="8.19" height="8.15" fill="#58a1cf"/>
<rect x="239.40" y="545.20" width="8.19" height="8.15" fill="#aacfe5"/>
<rect x="247.24" y="545.20" width="8.19" height="8.15" fill="#4a97c9"/>
<rect x="255.08" y="545.20" width="8.19" height="8.15" fill="#cee1f2"/>
<rect x="262.92" y="545.20" width="8.19" height="8.15" fill="#dfecf7"/>
<rect x="270.76" y="545.20" width="8.19" height="8.15" fill="#d7e6f5"/>
<rect x="278.60" y="545.20" width="8.19" height="8.15" fill="#cee1f2"/>
<rect x="286.44" y="545.20" width="8.19" height="8.15" fill="#cee1f2"/>
<rect x="43.40" y="553.00" width="8.19" height="8.15" fill="#e8f2fa"/>
<rect x="51.24" y="553.00" width="8.19" height="8.15" fill="#e8f2fa"/>
<rect x="59.08" y="553.00" width="8.19" height="8.15" fill="#cee1f2"/>
<rect x="66.92" y="553.00" width="8.19" height="8.15" fill="#f1f7fd"/>
<rect x="74.76" y="553.00" width="8.19" height="8.15" fill="#f1f7fd"/>
<rect x="82.60" y="553.00" width="8.19" height="8.15" fill="#f1f7fd"/>
<rect x="90.44" y="553.00" width="8.19" height="8.15" fill="#d7e6f5"/>
<rect x="98.28" y="553.00" width="8.19" height="8.15" fill="#e8f2fa"/>
<rect x="106.12" y="553.00" width="8.19" height="8.15" fill="#e8f2fa"/>
<rect x="113.96" y="553.00" width="8.19" height="8.15" fill="#f1f7fd"/>
<rect x="121.80" y="553.00" width="8.19" height="8.15" fill="#f1f7fd"/>
<rect x="129.64" y="553.00" width="8.19" height="8.15" fill="#f1f7fd"/>
<rect x="137.48" y="553.00" width="8.19" height="8.15" fill="#f1f7fd"/>
<rect x="145.32" y="553.00" width="8.19" height="8.15" fill="#f1f7fd"/>
<rect x="153.16" y="553.00" width="8.19" height="8.15" fill="#cee1f2"/>
<rect x="161.00" y="553.00" width="8.19" height="8.15" fill="#c6dbef"/>
<rect x="168.84" y="553.00" width="8.19" height="8.15" fill="#cee1f2"/>
<rect x="176.68" y="553.00" width="8.19" height="8.15" fill="#c6dbef"/>
<rect x="184.52" y="553.00" width="8.19" height="8.15" fill="#dfecf7"/>
<rect x="192.36" y="553.00" width="8.19" height="8.15" fill="#e8f2fa"/>
<rect x="200.20" y="553.00" width="8.19" height="8.15" fill="#cee1f2"/>
<rect x="208.04" y="553.00" width="8.19" height="8.15" fill="#e8f2fa"/>
<rect x="215.88" y="553.00" width="8.19" height="8.15" fill="#e8f2fa"/>
<rect x="223.72" y="553.00" width="8.19" height="8.15" fill="#e8f2fa"/>
<rect x="231.56" y="553.00" width="8.19" height="8.15" fill="#aacfe5"/>
<rect x="239.40" y="553.00" width="8.19" height="8.15" fill="#d7e6f5"/>
<rect x="247.24" y="553.00" width="8.19" height="8.15" fill="#d7e6f5"/>
<rect x="255.08" y="553.00" width="8.19" height="8.15" fill="#dfecf7"/>
<rect x="262.92" y="553.00" width="8.19" height="8.15" fill="#dfecf7"/>
<rect x="270.76" y="553.00" width="8.19" height="8.15" fill="#e8f2fa"/>
<rect x="278.60" y="553.00" width="8.19" height="8.15" fill="#dfecf7"/>
<rect x="286.44" y="553.00" width="8.19" height="8.15" fill="#dfecf7"/>
<rect x="43.40" y="560.80" width="8.19" height="8.15" fill="#dfecf7"/>
<rect x="51.24" y="560.80" width="8.19" height="8.15" fill="#e8f2fa"/>
<rect x="59.08" y="560.80" width="8.19" height="8.15" fill="#c6dbef"/>
<rect x="66.92" y="560.80" width="8.19" height="8.15" fill="#e8f2fa"/>
<rect x="74.76" y="560.80" width="8.19" height="8.15" fill="#f1f7fd"/>
<rect x="82.60" y="560.80" width="8.19" height="8.15" fill="#f1f7fd"/>
<rect x="90.44" y="560.80" width="8.19" height="8.15" fill="#d7e6f5"/>
<rect x="98.28" y="560.80" width="8.19" height="8.15" fill="#dfecf7"/>
<rect x="106.12" y="560.80" width="8.19" height="8.15" fill="#e8f2fa"/>
<rect x="113.96" y="560.80" width="8.19" height="8.15" fill="#e8f2fa"/>
<rect x="121.80" y="560.80" width="8.19" height="8.15" fill="#e8f2fa"/>
<rect x="129.64" y="560.80" width="8.19" height="8.15" fill="#e8f2fa"/>
<rect x="137.48" y="560.80" width="8.19" height="8.15" fill="#e8f2fa"/>
<rect x="145.32" y="560.80" width="8.19" height="8.15" fill="#f1f7fd"/>
<rect x="153.16" y="560.80" width="8.19" height="8.15" fill="#cee1f2"/>
<rect x="161.00" y="560.80" width="8.19" height="8.15" fill="#b8d5ea"/>
<rect x="168.84" y="560.80" width="8.19" height="8.15" fill="#b8d5ea"/>
<rect x="176.68" y="560.80" width="8.19" height="8.15" fill="#cee1f2"/>
<rect x="184.52" y="560.80" width="8.19" height="8.15" fill="#dfecf7"/>
<rect x="192.36" y="560.80" width="8.19" height="8.15" fill="#e8f2fa"/>
<rect x="200.20" y="560.80" width="8.19" height="8.15" fill="#cee1f2"/>
<rect x="208.04" y="560.80" width="8.19" height="8.15" fill="#e8f2fa"/>
<rect x="215.88" y="560.80" width="8.19" height="8.15" fill="#e8f2fa"/>
<rect x="223.72" y="560.80" width="8.19" height="8.15" fill="#e8f2fa"/>
<rect x="231.56" y="560.80" width="8.19" height="8.15" fill="#9bc8e0"/>
<rect x="239.40" y="560.80" width="8.19" height="8.15" fill="#cee1f2"/>
<rect x="247.24" y="560.80" width="8.19" height="8.15" fill="#dfecf7"/>
<rect x="255.08" y="560.80" width="8.19" height="8.15" fill="#dfecf7"/>
<rect x="262.92" y="560.80" width="8.19" height="8.15" fill="#d7e6f5"/>
<rect x="270.76" y="560.80" width="8.19" height="8.15" fill="#d7e6f5"/>
<rect x="278.60" y="560.80" width="8.19" height="8.15" fill="#e8f2fa"/>
<rect x="286.44" y="560.80" width="8.19" height="8.15" fill="#dfecf7"/>
<rect x="43.40" y="568.60" width="8.19" height="8.15" fill="#f1f7fd"/>
<rect x="51.24" y="568.60" width="8.19" height="8.15" fill="#dfecf7"/>
<rect x="59.08" y="568.60" width="8.19" height="8.15" fill="#cee1f2"/>
<rect x="66.92" y="568.60" width="8.19" height="8.15" fill="#f1f7fd"/>
<rect x="74.76" y="568.60" width="8.19" height="8.15" fill="#e8f2fa"/>
<rect x="82.60" y="568.60" width="8.19" height="8.15" fill="#f1f7fd"/>
<rect x="90.44" y="568.60" width="8.19" height="8.15" fill="#d7e6f5"/>
<rect x="98.28" y="568.60" width="8.19" height="8.15" fill="#e8f2fa"/>
<rect x="106.12" y="568.60" width="8.19" height="8.15" fill="#e8f2fa"/>
<rect x="113.96" y="568.60" width="8.19" height="8.15" fill="#e8f2fa"/>
<rect x="121.80" y="568.60" width="8.19" height="8.15" fill="#e8f2fa"/>
<rect x="129.64" y="568.60" width="8.19" height="8.15" fill="#e8f2fa"/>
<rect x="137.48" y="568.60" width="8.19" height="8.15" fill="#f1f7fd"/>
<rect x="145.32" y="568.60" width="8.19" height="8.15" fill="#f1f7fd"/>
<rect x="153.16" y="568.60" width="8.19" height="8.15" fill="#cee1f2"/>
<rect x="161.00" y="568.60" width="8.19" height="8.15" fill="#c6dbef"/>
<rect x="168.84" y="568.60" width="8.19" height="8.15" fill="#b8d5ea"/>
<rect x="176.68" y="568.60" width="8.19" height="8.15" fill="#cee1f2"/>
<rect x="184.52" y="568.60" width="8.19" height="8.15" fill="#d7e6f5"/>
<rect x="192.36" y="568.60" width="8.19" height="8.15" fill="#e8f2fa"/>
<rect x="200.20" y="568.60" width="8.19" height="8.15" fill="#cee1f2"/>
<rect x="208.04" y="568.60" width="8.19" height="8.15" fill="#e8f2fa"/>
<rect x="215.88" y="568.60" width="8.19" height="8.15" fill="#e8f2fa"/>
<rect x="223.72" y="568.60" width="8.19" height="8.15" fill="#dfecf7"/>
<rect x="231.56" y="568.60" width="8.19" height="8.15" fill="#aacfe5"/>
<rect x="239.40" y="568.60" width="8.19" height="8.15" fill="#cee1f2"/>
<rect x="247.24" y="568.60" width="8.19" height="8.15" fill="#dfecf7"/>
<rect x="255.08" y="568.60" width="8.19" height="8.15" fill="#dfecf7"/>
<rect x="262.92" y="568.60" width="8.19" height="8.15" fill="#dfecf7"/>
<rect x="270.76" y="568.60" width="8.19" height="8.15" fill="#d7e6f5"/>
<rect x="278.60" y="568.60" width="8.19" height="8.15" fill="#dfecf7"/>
<rect x="286.44" y="568.60" width="8.19" height="8.15" fill="#dfecf7"/>
<rect x="43.40" y="576.40" width="8.19" height="8.15" fill="#f1f7fd"/>
<rect x="51.24" y="576.40" width="8.19" height="8.15" fill="#dfecf7"/>
<rect x="59.08" y="576.40" width="8.19" height="8.15" fill="#cee1f2"/>
<rect x="66.92" y="576.40" width="8.19" height="8.15" fill="#f1f7fd"/>
<rect x="74.76" y="576.40" width="8.19" height="8.15" fill="#f1f7fd"/>
<rect x="82.60" y="576.40" width="8.19" height="8.15" fill="#e8f2fa"/>
<rect x="90.44" y="576.40" width="8.19" height="8.15" fill="#d7e6f5"/>
<rect x="98.28" y="576.40" width="8.19" height="8.15" fill="#e8f2fa"/>
<rect x="106.12" y="576.40" width="8.19" height="8.15" fill="#dfecf7"/>
<rect x="113.96" y="576.40" width="8.19" height="8.15" fill="#e8f2fa"/>
<rect x="121.80" y="576.40" width="8.19" height="8.15" fill="#e8f2fa"/>
<rect x="129.64" y="576.40" width="8.19" height="8.15" fill="#f1f7fd"/>
<rect x="137.48" y="576.40" width="8.19" height="8.15" fill="#e8f2fa"/>
<rect x="145.32" y="576.40" width="8.19" height="8.15" fill="#e8f2fa"/>
<rect x="153.16" y="576.40" width="8.19" height="8.15" fill="#cee1f2"/>
<rect x="161.00" y="576.40" width="8.19" height="8.15" fill="#b8d5ea"/>
<rect x="168.84" y="576.40" width="8.19" height="8.15" fill="#cee1f2"/>
<rect x="176.68" y="576.40" width="8.19" height="8.15" fill="#aacfe5"/>
<rect x="184.52" y="576.40" width="8.19" height="8.15" fill="#dfecf7"/>
<rect x="192.36" y="576.40" width="8.19" height="8.15" fill="#e8f2fa"/>
<rect x="200.20" y="576.40" width="8.19" height="8.15" fill="#cee1f2"/>
<rect x="208.04" y="576.40" width="8.19" height="8.15" fill="#e8f2fa"/>
<rect x="215.88" y="576.40" width="8.19" height="8.15" fill="#e8f2fa"/>
<rect x="223.72" y="576.40" width="8.19" height="8.15" fill="#dfecf7"/>
<rect x="231.56" y="576.40" width="8.19" height="8.15" fill="#aacfe5"/>
<rect x="239.40" y="576.40" width="8.19" height="8.15" fill="#dfecf7"/>
<rect x="247.24" y="576.40" width="8.19" height="8.15" fill="#cee1f2"/>
<rect x="255.08" y="576.40" width="8.19" height="8.15" fill="#dfecf7"/>
<rect x="262.92" y="576.40" width="8.19" height="8.15" fill="#dfecf7"/>
<rect x="270.76" y="576.40" width="8.19" height="8.15" fill="#dfecf7"/>
<rect x="278.60" y="576.40" width="8.19" height="8.15" fill="#cee1f2"/>
<rect x="286.44" y="576.40" width="8.19" height="8.15" fill="#dfecf7"/>
<rect x="43.40" y="584.20" width="8.19" height="8.15" fill="#f1f7fd"/>
<rect x="51.24" y="584.20" width="8.19" height="8.15" fill="#dfecf7"/>
<rect x="59.08" y="584.20" width="8.19" height="8.15" fill="#cee1f2"/>
<rect x="66.92" y="584.20" width="8.19" height="8.15" fill="#f1f7fd"/>
<rect x="74.76" y="584.20" width="8.19" height="8.15" fill="#f1f7fd"/>
<rect x="82.60" y="584.20" width="8.19" height="8.15" fill="#f1f7fd"/>
<rect x="90.44" y="584.20" width="8.19" height="8.15" fill="#dfecf7"/>
<rect x="98.28" y="584.20" width="8.19" height="8.15" fill="#f1f7fd"/>
<rect x="106.12" y="584.20" width="8.19" height="8.15" fill="#e8f2fa"/>
<rect x="113.96" y="584.20" width="8.19" height="8.15" fill="#f1f7fd"/>
<rect x="121.80" y="584.20" width="8.19" height="8.15" fill="#f1f7fd"/>
<rect x="129.64" y="584.20" width="8.19" height="8.15" fill="#f1f7fd"/>
<rect x="137.48" y="584.20" width="8.19" height="8.15" fill="#f1f7fd"/>
<rect x="145.32" y="584.20" width="8.19" height="8.15" fill="#f1f7fd"/>
<rect x="153.16" y="584.20" width="8.19" height="8.15" fill="#d7e6f5"/>
<rect x="161.00" y="584.20" width="8.19" height="8.15" fill="#cee1f2"/>
<rect x="168.84" y="584.20" width="8.19" height="8.15" fill="#c6dbef"/>
<rect x="176.68" y="584.20" width="8.19" height="8.15" fill="#c6dbef"/>
<rect x="184.52" y="584.20" width="8.19" height="8.15" fill="#dfecf7"/>
<rect x="192.36" y="584.20" width="8.19" height="8.15" fill="#f1f7fd"/>
<rect x="200.20" y="584.20" width="8.19" height="8.15" fill="#cee1f2"/>
<rect x="208.04" y="584.20" width="8.19" height="8.15" fill="#e8f2fa"/>
<rect x="215.88" y="584.20" width="8.19" height="8.15" fill="#e8f2fa"/>
<rect x="223.72" y="584.20" width="8.19" height="8.15" fill="#e8f2fa"/>
<rect x="231.56" y="584.20" width="8.19" height="8.15" fill="#b8d5ea"/>
<rect x="239.40" y="584.20" width="8.19" height="8.15" fill="#cee1f2"/>
<rect x="247.24" y="584.20" width="8.19" height="8.15" fill="#cee1f2"/>
<rect x="255.08" y="584.20" width="8.19" height="8.15" fill="#e8f2fa"/>
<rect x="262.92" y="584.20" width="8.19" height="8.15" fill="#e8f2fa"/>
<rect x="270.76" y="584.20" width="8.19" height="8.15" fill="#e8f2fa"/>
<rect x="278.60" y="584.20" width="8.19" height="8.15" fill="#dfecf7"/>
<rect x="286.44" y="584.20" width="8.19" height="8.15" fill="#dfecf7"/>
<rect x="43.4" y="342.4" width="250.88" height="249.60" fill="none" stroke="#666" stroke-width="1"/>
<path d="M39.0,346.30H43.4M47.32,592.00V596.60M39.0,354.10H43.4M55.16,592.00V596.60M39.0,361.90H43.4M63.00,592.00V596.60M39.0,369.70H43.4M70.84,592.00V596.60M39.0,377.50H43.4M78.68,592.00V596.60M39.0,385.30H43.4M86.52,592.00V596.60M39.0,393.10H43.4M94.36,592.00V596.60M39.0,400.90H43.4M102.20,592.00V596.60M39.0,408.70H43.4M110.04,592.00V596.60M39.0,416.50H43.4M117.88,592.00V596.60M39.0,424.30H43.4M125.72,592.00V596.60M39.0,432.10H43.4M133.56,592.00V596.60M39.0,439.90H43.4M141.40,592.00V596.60M39.0,447.70H43.4M149.24,592.00V596.60M39.0,455.50H43.4M157.08,592.00V596.60M39.0,463.30H43.4M164.92,592.00V596.60M39.0,471.10H43.4M172.76,592.00V596.60M39.0,478.90H43.4M180.60,592.00V596.60M39.0,486.70H43.4M188.44,592.00V596.60M39.0,494.50H43.4M196.28,592.00V596.60M39.0,502.30H43.4M204.12,592.00V596.60M39.0,510.10H43.4M211.96,592.00V596.60M39.0,517.90H43.4M219.80,592.00V596.60M39.0,525.70H43.4M227.64,592.00V596.60M39.0,533.50H43.4M235.48,592.00V596.60M39.0,541.30H43.4M243.32,592.00V596.60M39.0,549.10H43.4M251.16,592.00V596.60M39.0,556.90H43.4M259.00,592.00V596.60M39.0,564.70H43.4M266.84,592.00V596.60M39.0,572.50H43.4M274.68,592.00V596.60M39.0,580.30H43.4M282.52,592.00V596.60M39.0,588.10H43.4M290.36,592.00V596.60" stroke="#777" stroke-width="1" fill="none"/>
<g font-size="12" fill="#111"><text x="34.6" y="350.8" text-anchor="end">1</text><text x="47.3" y="611.0" text-anchor="middle">1</text><text x="34.6" y="382.0" text-anchor="end">5</text><text x="78.7" y="611.0" text-anchor="middle">5</text><text x="34.6" y="413.2" text-anchor="end">9</text><text x="110.0" y="611.0" text-anchor="middle">9</text><text x="34.6" y="444.4" text-anchor="end">13</text><text x="141.4" y="611.0" text-anchor="middle">13</text><text x="34.6" y="475.6" text-anchor="end">17</text><text x="172.8" y="611.0" text-anchor="middle">17</text><text x="34.6" y="506.8" text-anchor="end">21</text><text x="204.1" y="611.0" text-anchor="middle">21</text><text x="34.6" y="538.0" text-anchor="end">25</text><text x="235.5" y="611.0" text-anchor="middle">25</text><text x="34.6" y="569.2" text-anchor="end">29</text><text x="266.8" y="611.0" text-anchor="middle">29</text></g>
<text x="145.9" y="628" font-size="11.8" fill="#111">Orbital <tspan font-family="Liberation Serif" font-style="italic" font-size="13" dx="1.5">α</tspan></text>
<text transform="translate(10.6,490) rotate(-90)" font-size="11.8" fill="#111">Orbital <tspan font-family="Liberation Serif" font-style="italic" font-size="13" dx="1.5">β</tspan></text>
<path d="M46.4,339.4 V330.6 Q46.4,329.3 47.7,329.3 H185.9 Q187.2,329.3 187.2,330.6 V339.4" fill="none" stroke="#666" stroke-width="1"/>
<path d="M189.4,339.4 V330.6 Q189.4,329.3 190.7,329.3 H289.5 Q290.8,329.3 290.8,330.6 V339.4" fill="none" stroke="#666" stroke-width="1"/>
<text x="116.5" y="324" font-size="11.6" text-anchor="middle" fill="#111">Mo</text>
<text x="240.2" y="324" font-size="11.6" text-anchor="middle" fill="#111">S</text>
<text x="-1.4" y="319.9" font-size="15" font-weight="bold">b</text>
<defs><linearGradient id="cb" x1="0" y1="1" x2="0" y2="0"><stop offset="0.000" stop-color="#f1f7fd"/><stop offset="0.062" stop-color="#e5eff9"/><stop offset="0.125" stop-color="#d9e8f5"/><stop offset="0.188" stop-color="#cde0f1"/><stop offset="0.250" stop-color="#bfd8ec"/><stop offset="0.312" stop-color="#abd0e6"/><stop offset="0.375" stop-color="#96c6df"/><stop offset="0.438" stop-color="#7eb8da"/><stop offset="0.500" stop-color="#66abd4"/><stop offset="0.562" stop-color="#529dcc"/><stop offset="0.625" stop-color="#3f8fc4"/><stop offset="0.688" stop-color="#2f7fbc"/><stop offset="0.750" stop-color="#1f6fb4"/><stop offset="0.812" stop-color="#1360a7"/><stop offset="0.875" stop-color="#08509b"/><stop offset="0.938" stop-color="#084083"/><stop offset="1.000" stop-color="#08306b"/></linearGradient></defs>
<rect x="309.2" y="421.3" width="17.5" height="81.9" fill="url(#cb)" stroke="#777" stroke-width="1"/>
<path d="M326.7,430.1H331.1M326.7,466.5H331.1" stroke="#777" stroke-width="1"/>
<g font-size="12" fill="#111"><text x="335.3" y="434.4">4</text><text x="335.3" y="470.8">2</text><text x="317.5" y="414.5" text-anchor="middle">(meV)</text></g>
<defs><clipPath id="cu"><rect x="420.1" y="3" width="261" height="121"/></clipPath><clipPath id="cl"><rect x="420.1" y="148.5" width="261" height="124"/></clipPath></defs>
<path d="M420.6,124V3.5H680.5V124M420.6,149V271.5H680.5V149" fill="none" stroke="#888" stroke-width="1"/>
<path d="M420.6,271.5V275.8M680.5,271.5V275.8" stroke="#888" stroke-width="1"/>
<path d="M415.8,127.3L425.5,122.6M415.8,151.9L425.5,147.3M675.8,126.3L685,121.6M675.8,150.9L685,146.3" stroke="#888" stroke-width="1"/>
<path d="M530.2,3.5V124M585.6,3.5V124M530.2,149V275.8M585.6,149V275.8" stroke="#444" stroke-width="1"/>
<g clip-path="url(#cu)" fill="none"><path d="M420.60,81.30C429.40,81.30 438.07,82.76 447.00,84.50C456.46,86.34 466.25,89.18 475.80,92.30C485.58,95.49 495.53,100.61 505.00,103.50C513.61,106.13 522.44,108.78 530.20,109.30C536.72,109.73 542.05,109.02 548.40,107.60C555.79,105.95 564.93,101.66 571.70,99.20C576.93,97.30 580.23,95.32 585.60,94.10C592.51,92.53 601.97,92.61 610.00,91.80C617.83,91.01 626.46,90.97 633.20,89.30C638.73,87.93 642.89,84.85 647.80,83.50C652.50,82.20 656.94,81.63 662.00,81.20C667.74,80.71 674.33,81.00 680.50,81.00M420.60,74.40C439.00,74.40 457.47,77.94 475.80,78.00C494.00,78.06 514.77,75.15 530.20,74.80C541.61,74.54 550.44,75.10 560.00,75.20C568.86,75.29 575.46,75.36 585.60,75.40C600.45,75.46 625.86,76.17 640.50,75.40C650.31,74.88 657.76,73.25 665.00,72.80C670.75,72.44 675.33,72.50 680.50,72.50M420.60,72.20C439.00,72.20 457.51,74.44 475.80,73.40C494.04,72.36 520.23,66.29 530.20,66.00C533.96,65.89 534.81,65.86 538.00,66.60C543.55,67.89 553.35,71.98 560.00,75.40C566.03,78.50 571.62,83.41 576.40,85.90C579.82,87.68 581.70,88.99 585.60,89.70C591.70,90.82 601.98,89.56 610.00,89.00C617.84,88.45 626.43,87.94 633.20,86.40C638.71,85.15 642.72,82.97 647.80,81.30C653.28,79.50 659.37,77.31 665.00,76.00C670.26,74.77 675.33,73.50 680.50,73.50M420.60,70.90C439.00,70.90 457.50,70.26 475.80,68.70C494.03,67.15 511.95,62.39 530.20,61.60C548.55,60.81 568.16,63.13 585.60,64.00C601.22,64.78 614.73,65.51 630.00,66.50C646.30,67.56 663.67,70.20 680.50,70.20M420.60,66.90C439.00,66.90 457.47,65.32 475.80,64.30C494.00,63.29 511.98,61.55 530.20,60.80C548.57,60.04 568.15,59.72 585.60,59.80C601.22,59.87 614.74,60.04 630.00,61.00C646.31,62.03 663.67,66.00 680.50,66.00M420.60,65.70C439.00,65.70 457.50,63.59 475.80,61.60C494.03,59.62 511.94,54.97 530.20,53.80C548.54,52.63 568.17,53.81 585.60,54.60C601.23,55.31 614.75,56.38 630.00,58.00C646.32,59.74 663.67,64.90 680.50,64.90M420.60,4.60C439.40,4.60 458.48,4.97 477.00,4.60C495.00,4.24 515.47,2.79 530.20,2.50C540.65,2.29 547.92,2.50 557.00,2.50C566.38,2.50 574.87,2.27 585.60,2.50C599.42,2.79 617.19,4.07 633.00,4.50C648.82,4.93 664.67,5.10 680.50,5.10M420.60,5.90C439.40,5.90 458.48,7.33 477.00,6.90C495.00,6.49 515.47,3.70 530.20,3.50C540.65,3.36 547.92,4.31 557.00,4.50C566.38,4.69 574.87,4.39 585.60,4.60C599.42,4.87 617.19,5.90 633.00,6.30C648.82,6.70 664.67,7.00 680.50,7.00M420.60,7.60C439.40,7.60 458.50,10.33 477.00,9.70C495.01,9.09 515.47,4.32 530.20,4.10C540.64,3.94 547.92,5.60 557.00,6.10C566.37,6.61 574.87,6.54 585.60,7.10C599.42,7.82 617.18,9.80 633.00,10.40C648.82,11.00 664.67,10.70 680.50,10.70M420.60,11.00C439.40,11.00 458.49,11.97 477.00,11.20C495.01,10.45 515.47,6.91 530.20,6.60C540.64,6.38 547.93,7.22 557.00,7.80C566.38,8.40 574.86,9.49 585.60,10.20C599.41,11.11 617.19,12.12 633.00,12.50C648.82,12.88 664.67,12.50 680.50,12.50M420.60,12.00C439.40,12.00 458.51,15.48 477.00,14.70C495.03,13.93 515.47,7.70 530.20,7.60C540.64,7.53 547.91,9.96 557.00,10.80C566.37,11.67 574.88,11.80 585.60,12.70C599.42,13.86 617.18,16.18 633.00,17.50C648.81,18.82 664.67,20.60 680.50,20.60M420.60,20.30C439.40,20.30 458.49,19.51 477.00,18.30C495.01,17.12 515.46,13.82 530.20,13.20C540.64,12.76 547.92,13.34 557.00,13.50C566.38,13.67 574.89,13.42 585.60,14.20C599.44,15.21 617.18,18.20 633.00,20.00C648.82,21.80 664.67,25.00 680.50,25.00M420.60,24.20C439.40,24.20 458.49,23.08 477.00,21.90C495.01,20.76 515.47,17.96 530.20,17.30C540.64,16.83 547.92,17.44 557.00,17.20C566.38,16.95 574.91,15.11 585.60,15.80C599.46,16.69 617.14,22.25 633.00,24.30C648.78,26.34 664.67,28.10 680.50,28.10M420.60,27.30C439.40,27.30 458.49,25.85 477.00,24.40C495.01,22.99 515.46,19.35 530.20,18.80C540.63,18.41 547.92,19.34 557.00,19.60C566.38,19.87 574.89,19.53 585.60,20.40C599.44,21.52 617.16,25.32 633.00,26.80C648.79,28.28 664.67,29.30 680.50,29.30M420.60,29.50C439.40,29.50 458.49,28.54 477.00,27.50C495.00,26.49 515.47,23.69 530.20,23.40C540.64,23.19 547.92,24.07 557.00,24.40C566.38,24.74 574.87,24.84 585.60,25.40C599.42,26.12 617.22,27.12 633.00,28.70C648.85,30.28 664.67,34.90 680.50,34.90M420.60,34.60C439.40,34.60 458.46,30.60 477.00,29.50C494.98,28.43 515.48,28.34 530.20,28.00C540.65,27.76 547.92,27.66 557.00,27.50C566.38,27.33 574.89,26.49 585.60,27.00C599.43,27.66 617.18,30.88 633.00,32.40C648.81,33.92 664.67,36.10 680.50,36.10M420.60,35.80C439.40,35.80 458.47,33.56 477.00,32.50C494.99,31.47 515.47,29.64 530.20,29.50C540.65,29.40 547.92,30.49 557.00,30.50C566.38,30.51 574.89,29.08 585.60,29.50C599.43,30.04 617.21,32.87 633.00,34.90C648.84,36.94 664.67,41.70 680.50,41.70M420.60,40.70C439.40,40.70 458.48,38.72 477.00,37.60C495.00,36.51 515.47,34.31 530.20,34.10C540.65,33.95 547.92,34.77 557.00,35.10C566.38,35.44 574.87,35.70 585.60,36.10C599.42,36.62 617.23,36.56 633.00,38.00C648.86,39.45 664.67,44.80 680.50,44.80M420.60,44.20C439.40,44.20 458.46,40.28 477.00,39.20C494.98,38.15 515.48,37.84 530.20,37.70C540.65,37.60 547.92,37.87 557.00,37.95C566.38,38.03 574.88,37.62 585.60,38.20C599.43,38.94 617.19,41.38 633.00,42.90C648.82,44.42 664.67,47.30 680.50,47.30M420.60,47.80C439.40,47.80 458.45,42.33 477.00,41.70C494.97,41.09 515.48,43.92 530.20,43.80C540.65,43.71 547.92,42.49 557.00,42.30C566.38,42.10 574.87,42.39 585.60,42.70C599.42,43.10 617.20,43.74 633.00,44.80C648.84,45.87 664.67,49.10 680.50,49.10M420.60,50.90C439.40,50.90 458.46,46.55 477.00,45.80C494.97,45.07 515.48,46.72 530.20,46.30C540.66,46.00 547.92,44.92 557.00,44.50C566.37,44.07 574.87,43.60 585.60,43.80C599.42,44.05 617.21,45.40 633.00,46.70C648.84,48.00 664.67,51.60 680.50,51.60M420.60,52.90C439.40,52.90 458.47,50.66 477.00,49.80C494.99,48.97 515.48,48.19 530.20,47.80C540.65,47.53 547.92,47.56 557.00,47.40C566.38,47.23 574.87,46.65 585.60,46.80C599.42,46.99 617.20,48.08 633.00,49.10C648.83,50.12 664.67,52.90 680.50,52.90M420.60,59.50C439.40,59.50 458.44,54.07 477.00,52.90C494.96,51.77 515.48,52.52 530.20,52.40C540.65,52.31 547.92,52.28 557.00,52.20C566.38,52.12 574.87,51.99 585.60,51.90C599.41,51.78 617.25,50.32 633.00,51.60C648.88,52.89 664.67,59.70 680.50,59.70" stroke="#ff0000" stroke-width="2"/><path d="M420.60,81.30C429.40,81.30 438.07,82.76 447.00,84.50C456.46,86.34 466.25,89.18 475.80,92.30C485.58,95.49 495.53,100.61 505.00,103.50C513.61,106.13 522.44,108.78 530.20,109.30C536.72,109.73 542.05,109.02 548.40,107.60C555.79,105.95 564.93,101.66 571.70,99.20C576.93,97.30 580.23,95.32 585.60,94.10C592.51,92.53 601.97,92.61 610.00,91.80C617.83,91.01 626.46,90.97 633.20,89.30C638.73,87.93 642.89,84.85 647.80,83.50C652.50,82.20 656.94,81.63 662.00,81.20C667.74,80.71 674.33,81.00 680.50,81.00M420.60,74.40C439.00,74.40 457.47,77.94 475.80,78.00C494.00,78.06 514.77,75.15 530.20,74.80C541.61,74.54 550.44,75.10 560.00,75.20C568.86,75.29 575.46,75.36 585.60,75.40C600.45,75.46 625.86,76.17 640.50,75.40C650.31,74.88 657.76,73.25 665.00,72.80C670.75,72.44 675.33,72.50 680.50,72.50M420.60,72.20C439.00,72.20 457.51,74.44 475.80,73.40C494.04,72.36 520.23,66.29 530.20,66.00C533.96,65.89 534.81,65.86 538.00,66.60C543.55,67.89 553.35,71.98 560.00,75.40C566.03,78.50 571.62,83.41 576.40,85.90C579.82,87.68 581.70,88.99 585.60,89.70C591.70,90.82 601.98,89.56 610.00,89.00C617.84,88.45 626.43,87.94 633.20,86.40C638.71,85.15 642.72,82.97 647.80,81.30C653.28,79.50 659.37,77.31 665.00,76.00C670.26,74.77 675.33,73.50 680.50,73.50M420.60,70.90C439.00,70.90 457.50,70.26 475.80,68.70C494.03,67.15 511.95,62.39 530.20,61.60C548.55,60.81 568.16,63.13 585.60,64.00C601.22,64.78 614.73,65.51 630.00,66.50C646.30,67.56 663.67,70.20 680.50,70.20M420.60,66.90C439.00,66.90 457.47,65.32 475.80,64.30C494.00,63.29 511.98,61.55 530.20,60.80C548.57,60.04 568.15,59.72 585.60,59.80C601.22,59.87 614.74,60.04 630.00,61.00C646.31,62.03 663.67,66.00 680.50,66.00M420.60,65.70C439.00,65.70 457.50,63.59 475.80,61.60C494.03,59.62 511.94,54.97 530.20,53.80C548.54,52.63 568.17,53.81 585.60,54.60C601.23,55.31 614.75,56.38 630.00,58.00C646.32,59.74 663.67,64.90 680.50,64.90M420.60,4.60C439.40,4.60 458.48,4.97 477.00,4.60C495.00,4.24 515.47,2.79 530.20,2.50C540.65,2.29 547.92,2.50 557.00,2.50C566.38,2.50 574.87,2.27 585.60,2.50C599.42,2.79 617.19,4.07 633.00,4.50C648.82,4.93 664.67,5.10 680.50,5.10M420.60,5.90C439.40,5.90 458.48,7.33 477.00,6.90C495.00,6.49 515.47,3.70 530.20,3.50C540.65,3.36 547.92,4.31 557.00,4.50C566.38,4.69 574.87,4.39 585.60,4.60C599.42,4.87 617.19,5.90 633.00,6.30C648.82,6.70 664.67,7.00 680.50,7.00M420.60,7.60C439.40,7.60 458.50,10.33 477.00,9.70C495.01,9.09 515.47,4.32 530.20,4.10C540.64,3.94 547.92,5.60 557.00,6.10C566.37,6.61 574.87,6.54 585.60,7.10C599.42,7.82 617.18,9.80 633.00,10.40C648.82,11.00 664.67,10.70 680.50,10.70M420.60,11.00C439.40,11.00 458.49,11.97 477.00,11.20C495.01,10.45 515.47,6.91 530.20,6.60C540.64,6.38 547.93,7.22 557.00,7.80C566.38,8.40 574.86,9.49 585.60,10.20C599.41,11.11 617.19,12.12 633.00,12.50C648.82,12.88 664.67,12.50 680.50,12.50M420.60,12.00C439.40,12.00 458.51,15.48 477.00,14.70C495.03,13.93 515.47,7.70 530.20,7.60C540.64,7.53 547.91,9.96 557.00,10.80C566.37,11.67 574.88,11.80 585.60,12.70C599.42,13.86 617.18,16.18 633.00,17.50C648.81,18.82 664.67,20.60 680.50,20.60M420.60,20.30C439.40,20.30 458.49,19.51 477.00,18.30C495.01,17.12 515.46,13.82 530.20,13.20C540.64,12.76 547.92,13.34 557.00,13.50C566.38,13.67 574.89,13.42 585.60,14.20C599.44,15.21 617.18,18.20 633.00,20.00C648.82,21.80 664.67,25.00 680.50,25.00M420.60,24.20C439.40,24.20 458.49,23.08 477.00,21.90C495.01,20.76 515.47,17.96 530.20,17.30C540.64,16.83 547.92,17.44 557.00,17.20C566.38,16.95 574.91,15.11 585.60,15.80C599.46,16.69 617.14,22.25 633.00,24.30C648.78,26.34 664.67,28.10 680.50,28.10M420.60,27.30C439.40,27.30 458.49,25.85 477.00,24.40C495.01,22.99 515.46,19.35 530.20,18.80C540.63,18.41 547.92,19.34 557.00,19.60C566.38,19.87 574.89,19.53 585.60,20.40C599.44,21.52 617.16,25.32 633.00,26.80C648.79,28.28 664.67,29.30 680.50,29.30M420.60,29.50C439.40,29.50 458.49,28.54 477.00,27.50C495.00,26.49 515.47,23.69 530.20,23.40C540.64,23.19 547.92,24.07 557.00,24.40C566.38,24.74 574.87,24.84 585.60,25.40C599.42,26.12 617.22,27.12 633.00,28.70C648.85,30.28 664.67,34.90 680.50,34.90M420.60,34.60C439.40,34.60 458.46,30.60 477.00,29.50C494.98,28.43 515.48,28.34 530.20,28.00C540.65,27.76 547.92,27.66 557.00,27.50C566.38,27.33 574.89,26.49 585.60,27.00C599.43,27.66 617.18,30.88 633.00,32.40C648.81,33.92 664.67,36.10 680.50,36.10M420.60,35.80C439.40,35.80 458.47,33.56 477.00,32.50C494.99,31.47 515.47,29.64 530.20,29.50C540.65,29.40 547.92,30.49 557.00,30.50C566.38,30.51 574.89,29.08 585.60,29.50C599.43,30.04 617.21,32.87 633.00,34.90C648.84,36.94 664.67,41.70 680.50,41.70M420.60,40.70C439.40,40.70 458.48,38.72 477.00,37.60C495.00,36.51 515.47,34.31 530.20,34.10C540.65,33.95 547.92,34.77 557.00,35.10C566.38,35.44 574.87,35.70 585.60,36.10C599.42,36.62 617.23,36.56 633.00,38.00C648.86,39.45 664.67,44.80 680.50,44.80M420.60,44.20C439.40,44.20 458.46,40.28 477.00,39.20C494.98,38.15 515.48,37.84 530.20,37.70C540.65,37.60 547.92,37.87 557.00,37.95C566.38,38.03 574.88,37.62 585.60,38.20C599.43,38.94 617.19,41.38 633.00,42.90C648.82,44.42 664.67,47.30 680.50,47.30M420.60,47.80C439.40,47.80 458.45,42.33 477.00,41.70C494.97,41.09 515.48,43.92 530.20,43.80C540.65,43.71 547.92,42.49 557.00,42.30C566.38,42.10 574.87,42.39 585.60,42.70C599.42,43.10 617.20,43.74 633.00,44.80C648.84,45.87 664.67,49.10 680.50,49.10M420.60,50.90C439.40,50.90 458.46,46.55 477.00,45.80C494.97,45.07 515.48,46.72 530.20,46.30C540.66,46.00 547.92,44.92 557.00,44.50C566.37,44.07 574.87,43.60 585.60,43.80C599.42,44.05 617.21,45.40 633.00,46.70C648.84,48.00 664.67,51.60 680.50,51.60M420.60,52.90C439.40,52.90 458.47,50.66 477.00,49.80C494.99,48.97 515.48,48.19 530.20,47.80C540.65,47.53 547.92,47.56 557.00,47.40C566.38,47.23 574.87,46.65 585.60,46.80C599.42,46.99 617.20,48.08 633.00,49.10C648.83,50.12 664.67,52.90 680.50,52.90M420.60,59.50C439.40,59.50 458.44,54.07 477.00,52.90C494.96,51.77 515.48,52.52 530.20,52.40C540.65,52.31 547.92,52.28 557.00,52.20C566.38,52.12 574.87,51.99 585.60,51.90C599.41,51.78 617.25,50.32 633.00,51.60C648.88,52.89 664.67,59.70 680.50,59.70" stroke="#0000ff" stroke-width="1.6" stroke-dasharray="1.5 2.15"/></g>
<g clip-path="url(#cl)" fill="none"><path d="M420.60,167.20C437.27,167.20 455.43,167.46 470.60,168.40C483.32,169.19 494.95,171.28 505.60,171.90C514.51,172.42 520.36,172.18 530.20,172.30C544.97,172.49 568.17,173.52 585.60,172.80C601.24,172.15 614.71,169.63 630.00,168.70C646.28,167.71 663.67,167.20 680.50,167.20M420.60,196.40C434.33,196.40 448.68,192.14 461.80,189.40C473.99,186.85 485.20,182.70 496.80,180.70C507.99,178.77 519.39,177.32 530.20,177.40C540.42,177.48 550.44,179.90 560.00,180.80C568.85,181.63 577.49,181.73 585.60,182.70C593.02,183.59 598.88,184.62 606.80,186.20C617.04,188.24 629.76,192.60 641.80,194.40C654.30,196.27 667.60,197.00 680.50,197.00M420.60,198.20C433.73,198.20 447.16,202.14 460.00,201.20C472.55,200.28 484.76,194.64 496.80,192.90C508.14,191.26 519.38,191.02 530.20,190.70C540.41,190.40 551.56,190.28 560.00,190.90C566.29,191.36 571.72,192.57 576.40,193.20C579.91,193.67 581.37,194.07 585.60,194.40C594.85,195.12 614.72,195.14 630.00,195.50C646.29,195.88 663.67,196.60 680.50,196.60M420.60,211.30C435.50,211.30 451.73,207.46 465.30,205.20C476.75,203.29 486.12,200.75 496.80,199.00C507.74,197.20 520.12,194.80 530.20,194.60C538.51,194.44 546.09,195.30 553.00,196.70C558.99,197.91 564.67,201.60 569.40,201.90C572.91,202.12 575.82,200.61 578.70,200.20C581.16,199.85 582.31,199.42 585.60,199.50C593.99,199.69 614.78,204.16 630.10,206.10C646.36,208.16 663.70,211.40 680.50,211.40M420.60,215.90C439.00,215.90 460.35,210.90 475.80,211.70C487.11,212.29 495.64,215.13 505.00,217.00C513.73,218.74 522.09,223.05 530.20,222.50C538.07,221.97 545.80,216.99 553.00,214.20C559.57,211.65 565.85,207.04 571.70,206.50C576.60,206.05 579.62,208.69 585.60,209.40C596.18,210.65 614.73,209.93 630.00,210.70C646.30,211.52 663.67,214.30 680.50,214.30M420.60,219.40C431.40,219.40 441.84,215.49 453.00,215.50C464.92,215.51 477.44,218.11 490.00,220.00C503.15,221.98 519.46,226.25 530.20,227.20C537.29,227.83 541.05,228.20 548.00,227.20C558.30,225.72 572.41,217.85 585.60,216.20C599.65,214.44 614.73,217.16 630.00,217.80C646.29,218.48 663.67,220.20 680.50,220.20M420.60,223.40C438.73,223.40 456.79,226.79 475.00,228.00C493.32,229.22 511.78,230.25 530.20,230.70C548.64,231.15 569.59,232.10 585.60,230.70C598.01,229.61 607.10,226.79 618.40,224.90C630.45,222.88 644.64,220.94 655.80,219.00C664.90,217.42 672.27,214.30 680.50,214.30M420.60,231.30C437.27,231.30 454.34,230.08 470.60,230.40C486.10,230.70 505.17,231.78 516.00,233.00C522.10,233.69 523.89,234.81 530.20,235.40C542.59,236.56 568.17,237.01 585.60,236.50C601.23,236.04 614.73,234.30 630.00,233.00C646.30,231.62 663.67,228.40 680.50,228.40M420.60,231.30C437.27,231.30 455.42,239.73 470.60,241.80C483.07,243.50 494.42,244.00 505.00,244.00C514.05,244.00 520.17,242.40 530.20,242.40C545.08,242.40 568.17,246.31 585.60,245.90C601.23,245.53 614.76,243.21 630.00,241.00C646.33,238.63 663.67,231.90 680.50,231.90M420.60,231.30C431.40,231.30 441.73,223.53 453.00,221.00C464.81,218.35 478.92,215.44 490.00,216.00C499.20,216.47 507.71,220.17 515.00,222.00C520.70,223.43 525.13,226.00 530.20,226.00M420.60,237.40C437.07,237.40 452.77,236.61 470.00,238.00C489.13,239.54 510.51,244.70 530.20,247.00C549.01,249.20 568.14,250.90 585.60,251.70C601.20,252.41 616.26,254.24 630.00,252.00C642.55,249.95 655.59,242.29 665.00,240.00C671.12,238.51 675.33,237.70 680.50,237.70M420.60,242.70C427.07,242.70 432.91,240.79 440.00,241.80C449.16,243.11 459.91,250.23 470.60,252.30C481.73,254.45 494.96,254.09 505.60,254.10C514.52,254.11 520.36,252.94 530.20,252.90C544.97,252.85 567.24,253.84 585.60,255.20C603.84,256.55 625.58,263.24 640.00,261.00C650.19,259.42 657.57,252.60 665.00,250.00C670.70,248.01 675.33,245.90 680.50,245.90M420.60,245.60C431.40,245.60 443.29,254.61 453.00,257.60C460.68,259.97 466.27,262.21 474.00,262.80C483.28,263.51 495.22,261.14 505.00,260.00C513.85,258.97 520.15,256.69 530.20,256.40C545.06,255.97 567.22,259.49 585.60,261.10C603.82,262.69 623.19,264.91 640.00,266.00C654.48,266.94 667.00,267.60 680.50,267.60M420.60,268.10C437.27,268.10 455.49,264.44 470.60,262.80C483.14,261.44 494.42,259.14 505.00,259.00C514.05,258.88 520.17,260.30 530.20,261.10C545.07,262.28 567.22,263.81 585.60,265.30C603.82,266.78 623.19,269.52 640.00,270.00C654.48,270.41 667.00,268.80 680.50,268.80M420.60,275.00C440.40,275.00 461.01,269.55 480.00,268.00C497.41,266.58 513.06,265.55 530.20,265.70C548.22,265.86 564.66,267.90 585.60,269.20C613.00,270.90 648.87,275.00 680.50,275.00M585.60,245.90C597.07,245.90 608.89,238.89 620.00,236.00C630.31,233.32 639.94,231.13 650.00,229.00C660.10,226.86 670.33,223.20 680.50,223.20M585.60,251.70C600.40,251.70 614.81,248.11 630.00,245.00C646.38,241.65 663.67,231.90 680.50,231.90M460.00,273.50C473.33,273.50 487.60,269.69 500.00,268.00C510.77,266.53 520.15,264.22 530.20,263.90C540.15,263.58 550.44,265.70 560.00,266.00C568.85,266.28 575.91,265.38 585.60,265.80C598.39,266.35 614.71,268.82 630.00,270.00C646.28,271.25 663.67,273.00 680.50,273.00M490.00,274.00C503.40,274.00 515.68,268.58 530.20,267.70C547.14,266.67 569.35,268.28 585.60,269.60C598.45,270.64 608.53,274.00 620.00,274.00M440.00,275.50C450.00,275.50 459.43,265.55 470.00,262.00C481.04,258.29 494.23,255.32 505.00,254.00C514.03,252.89 521.46,253.22 530.20,253.50C539.72,253.80 550.46,256.25 560.00,256.00C568.87,255.77 575.88,253.49 585.60,252.50C598.36,251.20 616.66,250.73 630.00,249.50C640.99,248.49 650.94,246.70 660.00,246.00C667.47,245.42 673.67,245.20 680.50,245.20" stroke="#ff0000" stroke-width="2"/><path d="M420.60,167.20C437.27,167.20 455.43,167.46 470.60,168.40C483.32,169.19 494.95,171.28 505.60,171.90C514.51,172.42 520.36,172.18 530.20,172.30C544.97,172.49 568.17,173.52 585.60,172.80C601.24,172.15 614.71,169.63 630.00,168.70C646.28,167.71 663.67,167.20 680.50,167.20M420.60,196.40C434.33,196.40 448.68,192.14 461.80,189.40C473.99,186.85 485.20,182.70 496.80,180.70C507.99,178.77 519.39,177.32 530.20,177.40C540.42,177.48 550.44,179.90 560.00,180.80C568.85,181.63 577.49,181.73 585.60,182.70C593.02,183.59 598.88,184.62 606.80,186.20C617.04,188.24 629.76,192.60 641.80,194.40C654.30,196.27 667.60,197.00 680.50,197.00M420.60,198.20C433.73,198.20 447.16,202.14 460.00,201.20C472.55,200.28 484.76,194.64 496.80,192.90C508.14,191.26 519.38,191.02 530.20,190.70C540.41,190.40 551.56,190.28 560.00,190.90C566.29,191.36 571.72,192.57 576.40,193.20C579.91,193.67 581.37,194.07 585.60,194.40C594.85,195.12 614.72,195.14 630.00,195.50C646.29,195.88 663.67,196.60 680.50,196.60M420.60,211.30C435.50,211.30 451.73,207.46 465.30,205.20C476.75,203.29 486.12,200.75 496.80,199.00C507.74,197.20 520.12,194.80 530.20,194.60C538.51,194.44 546.09,195.30 553.00,196.70C558.99,197.91 564.67,201.60 569.40,201.90C572.91,202.12 575.82,200.61 578.70,200.20C581.16,199.85 582.31,199.42 585.60,199.50C593.99,199.69 614.78,204.16 630.10,206.10C646.36,208.16 663.70,211.40 680.50,211.40M420.60,215.90C439.00,215.90 460.35,210.90 475.80,211.70C487.11,212.29 495.64,215.13 505.00,217.00C513.73,218.74 522.09,223.05 530.20,222.50C538.07,221.97 545.80,216.99 553.00,214.20C559.57,211.65 565.85,207.04 571.70,206.50C576.60,206.05 579.62,208.69 585.60,209.40C596.18,210.65 614.73,209.93 630.00,210.70C646.30,211.52 663.67,214.30 680.50,214.30M420.60,219.40C431.40,219.40 441.84,215.49 453.00,215.50C464.92,215.51 477.44,218.11 490.00,220.00C503.15,221.98 519.46,226.25 530.20,227.20C537.29,227.83 541.05,228.20 548.00,227.20C558.30,225.72 572.41,217.85 585.60,216.20C599.65,214.44 614.73,217.16 630.00,217.80C646.29,218.48 663.67,220.20 680.50,220.20M420.60,223.40C438.73,223.40 456.79,226.79 475.00,228.00C493.32,229.22 511.78,230.25 530.20,230.70C548.64,231.15 569.59,232.10 585.60,230.70C598.01,229.61 607.10,226.79 618.40,224.90C630.45,222.88 644.64,220.94 655.80,219.00C664.90,217.42 672.27,214.30 680.50,214.30M420.60,231.30C437.27,231.30 454.34,230.08 470.60,230.40C486.10,230.70 505.17,231.78 516.00,233.00C522.10,233.69 523.89,234.81 530.20,235.40C542.59,236.56 568.17,237.01 585.60,236.50C601.23,236.04 614.73,234.30 630.00,233.00C646.30,231.62 663.67,228.40 680.50,228.40M420.60,231.30C437.27,231.30 455.42,239.73 470.60,241.80C483.07,243.50 494.42,244.00 505.00,244.00C514.05,244.00 520.17,242.40 530.20,242.40C545.08,242.40 568.17,246.31 585.60,245.90C601.23,245.53 614.76,243.21 630.00,241.00C646.33,238.63 663.67,231.90 680.50,231.90M420.60,231.30C431.40,231.30 441.73,223.53 453.00,221.00C464.81,218.35 478.92,215.44 490.00,216.00C499.20,216.47 507.71,220.17 515.00,222.00C520.70,223.43 525.13,226.00 530.20,226.00M420.60,237.40C437.07,237.40 452.77,236.61 470.00,238.00C489.13,239.54 510.51,244.70 530.20,247.00C549.01,249.20 568.14,250.90 585.60,251.70C601.20,252.41 616.26,254.24 630.00,252.00C642.55,249.95 655.59,242.29 665.00,240.00C671.12,238.51 675.33,237.70 680.50,237.70M420.60,242.70C427.07,242.70 432.91,240.79 440.00,241.80C449.16,243.11 459.91,250.23 470.60,252.30C481.73,254.45 494.96,254.09 505.60,254.10C514.52,254.11 520.36,252.94 530.20,252.90C544.97,252.85 567.24,253.84 585.60,255.20C603.84,256.55 625.58,263.24 640.00,261.00C650.19,259.42 657.57,252.60 665.00,250.00C670.70,248.01 675.33,245.90 680.50,245.90M420.60,245.60C431.40,245.60 443.29,254.61 453.00,257.60C460.68,259.97 466.27,262.21 474.00,262.80C483.28,263.51 495.22,261.14 505.00,260.00C513.85,258.97 520.15,256.69 530.20,256.40C545.06,255.97 567.22,259.49 585.60,261.10C603.82,262.69 623.19,264.91 640.00,266.00C654.48,266.94 667.00,267.60 680.50,267.60M420.60,268.10C437.27,268.10 455.49,264.44 470.60,262.80C483.14,261.44 494.42,259.14 505.00,259.00C514.05,258.88 520.17,260.30 530.20,261.10C545.07,262.28 567.22,263.81 585.60,265.30C603.82,266.78 623.19,269.52 640.00,270.00C654.48,270.41 667.00,268.80 680.50,268.80M420.60,275.00C440.40,275.00 461.01,269.55 480.00,268.00C497.41,266.58 513.06,265.55 530.20,265.70C548.22,265.86 564.66,267.90 585.60,269.20C613.00,270.90 648.87,275.00 680.50,275.00M585.60,245.90C597.07,245.90 608.89,238.89 620.00,236.00C630.31,233.32 639.94,231.13 650.00,229.00C660.10,226.86 670.33,223.20 680.50,223.20M585.60,251.70C600.40,251.70 614.81,248.11 630.00,245.00C646.38,241.65 663.67,231.90 680.50,231.90M460.00,273.50C473.33,273.50 487.60,269.69 500.00,268.00C510.77,266.53 520.15,264.22 530.20,263.90C540.15,263.58 550.44,265.70 560.00,266.00C568.85,266.28 575.91,265.38 585.60,265.80C598.39,266.35 614.71,268.82 630.00,270.00C646.28,271.25 663.67,273.00 680.50,273.00M490.00,274.00C503.40,274.00 515.68,268.58 530.20,267.70C547.14,266.67 569.35,268.28 585.60,269.60C598.45,270.64 608.53,274.00 620.00,274.00M440.00,275.50C450.00,275.50 459.43,265.55 470.00,262.00C481.04,258.29 494.23,255.32 505.00,254.00C514.03,252.89 521.46,253.22 530.20,253.50C539.72,253.80 550.46,256.25 560.00,256.00C568.87,255.77 575.88,253.49 585.60,252.50C598.36,251.20 616.66,250.73 630.00,249.50C640.99,248.49 650.94,246.70 660.00,246.00C667.47,245.42 673.67,245.20 680.50,245.20" stroke="#0000ff" stroke-width="1.6" stroke-dasharray="1.5 2.15"/></g>
<path d="M415.8,10.3H420.6M415.8,30.4H420.6M415.8,50.3H420.6M415.8,70.1H420.6M415.8,90.0H420.6M415.8,109.8H420.6M415.8,162.0H420.6M415.8,182.4H420.6M415.8,202.7H420.6M415.8,223.3H420.6M415.8,243.6H420.6M415.8,264.0H420.6" stroke="#888" stroke-width="1"/>
<g font-size="11.7" fill="#111" text-anchor="end"><text x="410.2" y="34.6">1.3</text><text x="410.2" y="74.3">1.0</text><text x="410.2" y="114.0">0.7</text><text x="410.2" y="166.2">−0.7</text><text x="410.2" y="206.9">−1.0</text><text x="410.2" y="247.8">−1.3</text></g>
<g font-size="12" fill="#111" text-anchor="middle"><text x="420.8" y="288.6" font-family="Liberation Serif" font-size="12.5">Γ</text><text x="530.2" y="289">K</text><text x="585.6" y="289">M</text><text x="680.3" y="288.6" font-family="Liberation Serif" font-size="12.5">Γ</text></g>
<text transform="translate(374.2,170) rotate(-90)" font-size="12.2" fill="#111">Energy (eV)</text>
<path d="M433.9,127.4H465.3" stroke="#ff0000" stroke-width="2"/>
<path d="M434.6,147.8H463.8" stroke="#0000ff" stroke-width="2" stroke-dasharray="1.5 2.3"/>
<g font-size="12" fill="#111"><text x="470.4" y="131.4">DFT</text><text x="470.4" y="151.5">DeepH</text></g>
<text x="362.9" y="7.7" font-size="15" font-weight="bold">c</text>
<g fill="none" stroke-width="2.6"><path d="M427.20,537.70C431.80,537.70 436.44,536.51 441.00,535.80C445.51,535.10 450.54,534.87 454.40,533.50C457.67,532.34 460.72,531.08 462.90,528.70C465.27,526.12 466.46,522.22 467.70,518.20C469.21,513.28 469.45,506.62 470.60,501.10C471.70,495.84 472.52,490.40 474.40,485.80C476.12,481.58 479.18,478.28 481.10,474.40C482.96,470.64 484.39,467.37 485.80,462.90C487.66,457.01 489.03,449.30 490.60,441.90C492.34,433.66 494.20,426.34 495.70,415.70C498.00,399.41 499.38,367.74 501.20,353.40C502.17,345.79 502.68,339.35 504.10,336.00C504.77,334.43 505.69,332.80 506.40,332.90C507.39,333.04 508.15,336.88 509.00,340.00C510.55,345.67 511.97,355.69 513.50,364.50C515.29,374.76 516.65,391.55 519.00,397.90C520.03,400.69 520.85,401.89 522.40,403.50C524.12,405.28 526.86,405.59 529.10,407.90C532.71,411.62 536.61,421.97 540.00,425.60C541.95,427.69 543.46,429.02 545.60,429.60C547.89,430.22 551.08,428.05 553.40,428.90C555.94,429.83 557.70,433.02 560.00,435.60C562.82,438.77 566.02,444.41 568.90,446.70C570.80,448.22 572.74,447.69 574.50,449.40C577.40,452.22 579.59,460.93 582.30,464.50C584.12,466.89 585.74,469.27 587.90,469.70C590.15,470.14 592.95,466.31 595.60,466.80C599.18,467.47 603.37,472.61 606.80,476.80C610.94,481.86 613.96,490.08 617.90,495.70C621.41,500.71 624.97,507.96 629.00,509.10C632.14,509.99 635.65,505.78 639.00,505.70C642.35,505.62 646.06,506.75 649.10,508.60C652.47,510.65 655.03,518.00 658.00,518.00" stroke="#00a651"/><path d="M427.20,537.70C431.80,537.70 436.44,536.51 441.00,535.80C445.51,535.10 450.54,534.87 454.40,533.50C457.67,532.34 460.72,531.08 462.90,528.70C465.27,526.12 466.46,522.22 467.70,518.20C469.21,513.28 469.45,506.62 470.60,501.10C471.70,495.84 472.52,490.40 474.40,485.80C476.12,481.58 479.18,478.28 481.10,474.40C482.96,470.64 484.39,467.37 485.80,462.90C487.66,457.01 489.03,449.30 490.60,441.90C492.34,433.66 494.20,426.34 495.70,415.70C498.00,399.41 499.38,367.74 501.20,353.40C502.17,345.79 502.68,339.35 504.10,336.00C504.77,334.43 505.69,332.80 506.40,332.90C507.39,333.04 508.15,336.88 509.00,340.00C510.55,345.67 511.97,355.69 513.50,364.50C515.29,374.76 516.65,391.55 519.00,397.90C520.03,400.69 520.85,401.89 522.40,403.50C524.12,405.28 526.86,405.59 529.10,407.90C532.71,411.62 536.61,421.97 540.00,425.60C541.95,427.69 543.46,429.02 545.60,429.60C547.89,430.22 551.08,428.05 553.40,428.90C555.94,429.83 557.70,433.02 560.00,435.60C562.82,438.77 566.02,444.41 568.90,446.70C570.80,448.22 572.74,447.69 574.50,449.40C577.40,452.22 579.59,460.93 582.30,464.50C584.12,466.89 585.74,469.27 587.90,469.70C590.15,470.14 592.95,466.31 595.60,466.80C599.18,467.47 603.37,472.61 606.80,476.80C610.94,481.86 613.96,490.08 617.90,495.70C621.41,500.71 624.97,507.96 629.00,509.10C632.14,509.99 635.65,505.78 639.00,505.70C642.35,505.62 646.06,506.75 649.10,508.60C652.47,510.65 655.03,518.00 658.00,518.00" stroke="#ff6a13" stroke-dasharray="6.5 6.5"/><path d="M427.20,419.50C431.47,419.50 435.90,417.89 440.00,415.70C444.68,413.20 449.46,409.11 453.40,404.60C457.73,399.65 461.89,393.05 464.50,386.80C467.01,380.79 467.01,370.65 469.00,367.90C469.79,366.81 470.62,366.13 471.60,366.30C473.43,366.61 475.92,374.48 478.30,374.50C480.95,374.53 483.97,367.57 486.80,364.50C489.40,361.68 492.71,356.52 494.60,356.70C495.90,356.83 496.69,358.93 497.50,361.00C499.07,364.98 499.69,373.79 500.50,380.00C501.27,385.94 501.72,390.39 502.30,397.50C503.21,408.57 503.89,427.17 504.90,440.00C505.74,450.65 506.67,460.01 507.70,469.20C508.62,477.44 509.61,485.55 510.70,492.60C511.60,498.45 511.91,505.07 513.60,508.60C514.61,510.71 515.83,512.58 517.40,513.00C519.01,513.43 521.38,510.49 523.20,511.00C525.53,511.66 527.44,515.99 529.60,518.80C532.00,521.94 533.99,527.14 536.90,529.00C539.23,530.49 542.54,529.44 544.80,530.50C546.89,531.48 548.30,532.80 550.10,534.90C552.92,538.20 555.44,545.98 558.80,549.50C561.45,552.27 565.00,553.46 567.60,555.30C569.76,556.83 571.54,557.97 573.40,559.70C575.46,561.61 576.81,566.04 579.30,566.40C582.39,566.85 587.24,558.74 591.00,559.10C595.03,559.49 598.75,566.43 602.60,569.90C606.31,573.25 610.15,579.60 613.70,579.60C616.96,579.60 619.86,574.44 623.10,571.40C626.82,567.91 630.77,560.96 634.70,559.70C637.60,558.77 640.50,560.39 643.50,561.20C646.82,562.09 651.00,564.96 653.70,565.00C655.47,565.02 656.63,563.50 658.10,563.50" stroke="#c00000"/><path d="M427.20,419.50C431.47,419.50 435.90,417.89 440.00,415.70C444.68,413.20 449.46,409.11 453.40,404.60C457.73,399.65 461.89,393.05 464.50,386.80C467.01,380.79 467.01,370.65 469.00,367.90C469.79,366.81 470.62,366.13 471.60,366.30C473.43,366.61 475.92,374.48 478.30,374.50C480.95,374.53 483.97,367.57 486.80,364.50C489.40,361.68 492.71,356.52 494.60,356.70C495.90,356.83 496.69,358.93 497.50,361.00C499.07,364.98 499.69,373.79 500.50,380.00C501.27,385.94 501.72,390.39 502.30,397.50C503.21,408.57 503.89,427.17 504.90,440.00C505.74,450.65 506.67,460.01 507.70,469.20C508.62,477.44 509.61,485.55 510.70,492.60C511.60,498.45 511.91,505.07 513.60,508.60C514.61,510.71 515.83,512.58 517.40,513.00C519.01,513.43 521.38,510.49 523.20,511.00C525.53,511.66 527.44,515.99 529.60,518.80C532.00,521.94 533.99,527.14 536.90,529.00C539.23,530.49 542.54,529.44 544.80,530.50C546.89,531.48 548.30,532.80 550.10,534.90C552.92,538.20 555.44,545.98 558.80,549.50C561.45,552.27 565.00,553.46 567.60,555.30C569.76,556.83 571.54,557.97 573.40,559.70C575.46,561.61 576.81,566.04 579.30,566.40C582.39,566.85 587.24,558.74 591.00,559.10C595.03,559.49 598.75,566.43 602.60,569.90C606.31,573.25 610.15,579.60 613.70,579.60C616.96,579.60 619.86,574.44 623.10,571.40C626.82,567.91 630.77,560.96 634.70,559.70C637.60,558.77 640.50,560.39 643.50,561.20C646.82,562.09 651.00,564.96 653.70,565.00C655.47,565.02 656.63,563.50 658.10,563.50" stroke="#14b4ef" stroke-dasharray="6.5 6.5"/></g>
<rect x="421.5" y="320.6" width="259" height="271.6" fill="none" stroke="#777" stroke-width="1"/>
<path d="M417.1,332.6H421.5M417.1,383.8H421.5M417.1,435.1H421.5M417.1,486.3H421.5M417.1,537.6H421.5M417.1,588.9H421.5M427.2,592.2V597.1M484.8,592.2V597.1M542.4,592.2V597.1M600.1,592.2V597.1M657.7,592.2V597.1" stroke="#777" stroke-width="1"/>
<g font-size="12" fill="#111"><text x="411.5" y="336.9" text-anchor="end">80</text><text x="411.5" y="388.1" text-anchor="end">60</text><text x="411.5" y="439.4" text-anchor="end">40</text><text x="411.5" y="490.6" text-anchor="end">20</text><text x="411.5" y="541.9" text-anchor="end">0</text><text x="411.5" y="593.2" text-anchor="end">−20</text><text x="427.2" y="611.0" text-anchor="middle">0</text><text x="484.8" y="611.0" text-anchor="middle">2</text><text x="542.4" y="611.0" text-anchor="middle">4</text><text x="600.1" y="611.0" text-anchor="middle">6</text><text x="657.7" y="611.0" text-anchor="middle">8</text></g>
<text transform="translate(383.9,522.0) rotate(-90)" font-size="12.3" fill="#111">Electric susceptibility (Å)</text>
<text x="534" y="625.5" font-size="12.2" fill="#111"><tspan font-family="Liberation Serif" font-style="italic">ω</tspan> (eV)</text>
<text x="363.2" y="319.9" font-size="15" font-weight="bold">d</text>
<g stroke-width="2.6"><path d="M562.3,337.3H585.1" stroke="#c00000"/><path d="M562.3,358.3H585.1" stroke="#00a651"/><path d="M563.2,379.7H570.5M576.9,379.7H584.2" stroke="#14b4ef"/><path d="M563.2,401.2H570.5M576.9,401.2H584.2" stroke="#ff6a13"/></g>
<g font-size="11.8" fill="#111"><text x="591.5" y="341.6">DFT Re(<tspan font-family="Liberation Serif" font-style="italic" font-size="13.5" dx="0.8">χ</tspan><tspan font-family="Liberation Serif" font-style="italic" font-size="9.5" dy="-5" dx="0.3">xx</tspan><tspan dy="5" dx="0.5">)</tspan></text><text x="591.5" y="362.6">DFT Im(<tspan font-family="Liberation Serif" font-style="italic" font-size="13.5" dx="0.8">χ</tspan><tspan font-family="Liberation Serif" font-style="italic" font-size="9.5" dy="-5" dx="0.3">xx</tspan><tspan dy="5" dx="0.5">)</tspan></text><text x="591.5" y="384.0">DeepH Re(<tspan font-family="Liberation Serif" font-style="italic" font-size="13.5" dx="0.8">χ</tspan><tspan font-family="Liberation Serif" font-style="italic" font-size="9.5" dy="-5" dx="0.3">xx</tspan><tspan dy="5" dx="0.5">)</tspan></text><text x="591.5" y="405.5">DeepH Im(<tspan font-family="Liberation Serif" font-style="italic" font-size="13.5" dx="0.8">χ</tspan><tspan font-family="Liberation Serif" font-style="italic" font-size="9.5" dy="-5" dx="0.3">xx</tspan><tspan dy="5" dx="0.5">)</tspan></text></g>
</svg></body></html>
